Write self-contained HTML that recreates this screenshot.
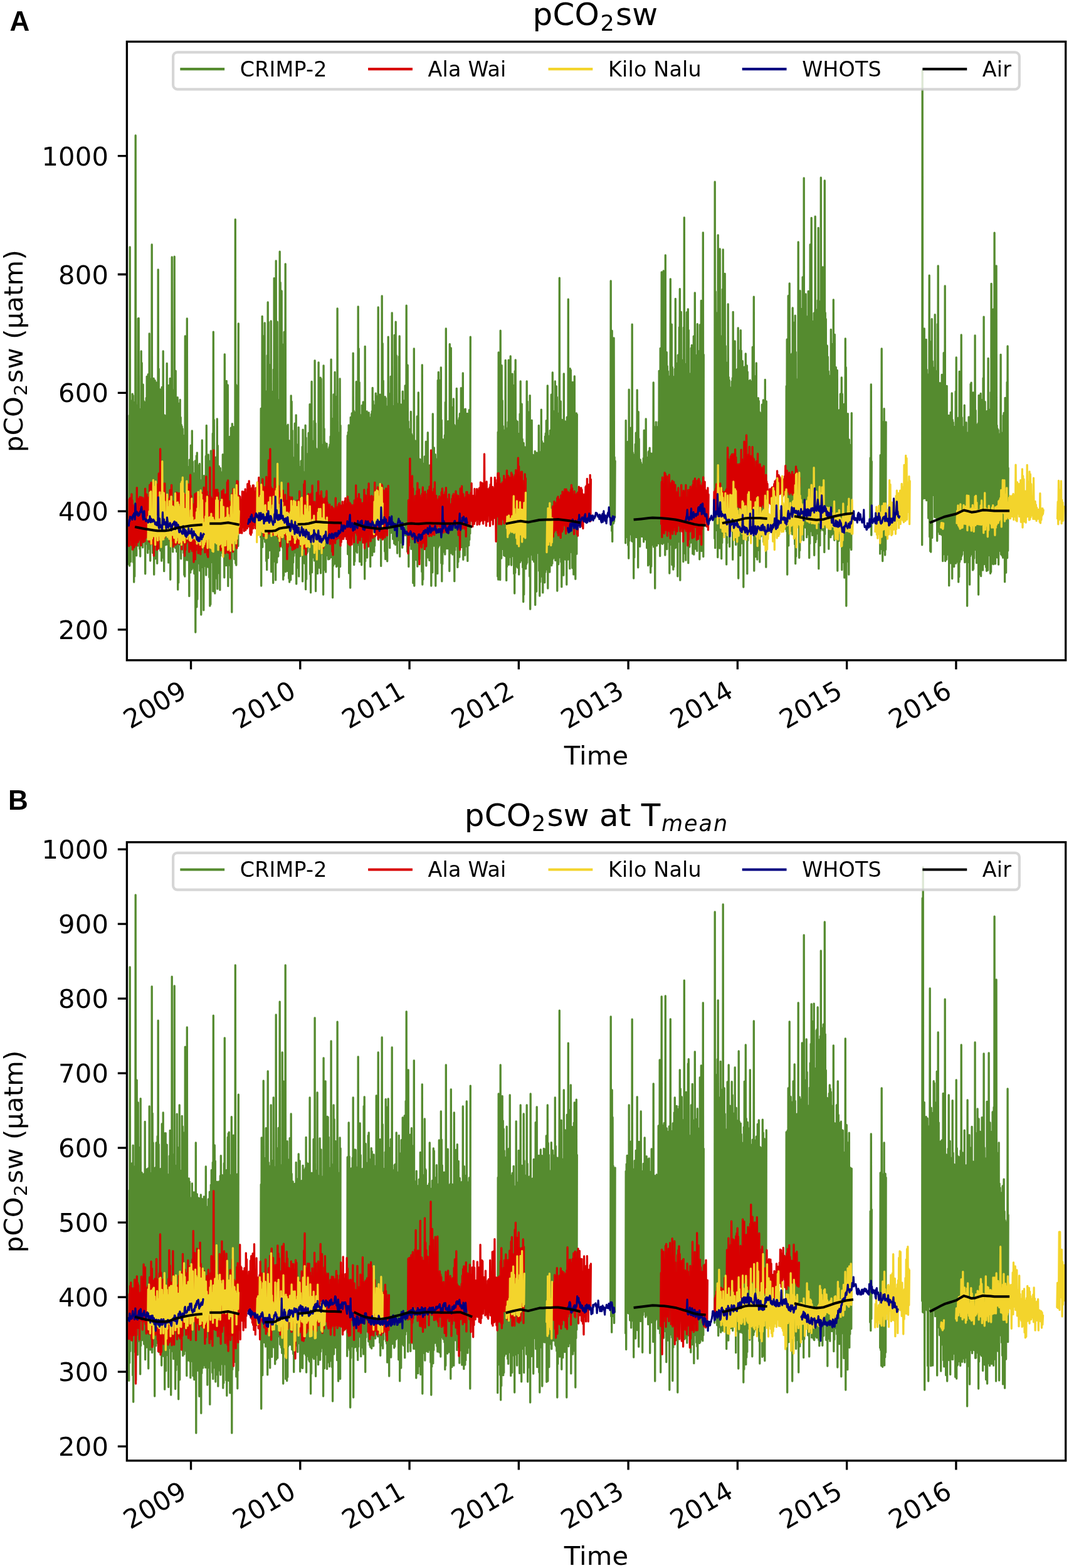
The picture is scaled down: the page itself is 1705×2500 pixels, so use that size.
<!DOCTYPE html>
<html lang="en"><head><meta charset="utf-8"><title>pCO2sw time series</title>
<style>html,body{margin:0;padding:0;background:#fff}body{width:1705px;height:2500px;overflow:hidden}svg{display:block}text{font-family:"DejaVu Sans","Liberation Sans",sans-serif;fill:#000;letter-spacing:0.2px}.pl{font-family:"Liberation Sans","DejaVu Sans",sans-serif;font-weight:bold;font-size:44px;letter-spacing:0}</style>
</head><body>
<svg width="1705" height="2500" viewBox="0 0 1705 2500">
<rect width="1705" height="2500" fill="#fff"/>
<text class="pl" x="15.5" y="48.7">A</text>
<text class="pl" x="13" y="1290.8">B</text>
<clipPath id="clipA"><rect x="202.4" y="66.4" width="1497.3" height="986.3000000000001"/></clipPath>
<g clip-path="url(#clipA)"><path d="M205.7 900.0L206.2 662.4L206.7 902.0L207.2 394.0L207.7 863.5L208.2 679.8L208.7 895.4L209.2 639.2L209.7 857.6L210.2 681.6L210.7 864.7L211.2 628.1L211.7 864.4L212.2 630.6L212.7 896.5L213.2 660.0L213.7 928.0L214.2 676.9L214.7 919.0L215.2 641.2L215.7 847.8L216.2 216.0L216.7 839.6L217.2 661.8L217.7 885.8L218.2 675.3L218.7 865.9L219.2 645.9L219.7 870.1L220.2 508.0L220.7 869.2L221.2 507.4L221.7 867.3L222.2 672.4L222.7 875.2L223.2 652.6L223.7 887.1L224.2 667.9L224.7 860.1L225.2 560.0L225.7 869.3L226.2 578.6L226.7 845.1L227.2 667.7L227.7 872.9L228.2 613.2L228.7 849.0L229.2 639.5L229.7 861.1L230.2 659.4L230.7 841.2L231.2 641.6L231.7 914.8L232.2 649.4L232.7 856.7L233.2 634.5L233.7 867.2L234.2 600.3L234.7 837.5L235.2 642.5L235.7 881.6L236.2 596.8L236.7 856.7L237.2 602.7L237.7 875.1L238.2 532.0L238.7 848.2L239.2 604.0L239.7 894.0L240.2 636.9L240.7 860.3L241.2 635.5L241.7 854.0L242.2 390.0L242.7 867.7L243.2 652.4L243.7 881.5L244.2 641.6L244.7 849.0L245.2 603.5L245.7 916.0L246.2 663.4L246.7 859.2L247.2 606.6L247.7 890.8L248.2 642.8L248.7 872.4L249.2 609.8L249.7 869.7L250.2 625.1L250.7 898.3L251.2 657.6L251.7 852.8L252.2 430.0L252.7 854.9L253.2 588.1L253.7 857.4L254.2 642.9L254.7 868.8L255.2 621.0L255.7 877.9L256.2 638.4L256.7 866.8L257.2 666.8L257.7 894.2L258.2 617.4L258.7 889.4L259.2 656.3L259.7 873.8L260.2 560.0L260.7 841.6L261.2 668.3L261.7 910.7L262.2 662.0L262.7 847.4L263.2 668.0L263.7 868.8L264.2 669.4L264.7 846.9L265.2 662.3L265.7 868.3L266.2 579.4L266.7 855.4L267.2 659.5L267.7 859.6L268.2 636.4L268.7 897.0L269.2 614.4L269.7 868.9L270.2 665.7L270.7 894.2L271.2 603.3L271.7 924.0L272.2 649.4L272.7 859.3L273.2 617.8L273.7 854.7L274.2 410.0L274.7 860.2L275.2 660.7L275.7 879.8L276.2 675.1L276.7 869.0L277.2 621.7L277.7 866.6L278.2 409.2L278.7 856.8L279.2 666.2L279.7 873.6L280.2 591.3L280.7 868.6L281.2 657.9L281.7 879.6L282.2 650.0L282.7 874.6L283.2 633.7L283.7 940.0L284.2 655.4L284.7 929.1L285.2 677.2L285.7 868.5L286.2 642.8L286.7 864.1L287.2 637.4L287.7 854.7L288.2 665.5L288.7 890.8L289.2 677.2L289.7 859.2L290.2 679.9L290.7 868.1L291.2 683.6L291.7 876.2L292.2 694.1L292.8 881.6L293.3 717.3L293.8 916.5L294.3 722.0L294.8 919.1L295.3 536.0L295.8 893.2L296.3 717.5L296.8 887.6L297.3 690.1L297.8 885.6L298.3 508.0L298.8 893.0L299.3 744.2L299.8 884.2L300.3 746.0L300.8 884.5L301.3 761.4L301.8 950.4L302.3 733.2L302.8 894.9L303.3 755.9L303.8 912.9L304.3 710.1L304.8 886.0L305.3 749.2L305.8 907.9L306.3 687.0L306.8 905.7L307.3 735.8L307.8 891.0L308.3 754.3L308.8 902.5L309.3 755.8L309.8 914.6L310.3 771.1L310.8 898.0L311.3 734.8L311.8 1008.0L312.3 745.0L312.8 945.2L313.3 726.6L313.8 967.8L314.3 721.8L314.8 955.4L315.3 762.2L315.8 888.6L316.3 742.2L316.8 893.1L317.3 764.9L317.8 898.3L318.3 739.4L318.8 909.9L319.3 778.0L319.8 901.1L320.3 770.2L320.8 980.0L321.3 765.5L321.8 892.8L322.3 702.0L322.8 897.8L323.3 759.4L323.8 904.4L324.3 763.4L324.8 972.8L325.3 758.7L325.8 893.7L326.3 763.9L326.8 891.7L327.3 763.5L327.8 902.6L328.3 727.2L328.8 916.9L329.3 678.5L329.8 899.1L330.3 741.7L330.8 891.4L331.3 757.1L331.8 904.1L332.3 724.9L332.8 898.6L333.3 745.4L333.8 920.4L334.3 735.5L334.8 966.0L335.3 741.2L335.8 963.6L336.3 719.0L336.8 893.3L337.3 734.2L337.8 896.3L338.3 743.5L338.8 888.8L339.3 691.2L339.8 942.8L340.3 529.2L340.8 914.5L341.3 669.3L341.8 874.0L342.3 748.1L342.8 946.1L343.3 750.0L343.8 878.3L344.3 729.2L344.8 877.8L345.3 756.8L345.8 922.3L346.3 668.0L346.8 938.9L347.3 710.5L347.8 877.8L348.3 744.2L348.8 906.0L349.3 743.5L349.8 914.1L350.3 750.5L350.8 940.6L351.3 746.3L351.8 886.2L352.3 757.7L352.8 872.4L353.3 753.1L353.8 874.9L354.3 754.2L354.8 881.6L355.3 724.6L355.8 873.5L356.3 743.3L356.8 879.0L357.3 746.4L357.8 920.8L358.3 564.8L358.8 883.5L359.3 671.8L359.8 887.5L360.3 720.6L360.8 901.5L361.3 607.3L361.8 891.2L362.3 642.4L362.8 858.2L363.3 614.0L363.8 934.4L364.3 719.2L364.8 876.7L365.3 701.2L365.8 884.7L366.3 696.3L366.8 901.3L367.3 702.3L367.8 920.8L368.3 682.2L368.8 857.3L369.3 699.0L369.8 976.0L370.3 675.6L370.8 860.1L371.3 685.0L371.8 855.8L372.3 680.6L372.8 873.2L373.3 688.5L373.8 891.4L374.3 693.0L374.8 875.1L375.3 350.0L375.8 898.2L376.3 613.2L376.8 901.1L377.3 614.8L377.8 873.9L378.3 649.7L378.8 862.9L379.3 647.3L379.8 870.5L380.3 516.0M415.7 856.4L416.2 651.3L416.7 934.0L417.2 651.1L417.7 856.8L418.2 504.3L418.7 872.3L419.2 663.0L419.7 859.2L420.2 536.0L420.7 850.4L421.2 647.7L421.7 837.0L422.2 514.8L422.7 864.0L423.2 632.5L423.7 835.1L424.2 630.2L424.7 894.4L425.2 623.6L425.7 908.4L426.2 566.7L426.7 871.0L427.2 482.0L427.7 889.7L428.2 513.5L428.7 861.7L429.2 637.8L429.7 877.6L430.2 581.9L430.7 858.5L431.2 662.0L431.7 850.7L432.2 512.0L432.7 911.7L433.2 635.9L433.7 855.6L434.2 652.5L434.7 887.7L435.2 624.2L435.7 929.4L436.2 589.1L436.7 895.4L437.2 443.6L437.7 840.0L438.2 464.8L438.7 861.1L439.2 642.4L439.7 924.8L440.2 416.0L440.7 873.4L441.2 593.1L441.7 896.8L442.2 513.2L442.7 877.2L443.2 658.4L443.7 887.1L444.2 660.2L444.7 847.6L445.2 637.3L445.7 877.8L446.2 401.2L446.7 852.0L447.2 450.5L447.7 870.3L448.2 635.3L448.7 856.6L449.2 464.0L449.7 860.2L450.2 646.6L450.7 873.2L451.2 652.6L451.7 924.0L452.2 548.9L452.7 917.9L453.2 529.3L453.7 892.1L454.2 665.0L454.7 845.3L455.2 420.8L455.7 911.6L456.2 678.9L456.7 854.3L457.2 697.4L457.7 858.2L458.2 709.7L458.7 910.4L459.2 677.2L459.7 877.6L460.2 705.8L460.7 922.2L461.2 702.6L461.7 928.0L462.2 720.6L462.7 871.2L463.2 719.8L463.7 924.6L464.2 630.8L464.7 874.9L465.2 640.2L465.7 864.9L466.2 686.4L466.7 915.1L467.2 740.4L467.7 896.9L468.2 729.8L468.7 886.3L469.2 733.6L469.7 873.6L470.2 675.2L470.7 880.8L471.2 732.2L471.7 875.5L472.2 661.8L472.7 930.9L473.2 751.1L473.7 893.1L474.2 743.5L474.7 868.9L475.2 708.7L475.7 905.6L476.2 681.3L476.7 918.9L477.2 747.0L477.7 869.7L478.2 744.6L478.7 886.7L479.1 747.5L479.6 864.3L480.1 735.0L480.6 869.6L481.1 755.4L481.6 876.3L482.1 712.3L482.6 926.9L483.1 685.1L483.6 874.6L484.1 757.1L484.6 878.4L485.1 753.2L485.6 898.0L486.1 756.5L486.6 883.6L487.1 678.2L487.6 939.7L488.1 697.9L488.6 923.4L489.1 723.5L489.6 881.9L490.1 746.1L490.6 879.5L491.1 749.8L491.6 872.8L492.1 690.4L492.6 872.2L493.1 693.9L493.6 870.8L494.1 644.7L494.6 915.4L495.1 713.4L495.6 944.8L496.1 734.7L496.6 876.5L497.1 608.4L497.6 912.6L498.1 723.0L498.6 889.0L499.1 703.8L499.6 879.2L500.1 703.0L500.6 887.1L501.1 671.1L501.6 893.9L502.1 574.8L502.6 880.9L503.1 674.9L503.6 942.5L504.1 715.0L504.6 875.5L505.1 721.5L505.6 885.1L506.1 716.6L506.6 914.4L507.1 729.2L507.6 890.8L508.1 577.8L508.6 892.5L509.1 732.7L509.6 905.3L510.1 725.8L510.6 894.5L511.1 602.1L511.6 913.8L512.1 604.0L512.6 877.7L513.1 734.3L513.6 883.1L514.1 716.9L514.6 875.1L515.1 708.8L515.6 948.0L516.1 582.8L516.6 900.4L517.1 683.6L517.6 908.4L518.1 705.2L518.6 884.4L519.1 707.3L519.6 912.0L520.1 718.1L520.6 868.7L521.1 707.5L521.6 868.2L522.1 719.3L522.6 885.8L523.1 716.3L523.6 891.8L524.1 720.9L524.6 887.3L525.1 712.9L525.6 891.2L526.1 708.9L526.6 883.6L527.1 696.0L527.6 888.6L528.1 573.2L528.6 886.9L529.1 667.1L529.6 873.3L530.1 701.1L530.6 952.8L531.1 719.8L531.6 902.0L532.1 628.9L532.6 874.3L533.1 693.7L533.6 899.1L534.1 593.5L534.6 883.1L535.1 653.1L535.6 895.2L536.1 706.8L536.6 903.6L537.1 632.1L537.6 897.1L538.1 492.0L538.6 888.0L539.1 689.8L539.6 902.6L540.1 692.1L540.6 920.2L541.1 689.7L541.6 890.7L542.1 604.0L542.6 903.4L543.1 678.4M553.7 845.1L554.2 694.4L554.7 883.5L555.2 689.2L555.7 842.6L556.2 677.9L556.7 913.9L557.2 685.0L557.7 862.1L558.2 679.3L558.7 937.2L559.2 665.5L559.7 859.1L560.2 681.7L560.7 859.0L561.2 658.9L561.7 850.7L562.2 672.1L562.7 851.7L563.2 563.2L563.7 842.1L564.2 655.0L564.7 900.6L565.2 684.1L565.7 895.1L566.2 657.6L566.7 856.2L567.2 668.4L567.7 878.8L568.2 608.6L568.7 871.2L569.2 672.8L569.7 881.2L570.2 684.5L570.7 869.0L571.2 488.8L571.7 856.6L572.2 555.8L572.7 854.5L573.2 609.7L573.7 895.5L574.2 679.6L574.7 848.2L575.2 673.0L575.7 877.5L576.2 661.4L576.7 900.8L577.2 646.3L577.7 845.0L578.2 670.8L578.7 864.6L579.2 641.0L579.7 853.8L580.2 666.0L580.7 839.1L581.2 665.9L581.7 923.1L582.2 552.3L582.7 894.8L583.2 674.4L583.7 844.4L584.2 657.1L584.7 862.6L585.2 656.0L585.7 889.0L586.2 669.8L586.7 843.6L587.2 662.8L587.7 865.9L588.2 657.8L588.7 832.1L589.2 673.5L589.7 839.2L590.2 677.1L590.7 903.4L591.2 665.7L591.7 845.5L592.2 660.4L592.7 855.0L593.2 655.7L593.7 885.5L594.2 618.4L594.7 839.2L595.2 639.6L595.7 830.4L596.2 674.6L596.7 879.9L597.2 646.5L597.7 870.0L598.2 656.4L598.7 843.9L599.2 627.2L599.7 852.0L600.2 631.5L600.7 837.0L601.2 635.8L601.7 839.4L602.2 652.4L602.7 838.3L603.2 490.0L603.7 860.8L604.2 644.7L604.7 832.3L605.2 654.9L605.7 841.1L606.2 629.1L606.7 833.0L607.2 642.0L607.7 902.4L608.2 657.1L608.7 853.1L609.2 472.0L609.7 841.0L610.2 547.7L610.7 834.4L611.2 607.1L611.7 854.1L612.2 645.0L612.7 827.6L613.2 656.3L613.7 879.2L614.2 632.6L614.7 891.6L615.2 634.8L615.7 832.4L616.2 659.9L616.7 870.3L617.2 656.0L617.7 894.8L618.2 648.0L618.7 825.9L619.2 537.2L619.7 824.5L620.2 627.4L620.7 837.7L621.2 651.2L621.7 873.6L622.2 661.9L622.7 828.0L623.2 600.3L623.7 849.6L624.2 650.5L624.7 841.1L625.2 498.8L625.7 840.9L626.2 657.9L626.7 859.6L627.2 660.2L627.7 838.5L628.2 647.1L628.7 866.6L629.2 534.5L629.7 845.0L630.2 658.5L630.7 868.5L631.2 513.2L631.7 837.3L632.2 566.6L632.7 866.3L633.2 643.6L633.7 882.1L634.2 646.4L634.7 861.5L635.2 648.5L635.7 847.9L636.2 568.4L636.7 837.2L637.2 535.9L637.7 887.3L638.2 648.3L638.7 856.6L639.2 644.8L639.7 850.1L640.2 649.9L640.7 865.4L641.2 650.1L641.7 873.2L642.2 624.1L642.7 864.5L643.2 638.5L643.7 826.1L644.2 664.7L644.7 830.6L645.2 646.5L645.7 836.4L646.2 614.8L646.7 853.7L647.2 644.5L647.7 838.3L648.2 487.2L648.7 828.3L649.2 597.0L649.7 879.6L650.2 582.2L650.7 851.7L651.2 672.0L651.8 903.4L652.3 685.0L652.8 848.0L653.3 684.5L653.8 864.3L654.3 698.3L654.8 852.1L655.3 656.3L655.8 875.3L656.3 691.9L656.8 849.6L657.3 703.4L657.8 858.7L658.3 695.1L658.8 929.6L659.3 737.7L659.8 854.0L660.3 556.0L660.8 934.0L661.3 710.4L661.8 863.1L662.3 702.8L662.8 888.3L663.3 712.9L663.8 892.5L664.3 720.7L664.8 856.4L665.3 664.0L665.8 903.2L666.3 701.2L666.8 864.6L667.3 625.9L667.8 858.4L668.3 734.3L668.8 891.8L669.3 732.1L669.8 859.7L670.3 732.6L670.8 853.8L671.3 733.2L671.8 870.6L672.3 748.2L672.8 911.6L673.3 582.0L673.8 932.0L674.3 739.0L674.8 924.1L675.3 742.5L675.8 870.5L676.3 751.4L676.8 859.7L677.3 727.8L677.8 854.7L678.3 749.5L678.8 860.5L679.3 704.1L679.8 902.1L680.3 748.0L680.8 867.8L681.3 747.4L681.8 863.6L682.3 689.7L682.8 888.9L683.3 754.4L683.8 882.4L684.3 757.0L684.8 893.4L685.3 742.0L685.8 882.7L686.3 747.8L686.8 870.6L687.3 754.6L687.8 934.0L688.3 751.4L688.8 864.7L689.3 744.3L689.8 912.7L690.3 659.8L690.8 858.1L691.3 737.9L691.8 870.2L692.3 713.9L692.8 862.3L693.3 749.3L693.8 856.7L694.3 724.7L694.8 934.0L695.3 732.5L695.8 858.1L696.3 732.3L696.8 906.8L697.3 738.3L697.8 914.4L698.3 606.3L698.8 873.1L699.3 593.4L699.8 870.5L700.3 606.0L700.8 854.7L701.3 711.1L701.8 868.9L702.3 638.4L702.8 858.2L703.3 586.0L703.8 897.9L704.3 669.9L704.8 926.8L705.3 713.4L705.8 899.2L706.3 700.6L706.8 855.3L707.3 709.6L707.8 872.1L708.3 702.6L708.8 880.2L709.3 694.0L709.8 883.9L710.3 641.5L710.8 875.1L711.3 524.0L711.8 867.3L712.3 705.5L712.8 867.6L713.3 684.1L713.8 874.7L714.3 671.7L714.8 855.1L715.3 681.4L715.8 870.0L716.3 671.2L716.8 910.5L717.3 548.6L717.8 871.9L718.3 652.7L718.8 881.9L719.3 554.8L719.8 876.7L720.3 671.7L720.8 878.9L721.3 649.6L721.8 884.1L722.3 677.4L722.8 849.0L723.3 635.8L723.8 864.7L724.3 677.1L724.8 926.7L725.3 679.0L725.8 876.9L726.3 680.6L726.8 845.6L727.3 686.1L727.8 870.5L728.3 619.3L728.8 870.8L729.3 669.8L729.8 904.4L730.3 673.7L730.8 895.8L731.3 671.4L731.8 863.6L732.3 666.5L732.8 888.2L733.3 659.7L733.8 848.0L734.3 666.6L734.8 870.4L735.3 618.7L735.8 872.5L736.3 678.7L736.8 853.9L737.3 672.2L737.8 872.0L738.3 594.8L738.8 892.3L739.3 657.9L739.8 860.8L740.3 661.3L740.8 870.8L741.3 652.6L741.8 885.3L742.3 652.1L742.8 870.3L743.3 678.3L743.8 871.1L744.3 669.6L744.8 871.1L745.3 659.3L745.8 894.4L746.3 679.2L746.8 866.7L747.3 672.5L747.8 869.6L748.3 653.6L748.8 860.5L749.3 674.9L749.8 850.7L750.3 537.2M793.7 918.9L794.2 688.9L794.7 924.0L795.2 562.0L795.7 878.3L796.2 696.2L796.7 910.0L797.2 676.7L797.7 924.4L798.2 527.2L798.7 887.5L799.2 662.2L799.7 890.0L800.2 582.7L800.7 875.7L801.2 638.6L801.7 873.9L802.2 679.4L802.7 871.9L803.2 695.9L803.7 885.6L804.2 686.5L804.7 877.5L805.2 703.3L805.7 886.7L806.2 574.5L806.7 875.2L807.2 682.6L807.7 925.4L808.2 684.7L808.7 903.2L809.2 703.7L809.7 894.0L810.2 672.8L810.7 894.9L811.2 574.1L811.7 900.3L812.2 685.8L812.7 874.8L813.2 592.0L813.7 888.2L814.2 567.9L814.7 873.6L815.2 683.9L815.7 901.1L816.2 694.9L816.7 875.1L817.2 596.2L817.7 872.0L818.2 614.1L818.7 886.9L819.2 693.2L819.7 914.7L820.2 661.2L820.7 946.0L821.2 591.7L821.7 913.3L822.2 573.9L822.7 894.2L823.2 670.1L823.7 883.2L824.2 714.3L824.7 903.6L825.2 672.1L825.7 905.0L826.2 691.3L826.7 884.4L827.2 691.6L827.7 915.9L828.2 699.4L828.7 881.8L829.2 660.0L829.7 896.3L830.2 608.0L830.7 889.1L831.2 707.0L831.7 893.3L832.2 644.1L832.7 892.1L833.2 700.1L833.7 904.7L834.2 715.6L834.7 959.5L835.2 706.3L835.7 948.1L836.2 729.3L836.7 883.6L837.2 712.8L837.7 904.6L838.2 736.6L838.7 906.8L839.2 728.7L839.7 899.4L840.2 608.0L840.7 897.0L841.2 640.2L841.7 886.1L842.2 656.7L842.7 887.6L843.2 708.0L843.7 885.8L844.2 731.7L844.7 919.1L845.2 630.6L845.7 971.2L846.2 723.6L846.7 884.5L847.2 729.2L847.7 876.9L848.2 670.1L848.7 880.8L849.2 731.9L849.7 892.4L850.2 725.4L850.7 877.5L851.2 728.6L851.7 895.6L852.2 733.0L852.7 878.6L853.2 719.3L853.7 964.4L854.2 726.2L854.7 901.8L855.2 722.1L855.7 943.0L856.2 721.9L856.8 879.6L857.3 728.3L857.8 877.4L858.3 742.1L858.8 881.9L859.3 678.4L859.8 910.2L860.3 727.6L860.8 950.0L861.3 720.9L861.8 927.9L862.3 731.2L862.8 901.6L863.3 653.2L863.8 883.0L864.3 703.5L864.8 919.4L865.3 724.4L865.8 944.9L866.3 706.9L866.8 873.3L867.3 723.9L867.8 875.8L868.3 720.3L868.8 928.8L869.3 695.8L869.8 912.2L870.3 690.9L870.8 908.3L871.3 670.6L871.8 892.9L872.3 702.7L872.8 887.4L873.3 614.8L873.8 938.0L874.3 694.9L874.8 890.1L875.3 704.1L875.8 869.4L876.3 705.4L876.8 912.0L877.3 686.5L877.8 896.7L878.3 694.3L878.8 885.2L879.3 629.2L879.8 901.6L880.3 679.0L880.8 898.4L881.3 594.0L881.8 891.3L882.3 696.9L882.8 870.0L883.3 655.9L883.8 889.1L884.3 694.9L884.8 871.9L885.3 608.0L885.8 893.6L886.3 651.4L886.8 890.7L887.3 615.8L887.8 869.6L888.3 633.2L888.8 942.0L889.3 658.8L889.8 884.2L890.3 696.3L890.8 899.6L891.3 673.7L891.8 886.1L892.3 443.2L892.8 887.0L893.3 673.8L893.8 889.1L894.3 639.9L894.8 896.0L895.3 678.3L895.8 935.7L896.3 669.4L896.8 866.1L897.3 671.9L897.8 869.2L898.3 681.2L898.8 917.2L899.3 596.0L899.8 864.5L900.3 695.9L900.8 875.0L901.3 671.8L901.8 892.1L902.3 692.9L902.8 869.7L903.3 675.6L903.8 932.0L904.3 665.2L904.8 863.6L905.3 665.1L905.8 892.1L906.3 477.2L906.8 871.7L907.3 680.3L907.8 868.8L908.3 673.3L908.8 906.5L909.3 587.7L909.8 880.5L910.3 590.0L910.8 871.0L911.3 629.1L911.8 878.8L912.3 636.4L912.8 905.6L913.3 609.4L913.8 874.0L914.3 644.6L914.8 915.9L915.3 658.6L915.8 872.2L916.3 600.0L916.8 872.6L917.3 663.0L917.8 923.2L918.3 666.9L918.8 861.6L919.3 658.8L919.8 883.2L920.3 660.8M973.7 819.2L974.2 448.0L974.7 821.6L975.2 530.0L975.7 846.5L976.2 527.4L976.7 863.4L977.1 585.2L977.6 830.6L978.1 652.7L978.6 834.6L979.1 538.9L979.6 831.4L980.1 728.8L980.6 825.2L981.1 735.0M997.7 865.8L998.2 670.4L998.7 856.7L999.2 720.2L999.7 856.1L1000.2 713.8L1000.7 849.9L1001.2 704.5L1001.7 869.2L1002.2 728.4L1002.7 890.2L1003.2 621.2L1003.7 862.2L1004.2 728.6L1004.7 842.2L1005.2 684.9L1005.7 851.8L1006.2 682.1L1006.7 850.4L1007.2 718.7L1007.7 862.8L1008.2 517.2L1008.7 863.3L1009.2 721.6L1009.7 864.1L1010.2 725.7L1010.7 922.0L1011.2 725.1L1011.7 888.7L1012.2 741.5L1012.7 846.2L1013.2 708.2L1013.7 841.6L1014.2 690.1L1014.7 856.5L1015.2 743.4L1015.7 856.0L1016.2 622.0L1016.7 849.0L1017.2 732.3L1017.7 904.8L1018.2 656.7L1018.7 853.0L1019.2 699.7L1019.7 854.5L1020.2 745.0L1020.7 871.3L1021.2 732.9L1021.7 852.5L1022.2 737.5L1022.7 847.4L1023.2 747.2L1023.7 855.4L1024.2 744.3L1024.7 855.3L1025.2 740.5L1025.7 853.3L1026.2 730.7L1026.7 863.9L1027.2 686.2L1027.7 859.4L1028.2 738.5L1028.7 853.3L1029.2 728.0L1029.7 860.0L1030.2 668.0L1030.7 856.1L1031.2 729.2L1031.7 873.7L1032.2 738.9L1032.7 863.3L1033.2 741.2L1033.7 901.7L1034.2 720.4L1034.7 859.4L1035.2 718.8L1035.7 899.5L1036.2 714.2L1036.7 848.1L1037.2 726.9L1037.7 913.0L1038.2 723.0L1038.7 903.2L1039.2 723.8L1039.7 868.9L1040.2 730.6L1040.7 843.4L1041.2 722.6L1041.7 849.9L1042.2 610.0L1042.7 871.9L1043.2 689.7L1043.7 842.4L1044.2 718.7L1044.7 938.0L1045.2 680.4L1045.7 845.7L1046.2 673.0L1046.7 867.8L1047.2 688.8L1047.7 869.9L1048.2 680.8L1048.7 841.1L1049.2 702.9L1049.7 855.8L1050.2 672.7L1050.7 866.4L1051.2 591.3L1051.7 843.1L1052.2 609.3L1052.7 886.5L1053.2 555.3L1053.7 855.5L1054.2 613.9L1054.7 866.0L1055.2 434.0L1055.7 840.7L1056.2 599.4L1056.7 867.3L1057.2 590.6L1057.7 849.4L1058.2 432.0L1058.7 849.7L1059.2 595.5L1059.8 865.8L1060.3 595.1L1060.8 885.1L1061.3 406.8L1061.8 863.8L1062.3 604.6L1062.8 836.6L1063.3 561.7L1063.8 875.5L1064.3 583.7L1064.8 833.7L1065.3 592.0L1065.8 850.5L1066.3 599.8L1066.8 864.3L1067.3 602.7L1067.8 914.0L1068.3 608.5L1068.8 850.3L1069.3 444.8L1069.8 865.9L1070.3 584.2L1070.8 868.7L1071.3 517.1L1071.8 900.6L1072.3 585.3L1072.8 870.6L1073.3 600.6L1073.8 908.1L1074.3 602.9L1074.8 903.5L1075.3 600.5L1075.8 836.5L1076.3 588.2L1076.8 873.8L1077.3 476.5L1077.8 873.0L1078.3 584.2L1078.8 852.7L1079.3 616.6L1079.8 850.2L1080.3 578.8L1080.8 918.8L1081.3 566.1L1081.8 838.8L1082.3 600.4L1082.8 829.0L1083.3 522.0L1083.8 863.9L1084.3 460.7L1084.8 925.0L1085.3 534.3L1085.8 843.3L1086.3 497.3L1086.8 838.3L1087.3 573.9L1087.8 827.4L1088.3 597.9L1088.8 841.3L1089.3 587.7L1089.8 895.6L1090.3 522.2L1090.8 875.2L1091.3 346.8L1091.8 882.2L1092.3 589.1L1092.8 845.3L1093.3 580.6L1093.8 893.2L1094.3 599.7L1094.8 844.1L1095.3 497.9L1095.8 846.5L1096.3 500.5L1096.8 830.3L1097.3 492.8L1097.8 897.7L1098.3 526.4L1098.8 855.5L1099.3 601.8L1099.8 871.9L1100.3 596.2L1100.8 851.6L1101.3 606.2L1101.8 865.2L1102.3 554.9L1102.8 839.5L1103.3 550.3L1103.8 828.5L1104.3 574.1L1104.8 882.9L1105.3 598.7L1105.8 872.3L1106.3 536.2L1106.8 884.1L1107.3 608.5L1107.8 874.9L1108.3 466.8L1108.8 845.4L1109.3 566.1L1109.8 875.0L1110.3 597.4L1110.8 866.0L1111.3 584.6L1111.8 878.4L1112.3 516.6L1112.8 848.1L1113.3 595.8L1113.8 857.7L1114.3 564.1L1114.8 851.6L1115.3 559.5L1115.8 891.8L1116.3 518.0L1116.8 836.1L1117.3 547.6L1117.8 837.8L1118.3 479.5L1118.8 878.6L1119.3 583.8L1119.8 842.1L1120.3 573.3L1120.8 863.2L1121.3 370.8L1121.8 887.5L1122.3 565.4M1139.7 858.6L1140.2 290.0L1140.7 873.7L1141.2 465.0L1141.7 808.3L1142.2 555.5L1142.7 845.3L1143.2 499.2L1143.7 829.8L1144.2 525.3L1144.7 888.5L1145.2 374.8L1145.7 863.8L1146.2 416.2L1146.7 845.5L1147.2 537.5L1147.7 874.1L1148.2 396.9L1148.7 844.1L1149.2 535.7L1149.7 807.3L1150.2 552.6L1150.7 890.7L1151.2 559.3L1151.7 865.4L1152.2 461.2L1152.7 841.2L1153.2 398.0L1153.7 853.2L1154.2 483.9L1154.7 813.7L1155.2 556.6L1155.7 825.0L1156.2 436.5L1156.7 849.3L1157.2 551.6L1157.7 835.4L1158.2 577.8L1158.7 899.9L1159.2 580.7L1159.7 865.8L1160.2 626.6L1160.7 846.0L1161.2 485.0L1161.7 815.7L1162.2 601.4L1162.7 839.7L1163.2 606.2L1163.7 871.5L1164.2 617.6L1164.7 826.5L1165.2 618.2L1165.7 824.9L1166.2 631.3L1166.7 842.9L1167.2 608.2L1167.7 840.1L1168.2 602.7L1168.7 892.2L1169.2 497.3L1169.7 838.3L1170.2 622.2L1170.7 839.3L1171.2 616.0L1171.7 832.5L1172.2 544.0L1172.7 844.4L1173.2 589.2L1173.7 868.6L1174.2 605.7L1174.7 857.6L1175.2 622.2L1175.7 837.9L1176.2 588.1L1176.7 818.5L1177.2 522.9L1177.7 922.0L1178.2 558.6L1178.7 820.0L1179.2 610.9L1179.7 833.5L1180.2 603.8L1180.8 885.7L1181.3 526.6L1181.8 839.6L1182.3 559.2L1182.8 866.2L1183.3 604.0L1183.8 818.0L1184.3 575.6L1184.8 824.4L1185.3 596.1L1185.8 936.0L1186.3 608.0L1186.8 832.1L1187.3 585.2L1187.8 838.6L1188.3 608.9L1188.8 851.6L1189.3 564.0L1189.8 829.0L1190.3 595.8L1190.8 817.8L1191.3 583.0L1191.8 914.7L1192.3 592.9L1192.8 861.7L1193.3 627.8L1193.8 843.9L1194.3 614.8L1194.8 840.2L1195.3 607.1L1195.8 846.0L1196.3 606.2L1196.8 818.0L1197.3 608.2L1197.8 853.8L1198.3 612.1L1198.8 811.2L1199.3 628.6L1199.8 841.2L1200.3 553.4L1200.8 828.5L1201.3 577.7L1201.8 820.2L1202.3 473.2L1202.8 910.0L1203.3 623.4L1203.8 851.8L1204.3 599.8L1204.8 870.9L1205.3 635.4L1205.8 887.7L1206.3 578.9L1206.8 842.8L1207.3 657.3L1207.8 892.1L1208.3 653.3L1208.8 855.3L1209.3 634.6L1209.8 824.2L1210.3 639.3L1210.8 877.4L1211.3 656.9L1211.8 896.0L1212.3 665.2L1212.8 838.8L1213.3 659.9L1213.8 855.1L1214.3 658.5L1214.8 841.6L1215.3 645.2L1215.8 820.8L1216.3 646.5L1216.8 827.8L1217.3 638.0L1217.8 864.0L1218.3 641.5L1218.8 860.2L1219.3 640.6L1219.8 830.1L1220.3 605.4L1220.8 839.1L1221.3 656.0L1221.8 904.2L1222.3 639.9M1253.7 843.7L1254.2 615.6L1254.7 847.3L1255.2 541.2L1255.7 916.0L1256.2 632.5L1256.7 851.4L1257.2 471.7L1257.7 869.9L1258.2 622.7L1258.7 838.6L1259.2 452.0L1259.7 842.6L1260.2 564.9L1260.7 846.6L1261.2 582.9L1261.7 834.5L1262.2 605.7L1262.7 831.5L1263.2 563.6L1263.7 851.9L1264.2 491.0L1264.7 841.6L1265.2 601.1L1265.7 827.8L1266.2 563.2L1266.7 831.8L1267.2 514.0L1267.7 867.7L1268.2 503.1L1268.7 898.7L1269.2 561.3L1269.7 887.1L1270.2 604.6L1270.7 834.5L1271.2 605.9L1271.7 822.0L1272.2 612.4L1272.7 840.4L1273.2 386.0L1273.7 824.9L1274.2 514.7L1274.7 889.3L1275.2 596.2L1275.7 877.5L1276.2 463.6L1276.7 821.0L1277.2 584.0L1277.7 861.3L1278.2 492.6L1278.7 841.9L1279.2 501.6L1279.7 841.6L1280.2 441.8L1280.7 837.6L1281.2 578.5L1281.7 861.3L1282.2 284.0L1282.7 831.1L1283.2 577.5L1283.7 833.1L1284.2 565.9L1284.7 841.1L1285.2 469.0L1285.7 826.9L1286.2 564.5L1286.7 856.7L1287.2 538.7L1287.7 829.1L1288.2 504.5L1288.7 848.7L1289.2 464.3L1289.7 852.3L1290.2 532.1L1290.7 889.4L1291.2 539.1L1291.7 866.6L1292.2 390.0L1292.7 847.2L1293.2 555.2L1293.7 827.5L1294.2 347.5L1294.7 833.6L1295.2 523.8L1295.7 853.5L1296.2 512.7L1296.7 845.4L1297.2 516.2L1297.7 844.3L1298.2 499.2L1298.7 885.3L1299.2 534.3L1299.7 852.9L1300.2 345.2L1300.7 864.4L1301.2 504.6L1301.7 860.1L1302.2 494.1L1302.7 851.0L1303.2 502.0L1303.7 830.1L1304.2 478.8L1304.7 816.7L1305.2 363.3L1305.8 906.7L1306.3 487.8L1306.8 827.5L1307.3 481.2L1307.8 869.7L1308.3 480.3L1308.8 846.0L1309.3 283.2L1309.8 820.1L1310.3 506.4L1310.8 843.1L1311.3 499.4L1311.8 818.0L1312.3 425.8L1312.8 845.5L1313.3 427.7L1313.8 812.3L1314.3 451.6L1314.8 880.4L1315.3 288.0L1315.8 851.5L1316.3 498.7L1316.8 834.0L1317.3 508.7L1317.8 826.2L1318.3 550.5L1318.8 839.3L1319.3 551.5L1319.8 828.2L1320.3 568.8L1320.8 819.1L1321.3 592.0L1321.8 875.2L1322.3 599.0L1322.8 848.7L1323.3 607.7L1323.8 841.7L1324.3 605.2L1324.8 856.6L1325.3 525.4L1325.8 845.1L1326.3 604.9L1326.8 852.4L1327.3 548.7L1327.8 834.3L1328.3 617.7L1328.8 845.6L1329.3 478.0L1329.8 851.0L1330.3 622.7L1330.8 861.3L1331.3 533.3L1331.8 856.4L1332.3 594.7L1332.8 826.7L1333.3 585.6L1333.8 833.1L1334.3 659.5L1334.8 841.7L1335.3 590.4L1335.8 910.0L1336.3 655.0L1336.8 840.5L1337.3 655.7L1337.8 862.3L1338.3 653.8L1338.8 850.4L1339.3 657.3L1339.8 843.4L1340.3 628.1L1340.8 849.9L1341.3 654.0L1341.8 838.7L1342.3 602.0L1342.8 908.5L1343.3 628.1L1343.8 873.3L1344.3 682.2L1344.8 896.4L1345.3 677.0L1345.8 880.9L1346.3 644.5L1346.8 921.1L1347.3 696.5L1347.8 886.3L1348.3 540.0L1348.8 849.6L1349.3 585.7L1349.8 966.0L1350.3 680.5L1350.8 887.6L1351.3 698.7L1351.8 895.0L1352.3 659.6L1352.8 837.6L1353.3 706.4L1353.8 916.0L1354.3 700.8L1354.8 848.9L1355.3 711.6L1355.8 872.8L1356.3 711.6L1356.8 871.9L1357.3 709.2L1357.8 876.4L1358.3 658.6M1387.7 827.7L1388.2 730.0L1388.8 840.5L1389.3 612.8L1389.8 853.2L1390.3 735.7M1403.7 882.9L1404.2 725.7L1404.7 864.2L1405.2 734.8L1405.7 861.2L1406.2 556.0L1406.7 875.8L1407.2 672.5L1407.7 894.6L1408.2 721.9L1408.6 859.0L1409.1 732.0L1409.6 877.7L1410.1 651.7L1410.6 870.8L1411.1 721.0L1411.6 884.9L1412.1 713.6L1412.6 876.2L1413.1 672.9M1470.7 868.8L1471.2 112.0L1471.7 795.5L1472.2 601.2L1472.7 790.8L1473.2 614.1L1473.7 783.8L1474.2 523.8L1474.7 794.5L1475.2 595.3L1475.7 780.0L1476.2 609.7L1476.7 791.9L1477.2 541.3L1477.7 797.8L1478.2 589.4L1478.7 794.9L1479.2 600.3L1479.7 794.5L1480.2 597.1L1480.7 826.2L1481.2 596.6L1481.7 786.2L1482.2 439.2L1482.7 855.9L1483.2 592.7L1483.7 878.7L1484.2 544.9L1484.7 880.0L1485.2 569.9L1485.7 837.5L1486.2 508.7L1486.7 857.4L1487.2 575.9L1487.7 781.7L1488.2 595.2L1488.7 781.2L1489.2 588.2L1489.7 789.4L1490.2 585.8L1490.7 824.4L1491.2 501.7L1491.7 823.8L1492.2 591.3L1492.7 825.2L1493.2 612.4L1493.7 805.0L1494.2 593.8L1494.7 862.3L1495.2 516.7L1495.7 816.7L1496.2 424.0L1496.7 833.6L1497.2 635.9L1497.7 848.1L1498.2 641.6L1498.7 851.5L1499.2 610.7L1499.7 849.9L1500.2 646.6L1500.7 835.0L1501.2 620.2L1501.7 852.8L1502.2 597.3L1502.7 845.4L1503.2 661.8L1503.7 894.6L1504.2 605.5L1504.7 874.8L1505.2 562.6L1505.7 866.8L1506.2 596.8L1506.7 884.0L1507.2 456.0L1507.7 894.6L1508.2 659.0L1508.7 890.4L1509.2 645.3L1509.7 892.0L1510.2 615.5L1510.7 880.8L1511.2 672.6L1511.7 884.1L1512.2 681.8L1512.7 882.1L1513.2 662.3L1513.7 933.7L1514.2 665.1L1514.7 883.6L1515.2 671.0L1515.7 865.7L1516.2 657.7L1516.7 897.9L1517.2 673.6L1517.7 862.2L1518.2 627.0L1518.7 922.5L1519.2 669.3L1519.7 890.9L1520.2 673.4L1520.7 886.7L1521.2 683.6L1521.7 903.6L1522.2 686.6L1522.7 868.2L1523.2 680.2L1523.7 876.8L1524.2 624.2L1524.7 898.2L1525.2 569.9L1525.7 873.8L1526.2 666.0L1526.7 889.5L1527.2 668.9L1527.7 895.9L1528.2 680.9L1528.7 927.9L1529.2 666.0L1529.7 919.7L1530.2 592.3L1530.7 895.8L1531.2 614.6L1531.7 868.4L1532.2 654.9L1532.7 891.8L1533.2 534.0L1533.7 886.6L1534.2 665.7L1534.7 884.2L1535.2 683.6L1535.7 877.8L1536.2 684.1L1536.7 865.7L1537.2 680.3L1537.7 873.0L1538.2 646.1L1538.7 896.5L1539.1 689.8L1539.6 887.9L1540.1 684.1L1540.6 885.1L1541.1 673.7L1541.6 896.3L1542.1 689.6L1542.6 966.0L1543.1 691.2L1543.6 892.5L1544.1 691.1L1544.6 869.2L1545.1 665.0L1545.6 896.6L1546.1 687.7L1546.6 932.0L1547.1 678.1L1547.6 886.7L1548.1 612.3L1548.6 877.2L1549.1 610.1L1549.6 881.6L1550.1 689.0L1550.6 884.0L1551.1 674.2L1551.6 908.9L1552.1 625.8L1552.6 907.3L1553.1 688.5L1553.6 890.2L1554.1 671.2L1554.6 874.9L1555.1 534.8L1555.6 876.4L1556.1 654.5L1556.6 871.4L1557.1 686.9L1557.6 897.5L1558.1 690.1L1558.6 868.7L1559.1 676.9L1559.6 891.7L1560.1 674.8L1560.6 948.0L1561.1 630.3L1561.6 916.0L1562.1 679.3L1562.6 871.9L1563.1 694.2L1563.6 904.6L1564.1 627.5L1564.6 918.6L1565.1 677.6L1565.6 876.9L1566.1 637.6L1566.6 878.0L1567.1 691.5L1567.6 909.0L1568.1 603.0L1568.6 876.6L1569.1 505.2L1569.6 899.6L1570.1 679.8L1570.6 890.3L1571.1 640.7L1571.6 881.5L1572.1 661.9L1572.6 904.3L1573.1 667.9L1573.6 910.3L1574.1 655.7L1574.6 906.7L1575.1 671.2L1575.6 909.2L1576.1 571.5L1576.6 885.7L1577.1 655.2L1577.6 883.5L1578.1 661.2L1578.6 866.3L1579.1 652.9L1579.6 914.3L1580.1 625.6L1580.6 912.0L1581.1 452.3L1581.6 899.3L1582.1 501.1L1582.6 892.9L1583.1 665.3L1583.6 887.0L1584.1 493.1L1584.6 899.5L1585.1 632.7L1585.6 866.6L1586.1 371.2L1586.6 898.5L1587.1 585.1L1587.6 898.9L1588.1 640.5L1588.6 872.5L1589.1 424.0L1589.6 885.3L1590.1 678.3L1590.6 888.8L1591.1 683.6L1591.6 866.7L1592.1 685.6L1592.6 900.1L1593.1 703.9L1593.6 867.8L1594.1 692.3L1594.6 876.7L1595.1 708.6L1595.6 878.6L1596.1 565.3L1596.6 884.0L1597.1 701.1L1597.6 881.2L1598.1 690.5L1598.6 886.3L1599.1 719.5L1599.6 889.2L1600.1 662.4L1600.6 867.3L1601.1 658.5L1601.6 879.9L1602.1 711.9L1602.6 927.7L1603.1 634.5L1603.6 870.4L1604.1 734.4L1604.6 913.0L1605.1 722.9L1605.6 855.1L1606.1 609.5L1606.6 889.6L1607.1 552.0L1607.6 878.0L1608.1 746.2" fill="none" stroke="#558b2f" stroke-width="3.3" stroke-linejoin="round" stroke-linecap="round"/><path d="M205.7 870.5L206.3 795.9L206.9 845.7L207.5 794.2L208.1 861.5L208.7 801.1L209.3 868.9L209.9 787.8L210.5 862.1L211.1 797.9L211.7 876.3L212.3 805.3L212.9 860.1L213.5 816.6L214.1 872.5L214.7 808.5L215.3 864.0L215.9 806.9L216.5 852.7L217.1 805.7L217.7 869.7L218.3 777.6L218.9 861.0L219.5 807.0L220.1 864.3L220.7 795.5L221.3 861.4L221.9 818.6L222.5 857.9L223.1 792.5L223.7 855.3L224.3 808.2L224.9 869.7L225.5 793.0L226.1 854.2L226.7 810.5L227.3 860.0L227.9 793.9L228.5 864.4L229.1 804.4L229.8 858.5L230.4 797.7L231.0 862.7L231.6 779.1L232.2 850.7L232.8 788.7L233.4 857.0L234.0 788.1L234.6 852.7L235.2 793.0L235.8 853.1L236.4 793.7L237.0 857.0L237.6 802.2L238.2 863.7L238.8 773.1L239.4 862.8L240.0 795.6L240.6 867.3L241.2 769.5L241.8 849.6L242.4 795.3L243.0 866.2L243.6 796.1L244.2 866.4L244.8 804.9L245.4 886.1L246.0 792.7L246.6 851.1L247.2 797.5L247.8 860.6L248.4 785.8L249.0 846.4L249.6 772.2L250.2 876.7L250.8 786.6L251.4 863.8L252.0 793.9L252.6 874.8L253.2 754.9L253.8 861.1L254.4 780.0L255.0 856.2L255.6 716.0L256.2 853.1L256.8 783.0L257.4 855.5L258.0 783.4L258.6 846.6L259.2 791.8L259.8 850.3L260.4 771.2L261.0 853.2L261.6 790.1L262.2 857.0L262.8 770.9L263.4 854.0L264.0 789.5L264.6 852.3L265.2 806.4L265.8 850.2L266.4 793.0L267.0 853.3L267.6 799.1L268.2 848.0L268.8 806.2L269.4 846.1L270.0 795.0L270.6 854.1L271.2 781.3L271.8 862.2L272.4 800.5L273.0 858.4L273.6 773.3L274.2 861.9L274.8 799.9L275.4 850.3L276.0 799.5L276.6 871.6L277.2 810.1L277.8 867.1L278.4 810.1L279.0 863.7L279.6 806.4L280.2 868.6L280.8 816.9L281.4 859.6L282.0 785.3L282.6 865.9L283.2 788.6L283.8 853.8L284.4 798.7L285.0 866.6L285.6 786.3L286.2 866.8L286.8 805.2L287.4 862.4L288.0 788.5L288.6 859.1L289.2 798.6L289.8 875.7L290.4 790.4L291.0 865.7L291.6 808.9L292.2 863.4L292.8 786.0L293.4 860.6L294.0 788.7L294.6 886.2L295.2 788.9L295.8 876.7L296.4 807.6L297.0 866.6L297.6 793.3L298.2 864.0L298.8 792.8L299.4 852.6L300.0 772.2L300.6 852.6L301.2 790.7L301.8 879.9L302.4 797.5L303.0 867.0L303.6 757.2L304.2 875.0L304.8 790.5L305.4 853.5L306.0 797.9L306.6 878.5L307.2 803.3L307.8 860.0L308.4 807.0L309.0 896.1L309.6 811.8L310.2 873.5L310.8 787.8L311.4 891.7L312.0 812.8L312.6 876.9L313.2 786.2L313.8 867.5L314.4 796.9L315.0 857.7L315.6 799.0L316.2 882.0L316.8 798.1L317.4 862.0L318.0 792.6L318.6 874.1L319.2 806.6L319.8 883.7L320.4 796.3L321.0 876.5L321.6 785.6L322.2 857.8L322.8 792.9L323.4 867.5L324.0 807.5L324.6 851.9L325.2 777.2L325.8 858.2L326.4 785.0L327.0 880.7L327.6 812.5L328.2 867.0L328.8 759.8L329.4 868.0L330.0 783.6L330.6 884.9L331.2 792.0L331.8 888.2L332.4 791.5L333.0 848.9L333.6 790.4L334.2 863.0L334.8 745.2L335.4 873.5L336.0 792.0L336.6 863.1L337.2 794.6L337.8 871.3L338.4 805.0L339.0 864.8L339.6 796.6L340.2 839.6L340.8 718.0L341.4 843.5L342.0 788.0L342.6 864.4L343.2 804.6L343.8 861.9L344.4 780.8L345.0 848.4L345.6 787.8L346.2 860.4L346.8 780.9L347.4 860.2L348.0 785.8L348.6 860.1L349.2 800.3L349.8 867.0L350.4 801.0L351.0 852.0L351.6 799.1L352.2 877.6L352.8 805.9L353.4 855.6L354.0 783.2L354.6 857.6L355.2 783.1L355.8 842.6L356.4 781.0L357.0 866.7L357.6 802.9L358.2 872.0L358.8 788.7L359.4 881.9L360.0 793.5L360.6 872.7L361.2 787.9L361.8 849.3L362.4 768.9L363.0 880.8L363.6 765.9L364.2 881.6L364.8 807.0L365.4 864.6L366.0 799.5L366.6 890.8L367.2 804.6L367.8 866.7L368.4 801.9L369.0 869.6L369.6 788.2L370.2 865.9L370.8 796.2L371.4 879.7L372.0 779.6L372.6 859.3L373.2 789.8L373.8 856.7L374.4 790.1L375.0 861.6L375.6 799.9L376.2 850.3L376.8 795.1L377.4 874.1L378.0 766.9L378.6 846.2L379.2 767.6L379.8 847.3L380.4 799.1L381.0 840.9L381.6 790.6L382.2 849.5L382.8 792.0L383.4 849.6L384.0 799.6L384.6 839.6L385.2 797.2L385.8 850.1L386.4 783.7L387.0 836.3L387.6 786.2L388.2 841.0L388.8 784.2L389.4 846.7L390.0 787.4L390.6 840.7L391.2 780.0L391.8 845.2L392.4 786.3L393.0 839.6L393.6 787.7L394.2 842.5L394.8 771.6L395.4 834.1L396.0 780.7L396.6 839.4L397.2 767.0L397.8 831.4L398.4 774.3L399.0 850.9L399.6 779.7L400.2 852.8L400.8 785.9L401.4 849.6L402.0 777.7L402.6 838.4L403.2 774.0L403.8 842.5L404.4 774.0L405.0 837.1L405.6 784.1L406.2 832.4L406.8 791.9L407.4 842.3L408.0 777.9L408.6 831.1L409.2 786.8L409.8 837.9L410.4 788.2L411.0 852.5L411.6 786.2L412.2 835.7L412.8 761.4L413.4 838.1L414.0 776.8L414.6 838.8L415.2 792.0L415.8 841.3L416.4 784.0L417.0 839.0L417.6 791.1L418.2 842.1L418.8 763.8L419.4 835.0L420.0 779.8L420.6 854.4L421.2 776.7L421.8 850.3L422.4 800.2L423.0 839.7L423.6 776.4L424.2 846.2L424.8 760.4L425.5 856.5L426.1 782.2L426.7 838.5L427.3 783.2L427.9 838.9L428.5 733.8L429.1 850.5L429.7 796.5L430.3 848.9L430.9 716.0L431.5 833.3L432.1 776.3L432.7 847.1L433.3 782.3L433.9 851.9L434.5 779.3L435.1 852.4L435.7 789.0L436.3 852.7L436.9 788.4L437.5 826.9L438.1 763.0L438.7 839.6L439.3 783.0L439.9 851.5L440.5 793.8L441.1 840.6L441.7 784.5L442.3 854.5L442.9 778.9L443.5 850.1L444.1 774.9L444.7 858.1L445.3 783.3L445.9 858.2L446.5 798.4L447.1 871.3L447.7 795.6L448.3 848.7L448.9 787.2L449.5 856.7L450.1 787.2L450.7 852.9L451.3 782.1L451.9 844.0L452.5 803.1L453.1 850.5L453.7 800.8L454.3 852.0L454.9 789.0L455.5 859.5L456.1 803.7L456.7 853.3L457.3 798.5L457.9 891.5L458.5 808.4L459.1 871.8L459.7 771.0L460.3 862.9L460.9 796.0L461.5 855.4L462.1 792.3L462.7 858.8L463.3 809.9L463.9 869.8L464.5 808.3L465.1 870.1L465.7 792.8L466.3 876.5L466.9 814.7L467.5 869.9L468.1 805.6L468.7 875.6L469.3 804.2L469.9 851.0L470.5 813.6L471.1 874.2L471.7 801.8L472.3 868.0L472.9 805.2L473.5 865.8L474.1 797.9L474.7 872.6L475.3 807.1L475.9 859.1L476.5 803.5L477.1 866.9L477.7 783.4L478.3 859.8L478.9 795.9L479.5 869.8L480.1 811.5L480.7 865.3L481.3 800.0L481.9 863.4L482.5 799.2L483.1 865.4L483.7 806.6L484.3 874.6L484.9 772.0L485.5 852.8L486.1 766.8L486.7 870.8L487.3 800.1L487.9 884.0L488.5 806.0L489.1 846.3L489.7 800.3L490.3 861.8L490.9 799.2L491.5 850.5L492.1 787.6L492.7 860.8L493.3 800.9L493.9 854.6L494.5 797.1L495.1 846.5L495.7 788.1L496.3 863.4L496.9 786.7L497.5 860.1L498.1 774.1L498.7 850.6L499.3 802.7L499.9 863.9L500.5 800.4L501.1 848.3L501.7 800.1L502.3 854.1L502.9 806.5L503.5 863.2L504.1 809.5L504.7 864.0L505.3 785.7L505.9 847.4L506.5 800.0L507.1 854.8L507.7 767.3L508.3 864.9L508.9 795.8L509.5 873.9L510.1 811.9L510.7 847.4L511.3 790.0L511.9 861.8L512.5 783.3L513.1 857.8L513.7 794.1L514.3 858.3L514.9 811.7L515.5 873.2L516.1 800.8L516.7 852.4L517.3 795.3L517.9 859.7L518.5 802.7L519.1 860.9L519.7 792.8L520.3 852.7L520.9 782.9L521.5 855.7L522.1 801.5L522.7 852.6L523.3 805.4L523.9 846.7L524.5 813.2L525.1 861.3L525.7 804.5L526.3 867.3L526.9 817.0L527.5 849.8L528.1 813.1L528.7 861.7L529.3 807.6L529.9 879.4L530.5 814.3L531.1 884.8L531.7 810.5L532.3 858.7L532.9 823.0L533.5 848.3L534.1 814.0L534.7 866.1L535.3 794.1L535.9 854.0L536.5 812.2L537.1 859.6L537.7 811.2L538.3 855.9L538.9 807.9L539.5 857.6L540.1 804.4L540.7 857.7L541.3 802.3L541.9 855.8L542.5 813.8L543.1 870.0L543.7 806.1L544.3 864.3L544.9 816.8L545.5 859.6L546.1 800.0L546.7 843.7L547.3 808.0L547.9 859.2L548.5 805.5L549.1 855.5L549.7 799.1L550.3 847.4L550.9 794.4L551.5 855.1L552.1 803.8L552.7 859.4L553.3 804.5L553.9 855.0L554.5 791.8L555.1 865.5L555.7 797.3L556.3 867.8L556.9 808.2L557.5 855.2L558.1 801.9L558.7 869.4L559.3 803.9L559.9 859.7L560.5 806.2L561.1 868.1L561.7 806.8L562.3 851.9L562.9 805.3L563.5 853.6L564.1 809.4L564.7 864.7L565.3 797.8L565.9 842.5L566.5 805.7L567.1 849.1L567.7 773.8L568.3 841.0L568.9 804.8L569.5 853.0L570.1 805.5L570.7 865.4L571.3 794.1L571.9 850.2L572.5 787.6L573.1 859.9L573.7 805.1L574.3 861.4L574.9 796.2L575.5 855.9L576.1 802.4L576.7 855.6L577.3 810.4L577.9 854.8L578.5 802.1L579.1 865.0L579.7 804.9L580.3 858.0L580.9 780.8L581.5 874.1L582.1 800.9L582.7 865.0L583.3 789.8L583.9 864.1L584.5 801.5L585.1 858.7L585.7 806.6L586.3 859.6L586.9 779.8L587.5 871.3L588.1 771.0L588.7 848.8L589.3 790.9L589.9 852.0L590.5 805.5L591.1 862.8L591.7 803.3L592.3 849.7L592.9 790.6L593.5 855.3L594.1 810.2L594.7 857.4L595.3 810.5L595.9 848.9L596.5 791.3L597.1 849.0L597.7 769.3L598.3 855.0L598.9 789.0L599.5 834.8L600.1 794.2L600.7 852.6L601.3 793.3L601.9 836.8L602.5 776.8L603.1 859.4L603.7 783.0L604.3 841.3L604.9 786.7L605.5 849.1L606.1 795.5L606.7 857.4L607.3 801.1L607.9 856.5L608.5 772.3L609.1 850.8L609.7 774.2L610.3 860.1L610.9 795.8L611.5 857.6L612.1 782.0L612.7 850.7L613.3 799.7L613.9 856.7L614.5 786.9L615.1 847.4L615.7 778.8L616.3 844.7L616.9 787.1L617.5 853.7L618.1 783.7L618.7 839.1L619.3 774.7M650.9 882.4L651.5 797.6L652.1 869.9L652.7 800.7L653.3 837.6L653.9 731.1L654.5 847.8L655.1 795.8L655.7 853.2L656.3 807.3L656.9 856.1L657.5 759.0L658.1 859.5L658.7 779.0L659.3 850.4L659.9 802.5L660.5 852.0L661.1 805.7L661.7 846.6L662.3 790.7L662.9 860.1L663.5 794.5L664.1 847.2L664.7 783.3L665.3 863.5L665.9 770.1L666.5 865.2L667.1 804.3L667.7 865.6L668.3 780.3L668.9 899.7L669.5 790.1L670.1 849.6L670.7 805.2L671.3 846.3L671.9 794.3L672.5 872.8L673.1 787.5L673.7 866.2L674.3 777.0L674.9 864.3L675.5 801.3L676.1 842.4L676.7 788.4L677.3 875.6L677.9 783.8L678.5 851.2L679.1 787.5L679.7 871.1L680.3 800.1L680.9 844.0L681.5 797.3L682.1 839.2L682.7 781.9L683.3 839.7L683.9 792.8L684.5 854.8L685.1 775.8L685.7 852.4L686.3 778.9L686.9 836.9L687.5 718.0L688.1 854.5L688.7 789.5L689.3 838.2L689.8 784.9L690.4 851.8L691.0 793.6L691.6 835.7L692.2 779.1L692.8 852.8L693.4 768.8L694.0 842.3L694.6 798.2L695.2 835.5L695.8 790.3L696.4 844.2L697.0 798.0L697.6 839.2L698.2 799.5L698.8 835.4L699.4 795.8L700.0 827.3L700.6 791.5L701.2 839.8L701.8 803.6L702.4 840.6L703.0 793.4L703.6 842.0L704.2 784.7L704.8 842.7L705.4 779.0L706.0 836.8L706.6 805.3L707.2 849.1L707.8 789.2L708.4 845.2L709.0 811.2L709.6 841.6L710.2 784.7L710.8 848.0L711.4 777.7L712.0 839.6L712.6 795.1L713.2 839.5L713.8 803.0L714.4 837.8L715.0 799.9L715.6 849.7L716.2 788.3L716.8 832.6L717.4 806.1L718.0 840.3L718.6 807.7L719.2 838.9L719.8 803.3L720.4 839.7L721.0 795.2L721.6 829.8L722.2 790.2L722.8 837.1L723.4 787.7L724.0 837.5L724.6 795.1L725.2 831.0L725.8 799.2L726.4 829.4L727.0 783.2L727.6 831.6L728.2 789.0L728.8 838.6L729.4 800.6L730.0 838.7L730.6 790.5L731.2 853.2L731.8 796.0L732.4 829.3L733.0 802.9L733.6 876.5L734.2 779.0L734.8 838.4L735.4 795.4L736.0 831.8L736.6 775.2L737.2 842.7L737.8 797.0L738.4 838.3L739.0 787.9L739.6 825.9L740.2 795.0L740.8 842.3L741.4 799.1L742.0 844.0L742.6 792.7L743.2 855.4L743.8 784.4L744.4 831.7L745.0 784.4L745.6 838.2L746.2 801.9L746.8 833.3L747.4 789.1L748.0 834.8L748.6 801.2L749.1 835.7L749.7 798.7L750.3 827.5L750.9 785.7L751.5 828.2L752.1 770.6L752.7 831.1L753.3 794.7L753.9 839.6L754.5 790.4L755.1 830.5L755.7 792.0L756.3 835.4L756.9 779.5L757.5 831.2L758.1 796.2L758.7 828.6L759.3 793.6L759.9 826.7L760.5 779.7L761.1 836.6L761.7 791.4L762.3 823.4L762.9 782.0L763.5 828.0L764.1 778.6L764.7 836.0L765.3 777.6L765.9 831.4L766.5 768.8L767.1 819.4L767.7 790.2L768.3 829.8L768.9 770.1L769.5 825.6L770.1 783.7L770.7 835.1L771.3 780.8L771.9 822.4L772.5 724.0L773.1 829.1L773.7 789.1L774.3 826.1L774.9 786.9L775.5 838.3L776.1 768.0L776.7 830.8L777.3 782.5L777.9 831.4L778.5 780.0L779.1 818.7L779.7 780.8L780.3 821.7L780.9 777.4L781.5 838.7L782.1 772.6L782.7 822.4L783.3 761.7L783.9 828.8L784.5 777.2L785.1 824.7L785.7 776.5L786.3 836.1L786.9 786.6L787.5 817.3L788.1 779.5L788.7 825.9L789.3 761.3L789.9 822.1L790.5 781.4L791.1 863.3L791.7 770.8L792.3 815.7L792.9 765.2L793.5 814.7L794.1 754.7L794.7 824.1L795.3 754.3L795.9 835.7L796.5 762.2L797.1 814.1L797.7 771.5L798.3 827.8L798.9 781.3L799.5 835.9L800.1 771.9L800.7 824.9L801.3 769.2L801.9 826.5L802.5 775.6L803.1 828.5L803.7 758.7L804.3 834.7L804.9 763.8L805.5 816.6L806.1 767.5L806.7 831.3L807.3 769.8L807.9 817.6L808.4 750.1L809.0 827.7L809.6 762.0L810.2 814.0L810.8 759.0L811.4 821.2L812.0 762.7L812.6 820.0L813.2 761.9L813.8 826.2L814.4 765.5L815.0 827.2L815.6 753.6L816.2 816.9L816.8 756.3L817.4 838.3L818.0 759.8L818.6 824.3L819.2 764.1L819.8 808.4L820.4 771.7L821.0 814.6L821.6 757.3L822.2 819.2L822.8 749.6L823.4 836.3L824.0 758.1L824.6 835.6L825.2 768.7L825.8 813.5L826.4 730.2L827.0 829.2L827.6 743.6L828.2 821.1L828.8 760.4L829.4 823.8L830.0 774.0L830.6 826.5L831.2 752.3L831.8 822.4L832.4 752.1L833.0 823.2L833.6 766.5L834.2 829.6L834.8 778.6L835.4 813.2L836.0 778.7L836.6 815.5L837.2 756.0L837.8 825.8L838.4 762.7M881.1 847.4L881.7 807.3L882.3 855.7L882.9 809.0L883.5 848.5L884.0 799.7L884.6 846.5L885.2 801.3L885.8 840.2L886.4 806.6L887.0 844.8L887.6 806.3L888.2 839.6L888.8 794.2L889.4 849.2L890.0 792.0L890.6 853.6L891.2 799.3L891.8 834.0L892.4 796.4L893.0 836.6L893.6 796.5L894.2 857.4L894.8 790.0L895.4 839.3L895.9 800.7L896.5 847.6L897.1 783.8L897.7 844.4L898.3 786.7L898.9 828.8L899.5 793.2L900.1 837.6L900.7 780.2L901.3 834.0L901.9 790.2L902.5 850.8L903.1 780.1L903.7 843.4L904.3 792.5L904.9 846.0L905.5 783.9L906.1 846.0L906.7 787.1L907.3 842.5L907.9 786.0L908.4 833.7L909.0 792.2L909.6 823.9L910.2 781.2L910.8 842.0L911.4 773.3L912.0 828.3L912.6 778.6L913.2 835.6L913.8 790.2L914.4 834.6L915.0 792.0L915.6 851.7L916.2 783.4L916.8 838.1L917.4 788.9L918.0 838.6L918.6 791.2L919.2 832.7L919.8 787.8L920.4 851.6L920.9 786.2L921.5 854.2L922.1 784.9L922.7 831.5L923.3 776.2L923.9 837.3L924.5 778.0L925.1 826.0L925.7 791.0L926.3 826.6L926.9 777.9L927.5 823.6L928.1 780.9L928.7 839.6L929.3 787.7L929.9 842.5L930.5 788.7L931.1 826.0L931.7 791.2L932.3 828.4L932.8 788.0L933.4 818.7L934.0 776.4L934.6 821.6L935.2 774.3L935.8 828.1L936.4 763.3L937.0 815.3L937.6 773.6L938.2 829.4L938.8 772.7L939.4 821.7L940.0 773.8L940.6 815.7L941.2 757.5L941.8 830.9L942.4 764.3M1054.7 835.6L1055.3 768.4L1055.9 856.4L1056.5 761.2L1057.1 829.3L1057.7 771.3L1058.3 848.4L1058.9 775.4L1059.5 850.4L1060.1 753.6L1060.7 828.4L1061.3 755.7L1061.9 845.1L1062.5 774.8L1063.2 844.2L1063.8 759.7L1064.4 854.2L1065.0 784.7L1065.6 845.8L1066.2 791.2L1066.8 840.2L1067.4 757.1L1068.0 847.3L1068.6 774.7L1069.2 858.4L1069.8 772.2L1070.4 844.6L1071.0 769.7L1071.6 841.2L1072.2 766.7L1072.8 851.3L1073.4 771.8L1074.0 845.4L1074.6 768.5L1075.2 836.0L1075.8 772.8L1076.4 840.6L1077.0 773.1L1077.6 851.6L1078.2 784.2L1078.8 840.7L1079.4 794.5L1080.1 847.0L1080.7 785.4L1081.3 833.7L1081.9 777.9L1082.5 831.6L1083.1 796.0L1083.7 838.4L1084.3 793.5L1084.9 847.1L1085.5 793.2L1086.1 837.6L1086.7 773.3L1087.3 840.8L1087.9 785.9L1088.5 847.5L1089.1 790.1L1089.7 863.4L1090.3 782.4L1090.9 841.2L1091.5 784.4L1092.1 839.0L1092.7 795.5L1093.3 843.4L1093.9 773.3L1094.5 846.6L1095.1 794.9L1095.7 835.2L1096.3 793.1L1097.0 869.9L1097.6 781.4L1098.2 860.6L1098.8 781.5L1099.4 843.9L1100.0 790.6L1100.6 847.3L1101.2 776.0L1101.8 843.4L1102.4 785.7L1103.0 842.5L1103.6 778.9L1104.2 857.9L1104.8 773.4L1105.4 835.2L1106.0 766.8L1106.6 856.6L1107.2 770.8L1107.8 826.8L1108.4 763.0L1109.0 839.6L1109.6 783.1L1110.2 840.8L1110.8 778.4L1111.4 860.6L1112.0 766.1L1112.6 845.6L1113.2 766.3L1113.9 859.2L1114.5 763.7L1115.1 824.7L1115.7 767.2L1116.3 851.8L1116.9 773.7L1117.5 842.8L1118.1 775.7L1118.7 868.5L1119.3 776.6L1119.9 843.6L1120.5 770.5L1121.1 830.5L1121.7 760.8L1122.3 824.3L1122.9 774.7L1123.5 834.9L1124.1 768.2L1124.7 827.8L1125.3 781.5L1125.9 823.0L1126.5 789.5L1127.1 839.4L1127.7 782.9L1128.3 830.5L1128.9 777.9L1129.5 844.9L1130.1 788.5M1138.5 812.9L1139.1 784.0L1139.7 823.3L1140.3 786.7L1140.9 818.5L1141.5 779.7L1142.1 814.3L1142.7 771.9L1143.3 818.0L1143.9 782.2L1144.5 816.5L1145.1 785.9L1145.7 816.9L1146.3 780.6L1146.9 825.4L1147.5 778.6L1148.1 815.8L1148.7 771.0L1149.3 817.8L1149.9 784.1L1150.5 813.9L1151.1 779.0L1151.7 814.5L1152.3 783.3L1152.8 812.4L1153.4 784.6L1154.0 814.4L1154.6 787.0L1155.2 816.3L1155.8 784.7L1156.4 809.7L1157.0 783.6L1157.6 818.4L1158.2 781.3L1158.8 810.8L1159.4 779.1L1160.0 789.6L1160.6 713.7L1161.2 817.8L1161.8 732.2L1162.4 808.9L1163.0 739.6L1163.6 789.6L1164.2 739.7L1164.8 787.9L1165.4 728.2L1166.0 789.6L1166.6 725.9L1167.2 799.4L1167.8 724.1L1168.4 803.1L1169.0 732.4L1169.6 790.1L1170.2 724.2L1170.8 807.2L1171.4 734.6L1172.0 814.1L1172.6 716.6L1173.2 803.1L1173.8 729.2L1174.4 809.2L1175.0 740.5L1175.6 802.0L1176.2 749.3L1176.8 801.0L1177.4 740.4L1178.0 807.7L1178.6 740.7L1179.2 808.9L1179.8 743.1L1180.4 801.6L1181.0 739.0L1181.6 809.2L1182.2 717.2L1182.8 810.6L1183.4 732.2L1184.0 793.0L1184.6 748.6L1185.2 802.9L1185.8 739.2L1186.4 795.3L1187.0 704.1L1187.5 794.8L1188.1 748.5L1188.7 810.4L1189.3 746.0L1189.9 793.5L1190.5 693.8L1191.1 804.7L1191.7 728.1L1192.3 806.9L1192.9 732.8L1193.5 810.4L1194.1 724.6L1194.7 786.8L1195.3 712.4L1195.9 790.5L1196.5 743.8L1197.1 816.6L1197.7 727.3L1198.3 813.6L1198.9 739.3L1199.5 822.4L1200.1 712.7L1200.7 805.8L1201.3 730.6L1201.9 810.0L1202.5 732.2L1203.1 794.9L1203.7 749.4L1204.3 800.1L1204.9 745.4L1205.5 804.9L1206.1 735.7L1206.7 801.7L1207.3 749.6L1207.9 808.4L1208.5 723.4L1209.1 801.2L1209.7 756.6L1210.3 791.4L1210.9 741.6L1211.5 805.9L1212.1 740.2L1212.7 816.0L1213.3 744.9L1213.9 809.3L1214.5 748.8L1215.1 805.3L1215.7 748.1L1216.3 803.8L1216.9 745.5L1217.5 789.4L1218.1 743.2L1218.7 808.9L1219.3 764.6L1219.9 810.0L1220.5 765.2L1221.1 804.9L1221.7 757.2L1222.3 808.3L1222.8 767.6L1223.4 801.9L1224.0 771.5L1224.6 810.0L1225.2 784.3L1225.8 801.4L1226.4 784.2L1227.0 799.6L1227.6 779.9L1228.2 802.2L1228.8 780.0L1229.4 803.7L1230.0 784.3L1230.6 797.5L1231.2 777.2L1231.8 795.6L1232.4 781.6L1233.0 792.1L1233.6 776.2L1234.2 796.9L1234.8 771.6L1235.4 796.1L1236.0 767.2L1236.6 790.6L1237.2 769.2L1237.8 789.2L1238.4 764.7L1239.0 786.5L1239.6 750.9L1240.2 791.7L1240.8 765.3L1241.4 792.5L1242.0 757.6L1242.6 786.6L1243.2 760.1L1243.8 787.6L1244.4 765.9L1245.0 785.5L1245.6 770.6L1246.2 786.0L1246.8 761.9L1247.4 783.5L1248.0 765.7L1248.6 790.9L1249.2 765.1L1249.8 788.6L1250.4 764.0L1251.0 787.1L1251.6 759.3L1252.2 782.1L1252.8 742.6L1253.4 783.1L1254.0 758.0L1254.6 788.6L1255.2 750.3L1255.8 780.1L1256.4 760.8L1257.0 781.6L1257.6 756.7L1258.1 784.1L1258.7 753.7L1259.3 787.9L1259.9 756.3L1260.5 783.7L1261.1 765.4L1261.7 785.4L1262.3 762.2L1262.9 783.9L1263.5 752.4L1264.1 788.5L1264.7 757.7L1265.3 780.9L1265.9 763.5L1266.5 786.9L1267.1 756.3L1267.7 778.8L1268.3 761.7L1268.9 779.8L1269.5 743.8L1270.1 776.4L1270.7 748.9L1271.3 780.7L1271.9 758.6L1272.5 776.3L1273.1 755.1L1273.7 776.9L1274.3 760.7L1274.9 776.6L1275.5 762.2" fill="none" stroke="#d80000" stroke-width="3.3" stroke-linejoin="round" stroke-linecap="round"/><path d="M236.0 860.0L236.7 824.0L237.3 859.8L238.0 815.5L238.6 860.0L239.3 785.2L239.9 859.7L240.6 783.7L241.2 867.0L241.9 827.1L242.5 858.5L243.2 833.0L243.8 854.4L244.5 765.5L245.1 854.8L245.8 776.2L246.4 850.3L247.1 803.4L247.7 868.7L248.4 767.7L249.0 854.9L249.7 823.2L250.3 848.5L251.0 826.5L251.6 861.6L252.3 825.1L252.9 853.8L253.6 800.7L254.2 849.3L254.9 784.8L255.5 860.7L256.2 789.9L256.9 872.3L257.5 821.3L258.2 857.4L258.8 735.7L259.5 860.2L260.1 830.3L260.8 859.9L261.4 785.9L262.1 855.7L262.7 799.8L263.4 853.7L264.0 829.5L264.7 853.4L265.3 816.9L266.0 850.1L266.6 788.3L267.3 856.1L267.9 808.4L268.6 846.5L269.2 818.3L269.9 859.2L270.5 798.8L271.2 854.2L271.8 828.1L272.5 871.2L273.1 791.6L273.8 848.9L274.4 831.1L275.1 852.6L275.7 807.5L276.4 853.3L277.0 822.2L277.7 857.5L278.3 808.9L279.0 855.4L279.6 786.7L280.3 865.0L280.9 801.3L281.6 861.7L282.2 803.0L282.9 848.9L283.5 800.8L284.2 856.3L284.8 804.4L285.5 865.6L286.1 821.6L286.8 863.6L287.4 808.1L288.1 860.3L288.7 770.9L289.4 868.7L290.0 768.0L290.7 861.2L291.3 761.2L292.0 849.0L292.6 786.4L293.3 861.5L294.0 811.7L294.6 864.8L295.3 811.7L295.9 852.6L296.6 824.1L297.2 850.2L297.9 767.1L298.5 858.9L299.2 818.7L299.8 851.1L300.5 783.6L301.1 853.7L301.8 825.6L302.4 860.9L303.1 835.4L303.7 862.4L304.4 813.7L305.0 862.1L305.7 795.0L306.3 858.9L307.0 824.9L307.6 854.2L308.3 833.7L308.9 858.0L309.6 830.8L310.2 856.8L310.9 829.2L311.5 858.5L312.2 835.6L312.8 860.9L313.5 816.7L314.1 866.9L314.8 810.8L315.4 863.5L316.1 784.3L316.7 861.5L317.4 827.7L318.0 865.5L318.7 822.6L319.3 868.6L320.0 781.9L320.6 860.3L321.3 788.3L321.9 859.2L322.6 797.5L323.2 872.9L323.9 827.7L324.5 870.9L325.2 839.2L325.8 867.6L326.5 833.7L327.1 863.9L327.8 823.5L328.4 854.4L329.1 801.7L329.7 859.8L330.4 791.8L331.1 873.8L331.7 825.5L332.4 858.6L333.0 826.5L333.7 858.7L334.3 824.6L335.0 873.2L335.6 829.6L336.3 862.8L336.9 819.2L337.6 874.5L338.2 831.0L338.9 878.7L339.5 825.5L340.2 879.7L340.8 829.0L341.5 864.9L342.1 832.0L342.8 864.7L343.4 830.6L344.1 862.0L344.7 797.7L345.4 866.6L346.0 793.2L346.7 864.8L347.3 797.8L348.0 876.8L348.6 838.5L349.3 868.6L349.9 828.1L350.6 868.1L351.2 827.8L351.9 866.6L352.5 800.3L353.2 861.8L353.8 796.6L354.5 872.2L355.1 818.6L355.8 887.8L356.4 808.2L357.1 867.6L357.7 826.5L358.4 869.7L359.0 829.1L359.7 869.6L360.3 825.2L361.0 856.2L361.6 833.9L362.3 859.6L362.9 809.8L363.6 876.8L364.2 821.0L364.9 854.1L365.5 825.9L366.2 874.8L366.8 828.8L367.5 878.2L368.2 807.9L368.8 865.5L369.5 789.1L370.1 855.0L370.8 821.0L371.4 866.2L372.1 824.8L372.7 876.5L373.4 779.8L374.0 856.8L374.7 789.3L375.3 861.4L376.0 816.3L376.6 866.4L377.3 773.3L377.9 859.1L378.6 808.7L379.2 852.3L379.9 793.0L380.5 839.9L381.2 814.7M409.7 864.5L410.3 769.0L410.9 840.6L411.6 801.7L412.2 852.8L412.9 793.8L413.5 841.1L414.2 817.8L414.8 853.2L415.5 790.3L416.1 846.3L416.8 772.6L417.4 845.9L418.1 822.3L418.7 848.4L419.4 783.9L420.0 845.7L420.6 806.7L421.3 849.2L421.9 825.0L422.6 845.9L423.2 805.5L423.9 858.0L424.5 816.2L425.2 857.8L425.8 820.9L426.5 844.3L427.1 819.4L427.8 840.6L428.4 801.0L429.0 845.2L429.7 820.9L430.3 844.3L431.0 792.8L431.6 841.6L432.3 817.2L432.9 854.7L433.6 812.7L434.2 839.6L434.9 805.6L435.5 844.3L436.2 791.8L436.8 848.5L437.4 809.4L438.1 853.1L438.7 808.5L439.4 849.5L440.0 782.9L440.7 852.9L441.3 778.9L442.0 850.0L442.6 739.3L443.3 841.6L443.9 804.3L444.6 855.5L445.2 812.9L445.9 862.6L446.5 810.8L447.1 853.6L447.8 793.9L448.4 850.6L449.1 769.5L449.7 856.4L450.4 801.2L451.0 856.3L451.7 808.8L452.3 842.7L453.0 816.5L453.6 850.5L454.3 807.9L454.9 841.5L455.5 819.1L456.2 848.3L456.8 817.5L457.5 852.4L458.1 817.1L458.8 864.8L459.4 818.3L460.1 849.3L460.7 820.1L461.4 860.4L462.0 828.2L462.7 860.3L463.3 816.7L463.9 849.7L464.6 798.6L465.2 851.1L465.9 807.3L466.5 852.7L467.2 809.0L467.8 851.3L468.5 798.6L469.1 857.1L469.8 821.9L470.4 865.5L471.1 800.1L471.7 860.0L472.4 830.3L473.0 849.7L473.6 808.5L474.3 853.2L474.9 827.6L475.6 857.1L476.2 799.8L476.9 858.9L477.5 826.1L478.2 858.1L478.8 833.1L479.5 868.0L480.1 794.6L480.8 866.0L481.4 793.4L482.0 884.9L482.7 820.9L483.3 863.2L484.0 822.7L484.6 867.1L485.3 830.8L485.9 862.9L486.6 805.9L487.2 866.1L487.9 821.5L488.5 871.8L489.2 812.1L489.8 866.6L490.4 790.4L491.1 871.1L491.7 833.1L492.4 856.1L493.0 816.7L493.7 872.4L494.3 807.1L495.0 858.6L495.6 834.6L496.3 857.5L496.9 834.8L497.6 862.7L498.2 828.8L498.9 867.4L499.5 829.8L500.1 866.3L500.8 822.2L501.4 881.5L502.1 830.9L502.7 871.1L503.4 835.4L504.0 877.1L504.7 831.7L505.3 892.1L506.0 837.8L506.6 864.7L507.3 817.2L507.9 861.9L508.5 811.4L509.2 875.4L509.8 832.2L510.5 867.6L511.1 811.3L511.8 860.8L512.4 838.7L513.1 882.2L513.7 826.4L514.4 869.6L515.0 834.6L515.7 870.9L516.3 804.2L517.0 869.5L517.6 828.8L518.2 864.8L518.9 838.1L519.5 858.8L520.2 830.8L520.8 861.8L521.5 825.2M596.4 851.7L597.1 800.0L597.7 837.5L598.4 784.7L599.1 835.9L599.7 795.8L600.4 828.4L601.0 781.9L601.7 831.9L602.4 782.9L603.0 835.7L603.7 791.8L604.4 839.0L605.0 796.2L605.7 829.1L606.3 771.6L607.0 834.5L607.7 782.5L608.3 823.1L609.0 777.7L609.7 839.1L610.3 802.6M808.4 841.9L809.0 823.6L809.7 856.4L810.3 830.0L811.0 851.1L811.6 821.8L812.2 849.5L812.9 827.8L813.5 846.3L814.1 827.5L814.8 844.3L815.4 826.7L816.1 848.2L816.7 823.0L817.3 845.7L818.0 823.8L818.6 847.9L819.3 790.9L819.9 849.8L820.5 811.4L821.2 848.1L821.8 820.3L822.5 841.9L823.1 820.8L823.7 858.0L824.4 798.8L825.0 867.2L825.7 821.0L826.3 849.1L826.9 812.5L827.6 870.9L828.2 821.5L828.9 849.2L829.5 800.6L830.1 852.0L830.8 822.9L831.4 850.9L832.0 812.4L832.7 864.1L833.3 812.9L834.0 848.9L834.6 825.1L835.2 855.8L835.9 801.6L836.5 853.4L837.2 823.7L837.8 857.8L838.4 785.4M872.0 880.5L872.7 827.2L873.4 862.3L874.0 810.4L874.7 868.4L875.4 820.5L876.1 857.2L876.8 802.2L877.5 863.2L878.1 812.2L878.8 869.5L879.5 833.5L880.2 864.8L880.9 826.4M1144.5 834.7L1145.2 741.6L1145.8 823.2L1146.5 777.6L1147.1 824.8L1147.8 791.9L1148.4 824.7L1149.1 803.1L1149.7 841.7L1150.4 777.8L1151.0 836.4L1151.7 786.3L1152.3 847.5L1153.0 793.3L1153.6 839.3L1154.3 801.0L1154.9 856.6L1155.6 820.5L1156.2 835.8L1156.9 786.5L1157.5 847.6L1158.2 820.2L1158.8 843.3L1159.5 820.0L1160.1 853.4L1160.7 789.9L1161.4 840.1L1162.0 816.4L1162.7 840.5L1163.3 811.8L1164.0 845.4L1164.6 788.8L1165.3 847.0L1165.9 791.3L1166.6 846.2L1167.2 789.7L1167.9 844.3L1168.5 817.6L1169.2 846.4L1169.8 767.9L1170.5 861.1L1171.1 788.7L1171.8 840.2L1172.4 779.9L1173.1 856.5L1173.7 782.7L1174.4 837.0L1175.0 810.7L1175.7 863.9L1176.3 814.1L1176.9 853.4L1177.6 821.6L1178.2 854.3L1178.9 821.5L1179.5 846.6L1180.2 811.9L1180.8 845.1L1181.5 816.0L1182.1 847.0L1182.8 814.6L1183.4 850.4L1184.1 799.2L1184.7 849.2L1185.4 801.9L1186.0 859.4L1186.7 807.5L1187.3 848.1L1188.0 812.6L1188.6 852.0L1189.3 806.8L1189.9 860.6L1190.6 821.1L1191.2 848.6L1191.9 821.2L1192.5 854.1L1193.2 788.1L1193.8 844.2L1194.4 784.7L1195.1 851.3L1195.7 826.8L1196.4 853.7L1197.0 799.6L1197.7 866.0L1198.3 825.6L1199.0 846.6L1199.6 814.4L1200.3 845.1L1200.9 813.8L1201.6 842.4L1202.2 809.5L1202.9 849.0L1203.5 817.2L1204.2 852.2L1204.8 800.7L1205.5 846.5L1206.1 819.8L1206.8 855.6L1207.4 794.1L1208.1 870.5L1208.7 792.7L1209.4 848.9L1210.0 822.7L1210.6 844.3L1211.3 822.5L1211.9 859.0L1212.6 809.3L1213.2 848.0L1213.9 827.3L1214.5 851.8L1215.2 818.5L1215.8 852.6L1216.5 815.3L1217.1 846.0L1217.8 813.7L1218.4 868.3L1219.1 825.7L1219.7 848.8L1220.4 790.2L1221.0 878.2L1221.7 817.3L1222.3 848.6L1223.0 797.9L1223.6 875.9L1224.3 783.3L1224.9 859.4L1225.6 822.1L1226.2 850.5L1226.8 819.8L1227.5 842.5L1228.1 821.4L1228.8 846.8L1229.4 825.7L1230.1 848.6L1230.7 794.0L1231.4 847.2L1232.0 825.8L1232.7 863.2L1233.3 778.0L1234.0 847.6L1234.6 783.0L1235.3 876.5L1235.9 791.5L1236.6 845.1L1237.2 812.3L1237.9 848.8L1238.5 822.5L1239.2 857.9L1239.8 762.5L1240.5 848.9L1241.1 769.6L1241.8 854.6L1242.4 814.7L1243.0 851.8L1243.7 814.4L1244.3 845.3L1245.0 815.2L1245.6 839.7L1246.3 812.1L1246.9 848.1L1247.6 759.2L1248.2 837.8L1248.9 802.0L1249.5 847.5L1250.2 805.0L1250.8 843.9L1251.5 812.1L1252.1 840.0L1252.8 783.8L1253.4 835.5L1254.1 780.1L1254.7 834.2L1255.4 813.1L1256.0 837.6L1256.7 795.4L1257.3 832.1L1258.0 811.3L1258.6 831.6L1259.3 812.3L1259.9 851.1L1260.5 802.0L1261.2 836.9L1261.8 809.4L1262.5 838.2L1263.1 811.0L1263.8 836.5L1264.4 799.9L1265.1 832.5L1265.7 798.3L1266.4 858.7L1267.0 788.3L1267.7 855.7L1268.3 773.6L1269.0 843.3L1269.6 756.4L1270.3 872.7L1270.9 754.9L1271.6 841.0L1272.2 799.0L1272.9 836.1L1273.5 791.3L1274.2 828.3L1274.8 753.7L1275.5 837.2L1276.1 790.1L1276.7 864.6L1277.4 796.9L1278.0 834.8L1278.7 803.6L1279.3 852.3L1280.0 806.1L1280.6 836.3L1281.3 808.8L1281.9 829.1L1282.6 803.2L1283.2 825.2L1283.9 811.0L1284.5 826.9L1285.2 805.9L1285.8 826.7L1286.5 798.9L1287.1 830.9L1287.8 806.0L1288.4 826.7L1289.1 793.0L1289.7 831.7L1290.4 780.5L1291.0 833.2L1291.7 795.0L1292.3 829.7L1292.9 808.7L1293.6 825.8L1294.2 773.1L1294.9 834.3L1295.5 803.9L1296.2 831.5L1296.8 804.1L1297.5 834.0L1298.1 745.7L1298.8 834.7L1299.4 800.5L1300.1 834.8L1300.7 802.5L1301.4 833.0L1302.0 783.6L1302.7 842.1L1303.3 804.5L1304.0 833.2L1304.6 806.6L1305.3 830.4L1305.9 798.9L1306.6 829.3L1307.2 776.2L1307.9 833.8L1308.5 786.4L1309.2 825.4L1309.8 799.5L1310.4 841.2L1311.1 776.9L1311.7 838.0L1312.4 813.3L1313.0 840.8L1313.7 765.6L1314.3 836.5L1315.0 815.7L1315.6 836.2L1316.3 816.8L1316.9 833.6L1317.6 813.2L1318.2 839.7L1318.9 809.3L1319.5 841.2L1320.2 820.0L1320.8 839.4L1321.5 809.8L1322.1 843.3L1322.8 817.8L1323.4 843.1L1324.1 809.5L1324.7 843.6L1325.4 823.2L1326.0 839.0L1326.6 817.8L1327.3 836.0L1327.9 823.8L1328.6 839.4L1329.2 823.1L1329.9 837.3L1330.5 799.5L1331.2 845.0L1331.8 821.2L1332.5 859.5L1333.1 822.5L1333.8 846.4L1334.4 818.7L1335.1 858.5L1335.7 818.4L1336.4 860.1L1337.0 824.0L1337.7 845.0L1338.3 813.4L1339.0 846.5L1339.6 825.9L1340.3 850.6L1340.9 826.9L1341.6 871.3L1342.2 831.5L1342.8 870.5L1343.5 831.6L1344.1 861.6L1344.8 802.9L1345.4 846.2L1346.1 825.3L1346.7 848.7L1347.4 830.0L1348.0 844.5L1348.7 822.9L1349.3 846.5L1350.0 823.2L1350.6 841.4L1351.3 826.7L1351.9 846.8L1352.6 807.2L1353.2 840.8L1353.9 795.1L1354.5 847.8L1355.2 825.5L1355.8 845.6L1356.5 819.0L1357.1 848.2L1357.8 820.8L1358.4 850.9L1359.0 797.0L1359.7 851.1L1360.3 818.5M1395.9 847.6L1396.6 827.6L1397.2 843.1L1397.9 808.1L1398.5 852.4L1399.2 822.8L1399.8 858.1L1400.5 814.7L1401.1 849.4L1401.8 806.3L1402.4 851.4L1403.1 821.0L1403.7 866.0L1404.4 826.0L1405.0 845.2L1405.7 816.9L1406.3 856.0L1407.0 806.6L1407.6 844.9L1408.3 810.0L1408.9 844.0L1409.6 802.6L1410.2 843.7L1410.9 808.3L1411.5 839.6L1412.2 802.7L1412.8 853.3L1413.5 818.7L1414.1 847.7L1414.8 816.4L1415.4 859.0L1416.1 812.7L1416.7 841.6L1417.4 805.6L1418.0 852.1L1418.7 765.7L1419.3 843.3L1420.0 772.4L1420.6 838.8L1421.3 814.1L1421.9 853.4L1422.6 801.1L1423.2 851.8L1423.9 805.8L1424.5 844.7L1425.2 800.9L1425.8 832.2L1426.5 806.1L1427.1 844.0L1427.8 809.2L1428.4 851.3L1429.1 790.6L1429.7 843.6L1430.4 782.1L1431.0 827.5L1431.7 804.0L1432.3 830.3L1433.0 786.3L1433.6 841.9L1434.3 788.6L1434.9 831.1L1435.6 782.2L1436.2 835.4L1436.9 788.9L1437.5 828.0L1438.2 771.3L1438.8 818.0L1439.5 776.9L1440.1 829.9L1440.8 776.6L1441.4 832.7L1442.1 741.3L1442.7 807.7L1443.4 751.3L1444.0 830.6L1444.7 726.5L1445.3 823.5L1446.0 730.7L1446.6 828.3L1447.3 769.2L1447.9 816.5L1448.6 770.6L1449.3 801.6L1449.9 759.6L1450.6 835.7L1451.2 766.9M1500.8 841.0L1501.6 833.7L1502.4 841.5L1503.1 833.8L1503.9 843.3L1504.7 834.5M1526.0 834.2L1526.7 814.4L1527.3 831.8L1528.0 805.8L1528.6 837.7L1529.3 822.0L1529.9 840.0L1530.5 823.0L1531.2 843.1L1531.8 803.9L1532.5 842.1L1533.1 822.3L1533.8 837.9L1534.4 814.9L1535.1 841.3L1535.7 822.2L1536.4 835.2L1537.0 805.4L1537.7 832.9L1538.3 815.2L1539.0 835.1L1539.6 807.6L1540.3 834.8L1540.9 814.0L1541.6 835.8L1542.2 789.9L1542.9 845.6L1543.5 818.0L1544.2 837.4L1544.8 790.5L1545.5 836.3L1546.1 811.7L1546.8 831.2L1547.4 818.0L1548.0 838.8L1548.7 810.8L1549.3 846.2L1550.0 819.3L1550.6 837.5L1551.3 805.5L1551.9 836.9L1552.6 818.8L1553.2 847.4L1553.9 811.1L1554.5 837.4L1555.2 791.6L1555.8 837.7L1556.5 790.4L1557.1 835.8L1557.8 801.3L1558.4 832.8L1559.1 815.0L1559.7 835.6L1560.4 814.9L1561.0 834.9L1561.7 813.5L1562.3 836.2L1563.0 815.8L1563.6 833.9L1564.3 805.8L1564.9 836.5L1565.6 798.0L1566.2 833.5L1566.8 816.8L1567.5 836.2L1568.1 814.9L1568.8 849.6L1569.4 814.4L1570.1 833.5L1570.7 785.8L1571.4 844.4L1572.0 810.1L1572.7 838.2L1573.3 813.5L1574.0 834.0L1574.6 812.2L1575.3 855.8L1575.9 815.7L1576.6 845.1L1577.2 806.4L1577.9 833.8L1578.5 818.3L1579.2 832.5L1579.8 814.0L1580.5 835.3L1581.1 819.0L1581.8 841.1L1582.4 809.2L1583.1 837.9L1583.7 805.6L1584.4 841.0L1585.0 819.0L1585.6 839.2L1586.3 816.4L1586.9 853.3L1587.6 808.8L1588.2 841.3L1588.9 809.0L1589.5 836.5L1590.2 807.4L1590.8 825.6L1591.5 806.6L1592.1 833.8L1592.8 799.1L1593.4 829.9L1594.1 797.6L1594.7 821.1L1595.4 794.4L1596.0 827.8L1596.7 781.5L1597.3 839.9L1598.0 791.6L1598.6 811.5L1599.3 765.3L1599.9 816.9L1600.6 792.7L1601.2 818.3L1601.9 765.7L1602.5 831.0L1603.2 796.5L1603.8 822.6L1604.4 788.4L1605.1 827.1L1605.7 777.8L1606.4 824.3L1607.0 800.9L1607.7 821.8L1608.3 803.5L1609.0 826.7L1609.6 793.5L1610.3 826.4L1610.9 790.6L1611.6 826.6L1612.2 793.4L1612.9 820.5L1613.5 791.4L1614.2 823.3L1614.8 789.9L1615.5 823.7L1616.1 787.5L1616.8 828.7L1617.4 790.7L1618.1 812.0L1618.7 789.1L1619.4 823.7L1620.0 741.2L1620.7 829.8L1621.3 770.9L1622.0 831.1L1622.6 769.0L1623.2 819.3L1623.9 786.1L1624.5 814.7L1625.2 771.7L1625.8 823.6L1626.5 771.8L1627.1 822.4L1627.8 765.6L1628.4 832.3L1629.1 785.3L1629.7 827.3L1630.4 747.8L1631.0 841.1L1631.7 758.8L1632.3 819.1L1633.0 764.2L1633.6 831.6L1634.3 786.8L1634.9 830.7L1635.6 783.1L1636.2 833.2L1636.9 794.2L1637.5 824.2L1638.2 741.5L1638.8 821.0L1639.5 768.2L1640.1 823.5L1640.7 774.6L1641.4 829.1L1642.0 751.8L1642.7 828.3L1643.3 756.0L1644.0 824.6L1644.6 771.7L1645.3 820.4L1645.9 796.0L1646.6 821.7L1647.2 791.9L1647.9 827.4L1648.5 762.1L1649.2 822.7L1649.8 800.5L1650.5 827.5L1651.1 799.5L1651.8 827.3L1652.4 804.9L1653.1 830.4L1653.7 809.5L1654.4 826.9L1655.0 812.2L1655.7 827.1L1656.3 812.6L1657.0 822.8L1657.6 814.3L1658.3 832.2L1658.9 786.7L1659.5 833.9L1660.2 813.3L1660.8 828.9L1661.5 810.9L1662.1 822.2L1662.8 810.6L1663.4 819.5L1664.1 813.2M1686.5 826.6L1687.2 799.8L1687.8 835.8L1688.5 766.3L1689.2 829.0L1689.8 781.1L1690.5 822.4L1691.1 791.3L1691.8 827.1L1692.4 766.9L1693.1 834.7L1693.8 797.2L1694.4 830.7L1695.1 801.1L1695.7 830.1L1696.4 807.4" fill="none" stroke="#f3d42c" stroke-width="3.3" stroke-linejoin="round" stroke-linecap="round"/><path d="M204.0 837.4L204.7 837.9L205.4 838.0L206.1 829.1L206.8 830.9L207.5 823.9L208.2 824.6L208.9 824.4L209.6 824.9L210.3 826.1L211.0 828.5L211.7 823.2L212.4 821.1L213.1 821.5L213.8 818.3L214.5 823.2L215.2 828.3L215.9 802.8L216.6 821.2L217.3 817.7L218.0 815.7L218.7 818.7L219.4 817.2L220.1 822.1L220.8 822.2L221.5 821.3L222.2 820.9L222.9 818.2L223.6 815.5L224.3 816.5L225.0 811.2L225.7 808.1L226.4 815.8L227.1 817.1L227.8 823.7L228.5 828.3L229.2 819.0L229.9 814.7L230.6 827.5L231.3 826.8L232.0 827.6L232.7 831.0L233.4 829.0L234.1 829.4L234.8 830.1L235.5 829.9L236.2 833.3L236.9 828.9L237.6 830.3L238.3 831.6L239.0 823.0L239.7 829.3L240.4 832.8L241.1 827.1L241.9 831.4L242.6 829.0L243.3 832.0L244.0 830.4L244.7 828.4L245.4 829.8L246.1 831.0L246.8 831.8L247.5 835.9L248.2 833.5L248.9 833.5L249.6 837.1L250.3 832.6L251.0 837.5L251.7 837.2L252.4 792.7L253.1 840.1L253.8 842.3L254.5 826.7L255.2 840.2L255.9 837.1L256.6 838.8L257.3 841.9L258.0 838.0L258.7 845.1L259.4 816.9L260.1 836.4L260.8 832.9L261.5 828.1L262.2 836.2L262.9 835.4L263.6 835.1L264.3 832.5L265.0 842.6L265.7 839.3L266.4 825.0L267.1 829.6L267.8 833.4L268.5 841.5L269.2 838.6L269.9 835.8L270.6 838.6L271.3 833.9L272.0 837.0L272.7 840.6L273.4 845.8L274.1 842.3L274.8 837.6L275.5 835.0L276.2 836.8L276.9 835.0L277.6 832.3L278.3 831.4L279.0 832.8L279.7 843.8L280.4 840.0L281.1 833.1L281.8 834.7L282.5 841.4L283.2 839.2L283.9 836.5L284.6 838.5L285.3 845.2L286.0 848.7L286.7 840.4L287.4 844.5L288.1 846.2L288.8 847.4L289.5 848.0L290.2 850.3L290.9 851.2L291.6 847.7L292.3 838.9L293.0 850.7L293.7 843.3L294.4 843.9L295.1 852.1L295.8 854.5L296.5 845.9L297.2 856.2L297.9 852.9L298.6 849.0L299.3 853.1L300.0 848.2L300.7 842.4L301.4 846.7L302.1 850.4L302.8 847.1L303.5 849.2L304.2 850.4L304.9 849.1L305.6 843.2L306.3 854.3L307.0 857.8L307.7 852.7L308.4 854.1L309.1 847.1L309.8 852.5L310.5 853.0L311.2 851.4L311.9 853.1L312.6 853.2L313.3 856.5L314.0 860.5L314.7 858.7L315.4 856.2L316.1 862.8L316.8 859.0L317.5 857.1L318.2 862.8L318.9 857.3L319.6 858.7L320.3 850.1L321.0 859.1L321.7 859.9L322.4 853.8L323.1 856.6L323.8 853.8L324.5 851.0L325.2 851.8M395.8 835.3L396.5 831.7L397.2 827.7L397.9 829.4L398.6 832.3L399.3 828.8L400.0 823.2L400.7 828.0L401.4 820.6L402.1 825.7L402.8 828.6L403.5 830.8L404.2 831.3L404.9 827.7L405.6 825.8L406.3 832.6L407.0 826.2L407.7 821.1L408.4 818.5L409.1 819.7L409.8 820.6L410.5 824.7L411.2 825.3L411.9 822.7L412.6 829.7L413.3 818.1L414.0 828.1L414.7 829.5L415.4 822.1L416.1 817.8L416.8 825.0L417.5 827.5L418.2 821.4L418.9 823.7L419.6 819.8L420.3 821.0L421.0 834.8L421.7 829.6L422.4 827.7L423.1 824.6L423.8 830.8L424.5 829.7L425.2 823.7L425.9 818.9L426.6 830.2L427.3 825.8L428.0 814.9L428.7 828.2L429.4 833.5L430.1 832.1L430.8 826.2L431.5 822.5L432.2 823.4L432.9 826.0L433.6 829.8L434.3 832.5L435.0 834.1L435.7 837.0L436.4 831.1L437.1 832.9L437.8 819.9L438.5 832.8L439.2 791.7L439.9 825.3L440.6 814.7L441.3 813.4L442.0 827.4L442.7 828.3L443.4 829.1L444.1 826.1L444.8 820.8L445.5 828.4L446.2 823.6L446.9 826.1L447.6 827.0L448.3 796.7L449.0 826.6L449.7 825.7L450.4 825.4L451.1 822.3L451.8 829.6L452.5 826.8L453.2 827.1L453.9 833.5L454.6 829.6L455.3 828.2L456.0 826.2L456.7 828.8L457.4 834.1L458.1 837.8L458.8 824.5L459.5 831.2L460.2 839.9L460.9 840.3L461.6 835.1L462.3 844.6L463.0 846.8L463.7 844.3L464.4 838.0L465.1 830.1L465.8 839.9L466.5 839.8L467.2 836.3L467.9 843.6L468.6 844.0L469.3 842.2L470.0 851.5L470.7 832.1L471.4 849.0L472.1 845.2L472.8 845.8L473.5 838.1L474.2 850.0L474.9 847.5L475.6 843.6L476.3 841.1L477.0 847.3L477.7 851.9L478.4 854.4L479.1 849.4L479.8 848.1L480.5 847.3L481.2 840.3L481.9 848.4L482.6 850.7L483.3 853.6L484.0 843.8L484.7 849.2L485.4 847.5L486.1 854.2L486.8 850.2L487.5 856.3L488.2 844.7L488.9 849.2L489.6 847.5L490.3 852.1L491.0 849.1L491.7 859.5L492.4 849.1L493.1 853.6L493.8 860.0L494.5 858.2L495.2 858.9L495.9 864.3L496.6 854.4L497.3 855.6L498.0 854.5L498.7 855.8L499.4 852.4L500.1 863.9L500.8 845.2L501.5 850.0L502.2 850.0L502.9 852.0L503.6 851.8L504.3 859.5L505.0 859.4L505.7 860.2L506.4 853.0L507.1 851.5L507.8 845.8L508.5 856.0L509.2 861.6L509.9 863.5L510.6 854.7L511.3 855.6L512.0 862.1L512.7 864.9L513.4 859.3L514.1 861.9L514.8 861.1L515.5 859.2L516.2 854.7L516.9 855.6L517.6 855.0L518.3 852.6L519.0 859.2L519.7 847.5L520.4 861.6L521.1 865.2L521.8 861.4L522.5 866.1L523.2 857.3L523.9 859.6L524.6 853.6L525.3 852.7L526.0 851.7L526.7 856.7L527.4 855.2L528.1 857.8L528.8 858.1L529.5 850.8L530.2 852.0L530.9 852.9L531.6 857.9L532.3 858.2L533.0 854.2L533.7 850.3L534.4 850.5L535.1 852.4L535.8 849.8L536.5 855.7L537.2 850.4L537.9 851.1L538.6 854.5L539.3 851.0L540.0 846.3L540.7 851.2L541.4 849.5L542.1 847.6L542.8 849.1L543.5 844.7L544.2 845.6L544.9 836.7L545.6 842.5L546.3 842.7L547.0 847.0L547.7 843.2L548.4 837.9L549.1 838.0L549.8 842.0L550.5 842.9L551.2 839.1L551.9 839.1L552.6 839.6L553.3 839.0L554.0 831.0L554.7 840.3L555.4 838.5L556.1 832.5L556.8 839.2L557.5 828.4L558.2 820.9L558.9 840.7L559.6 839.3L560.3 838.7L561.0 839.4L561.7 833.7L562.4 841.6L563.1 846.1L563.8 840.1L564.5 839.3L565.2 833.9L565.9 844.4L566.6 837.5L567.3 836.7L568.0 837.1L568.7 837.9L569.4 840.1L570.1 842.0L570.8 830.6L571.5 836.9L572.2 834.3L572.9 835.3L573.6 837.3L574.3 837.7L575.0 831.2L575.7 833.9L576.4 837.4L577.1 830.1L577.8 837.3L578.5 838.0L579.2 844.0L579.9 839.3L580.6 837.3L581.3 845.0L582.0 841.4L582.7 835.3L583.4 830.8L584.1 838.4L584.8 835.8L585.5 840.8L586.2 833.1L586.9 831.2L587.6 838.6L588.3 841.2L589.0 834.5L589.7 836.5L590.4 835.0L591.1 836.8L591.8 838.5L592.5 840.1L593.2 835.0L593.9 831.3L594.6 832.8L595.3 836.3L596.0 836.2L596.7 839.9L597.4 848.8L598.1 837.9L598.8 838.3L599.5 840.7L600.2 834.5L600.9 831.5L601.6 836.2L602.3 828.9L603.0 832.1L603.7 838.2L604.4 831.5L605.1 846.4L605.8 841.7L606.5 836.8L607.2 841.9L607.9 808.8L608.6 827.7L609.3 835.7L610.0 832.3L610.7 829.3L611.4 835.1L612.1 832.3L612.8 824.6L613.5 826.5L614.2 833.2L614.9 829.6L615.6 828.1L616.3 835.0L617.0 839.8L617.7 842.8L618.4 837.5L619.1 833.9L619.8 834.2L620.5 836.2L621.2 824.6L621.9 832.1L622.6 836.1L623.3 837.3L624.0 834.6L624.7 823.0L625.4 838.4L626.1 835.0L626.8 833.0L627.5 834.8L628.2 839.9L628.9 838.9L629.6 845.4L630.3 835.3L631.0 841.8L631.7 838.1L632.4 841.2L633.1 855.3L633.8 835.2L634.5 833.9L635.2 830.4L635.9 827.1L636.6 832.3L637.3 833.2L638.0 830.9L638.7 839.6L639.4 837.4L640.1 843.5L640.8 834.4L641.5 841.2L642.2 833.7L642.9 868.4L643.6 841.0L644.3 847.2L645.0 844.1L645.7 847.9L646.4 850.6L647.1 847.7L647.8 850.6L648.5 847.5L649.2 851.4L649.9 852.4L650.6 850.3L651.3 852.5L652.0 852.8L652.7 852.5L653.4 850.2L654.1 849.9L654.8 846.9L655.5 848.9L656.2 854.0L656.9 853.1L657.6 855.7L658.3 852.2L659.0 854.1L659.7 850.4L660.4 850.8L661.1 851.1L661.8 864.9L662.5 854.6L663.2 858.0L663.9 856.4L664.6 858.0L665.3 858.2L666.0 858.1L666.7 862.7L667.4 852.7L668.1 851.9L668.8 852.1L669.5 854.0L670.2 856.7L670.9 860.8L671.6 852.8L672.3 854.4L673.0 858.6L673.7 851.1L674.4 849.6L675.1 851.4L675.8 846.6L676.5 846.3L677.2 850.4L677.9 846.1L678.6 844.9L679.3 845.6L680.0 847.9L680.7 849.3L681.4 847.1L682.1 841.7L682.8 851.4L683.5 848.1L684.2 845.4L684.9 846.1L685.6 838.5L686.3 844.5L687.0 849.4L687.7 846.2L688.4 844.6L689.1 842.1L689.8 846.0L690.5 844.1L691.2 844.8L691.9 842.4L692.6 844.0L693.3 841.1L694.0 838.6L694.7 846.0L695.4 842.7L696.1 849.8L696.8 848.6L697.5 845.4L698.2 846.4L698.9 848.9L699.6 843.5L700.3 846.7L701.0 848.2L701.7 846.1L702.4 843.4L703.1 847.0L703.8 856.9L704.5 848.2L705.2 847.3L705.9 807.8L706.6 840.1L707.3 842.6L708.0 830.8L708.7 837.8L709.4 836.0L710.1 837.4L710.8 841.2L711.5 846.0L712.2 846.1L712.9 848.9L713.6 842.3L714.3 848.5L715.0 850.2L715.7 839.8L716.4 840.7L717.1 837.8L717.8 836.2L718.5 845.2L719.2 838.5L719.9 838.9L720.6 838.5L721.3 845.0L722.0 841.7L722.7 835.2L723.4 834.6L724.1 836.9L724.8 830.9L725.5 830.5L726.2 841.6L726.9 838.8L727.6 840.3L728.3 841.1L729.0 839.1L729.7 844.3L730.4 841.5L731.1 833.3L731.8 836.1L732.5 831.5L733.2 818.9L733.9 841.2L734.6 844.9L735.3 833.1L736.0 830.5L736.7 835.0L737.4 825.5L738.1 831.2L738.8 827.9L739.5 823.7L740.2 827.4L740.9 829.2L741.6 829.6L742.3 836.6L743.0 827.9L743.7 826.2L744.4 830.3L745.1 833.7M905.6 841.8L906.3 845.8L907.0 849.0L907.7 844.3L908.4 847.8L909.1 837.9L909.8 834.7L910.5 841.9L911.2 846.3L911.9 834.8L912.6 838.5L913.3 828.2L914.0 835.1L914.7 833.0L915.4 842.1L916.1 839.1L916.8 839.6L917.5 831.6L918.2 830.3L918.9 842.5L919.6 843.4L920.3 842.3L921.0 844.0L921.7 837.3L922.4 828.8L923.1 834.0L923.8 820.9L924.5 836.3L925.2 840.5L925.9 831.5L926.6 830.2L927.3 827.7L928.0 826.1L928.7 824.9L929.4 825.4L930.1 826.6L930.8 830.6L931.4 831.5L932.1 823.2L932.8 821.8L933.5 819.7L934.2 832.6L934.9 826.7L935.6 833.8L936.3 831.1L937.0 832.5L937.7 826.0L938.4 825.3L939.1 825.1L939.8 818.9L940.5 831.3L941.2 823.0L941.9 822.1L942.6 829.5L943.3 822.2L944.0 827.6L944.7 827.6L945.4 821.9L946.1 829.9L946.8 824.8L947.5 826.6L948.2 826.5L948.9 822.0L949.6 823.9L950.3 817.5L951.0 818.7L951.7 817.9L952.4 820.5L953.1 819.9L953.8 823.9L954.5 822.4L955.2 822.3L955.9 827.7L956.6 820.6L957.3 823.4L958.0 825.3L958.7 831.0L959.4 833.0L960.1 821.4L960.8 819.7L961.5 832.1L962.2 819.4L962.9 814.9L963.6 823.1L964.3 823.3L965.0 830.7L965.7 821.7L966.4 825.9L967.1 834.5L967.8 825.9L968.5 825.3L969.1 819.5L969.8 817.2L970.5 822.3L971.2 808.8L971.9 821.9L972.6 825.0L973.3 825.2L974.0 836.6L974.7 830.9L975.4 826.7L976.1 828.5L976.8 830.0L977.5 823.1L978.2 823.7L978.9 829.0L979.6 825.7L980.3 824.0M1093.4 829.5L1094.1 829.2L1094.8 824.0L1095.5 821.9L1096.2 812.9L1096.9 821.9L1097.6 826.4L1098.3 828.9L1099.0 827.9L1099.7 828.7L1100.4 824.2L1101.1 825.0L1101.8 818.6L1102.5 810.9L1103.2 827.9L1103.9 822.6L1104.6 822.7L1105.3 819.5L1106.0 816.5L1106.7 825.1L1107.4 821.8L1108.1 821.3L1108.8 819.6L1109.5 821.0L1110.2 822.8L1110.9 819.2L1111.6 820.4L1112.3 819.0L1113.0 820.7L1113.7 809.8L1114.4 808.7L1115.1 813.8L1115.8 808.5L1116.5 815.0L1117.2 805.5L1117.9 809.2L1118.6 804.3L1119.3 819.9L1120.0 817.7L1120.7 802.8L1121.4 817.2L1122.1 816.4L1122.8 819.5L1123.5 810.9L1124.2 820.7L1124.9 823.2L1125.6 820.8L1126.3 819.9L1127.0 819.8L1127.7 830.0L1128.4 833.3L1129.1 830.3L1129.8 836.3L1130.5 834.6L1131.2 829.0L1131.9 827.1L1132.6 829.3L1133.3 827.3L1134.0 823.8L1134.7 822.2L1135.4 826.3L1136.1 826.9L1136.8 829.3L1137.5 828.4L1138.2 825.7L1138.9 796.7L1139.6 823.8L1140.3 820.8L1141.0 820.5L1141.7 824.0L1142.4 815.4L1143.1 820.0L1143.8 819.7L1144.5 787.6L1145.2 810.0L1145.9 823.1L1146.6 818.4L1147.3 823.4L1148.0 817.6L1148.7 800.8L1149.4 818.9L1150.1 815.2L1150.8 823.8L1151.5 820.9L1152.2 819.4L1152.9 820.6L1153.6 822.4L1154.3 821.4L1155.0 823.3L1155.7 825.7L1156.4 820.4L1157.1 823.2L1157.8 826.7L1158.5 829.4L1159.2 836.2L1159.9 835.8L1160.6 831.8L1161.3 828.8L1162.0 830.5L1162.7 828.4L1163.4 829.4L1164.1 855.3L1164.8 832.6L1165.5 836.5L1166.2 837.0L1166.9 832.3L1167.6 831.4L1168.3 828.2L1169.0 835.8L1169.7 831.8L1170.4 842.0L1171.2 840.0L1171.9 833.6L1172.6 835.4L1173.3 837.1L1174.0 835.2L1174.7 835.0L1175.4 832.0L1176.1 839.5L1176.8 835.5L1177.5 840.6L1178.2 840.2L1178.9 840.3L1179.6 839.7L1180.3 843.4L1181.0 846.4L1181.7 842.6L1182.4 843.0L1183.1 848.8L1183.8 843.6L1184.5 820.9L1185.2 840.5L1185.9 844.0L1186.6 844.3L1187.3 839.7L1188.0 847.1L1188.7 849.2L1189.4 841.3L1190.1 845.9L1190.8 841.5L1191.5 843.3L1192.2 852.0L1192.9 849.2L1193.6 846.1L1194.3 847.8L1195.0 846.7L1195.7 846.7L1196.4 818.9L1197.1 840.9L1197.8 851.4L1198.5 848.9L1199.2 850.0L1199.9 840.1L1200.6 846.6L1201.3 812.9L1202.0 853.5L1202.7 848.7L1203.4 848.6L1204.1 845.1L1204.8 838.8L1205.5 852.0L1206.2 849.5L1206.9 849.4L1207.6 846.0L1208.3 839.3L1209.0 840.3L1209.7 839.7L1210.4 842.7L1211.1 841.3L1211.8 843.5L1212.5 845.3L1213.2 844.0L1213.9 840.1L1214.6 838.1L1215.3 845.5L1216.0 841.1L1216.7 836.6L1217.4 842.1L1218.1 842.4L1218.8 846.2L1219.5 840.0L1220.2 844.9L1220.9 852.0L1221.6 846.3L1222.3 847.7L1223.0 847.8L1223.7 846.9L1224.4 837.5L1225.1 836.7L1225.8 845.7L1226.5 846.4L1227.2 845.2L1227.9 845.1L1228.6 843.3L1229.3 837.0L1230.0 848.5L1230.7 843.9L1231.4 844.3L1232.1 839.1L1232.8 836.7L1233.5 841.3L1234.2 835.4L1234.9 837.1L1235.6 826.5L1236.3 834.7L1237.0 838.6L1237.7 843.6L1238.4 805.8L1239.1 834.8L1239.8 841.8L1240.5 840.4L1241.2 829.8L1241.9 836.6L1242.6 833.4L1243.3 831.1L1244.0 830.8L1244.7 833.0L1245.4 834.0L1246.1 806.8L1246.8 828.8L1247.5 826.9L1248.2 825.8L1248.9 827.4L1249.6 828.6L1250.3 824.8L1251.0 826.0L1251.7 827.8L1252.4 834.0L1253.1 825.7L1253.8 834.9L1254.5 836.1L1255.2 826.9L1255.9 831.6L1256.6 819.4L1257.3 814.5L1258.0 817.4L1258.7 819.4L1259.4 827.0L1260.1 820.9L1260.8 819.6L1261.5 819.8L1262.2 815.1L1262.9 808.8L1263.6 824.2L1264.3 820.5L1265.0 816.5L1265.7 810.5L1266.4 810.2L1267.1 817.0L1267.8 814.2L1268.5 818.0L1269.2 817.3L1269.9 814.2L1270.6 816.6L1271.3 818.9L1272.0 816.1L1272.7 823.4L1273.4 814.6L1274.1 820.4L1274.8 821.4L1275.5 821.8L1276.2 821.6L1276.9 817.0L1277.6 811.6L1278.3 818.9L1279.0 816.2L1279.7 818.3L1280.4 817.9L1281.1 815.4L1281.8 829.8L1282.5 825.9L1283.2 796.7L1283.9 822.3L1284.6 816.7L1285.4 812.2L1286.1 815.5L1286.8 823.7L1287.5 816.7L1288.2 811.7L1288.9 814.6L1289.6 822.1L1290.3 812.8L1291.0 819.5L1291.7 821.3L1292.4 822.1L1293.1 816.3L1293.8 810.8L1294.5 811.7L1295.2 814.5L1295.9 810.0L1296.6 811.6L1297.3 813.3L1298.0 810.2L1298.7 817.2L1299.4 778.6L1300.1 813.2L1300.8 809.8L1301.5 810.7L1302.2 814.5L1302.9 809.2L1303.6 802.5L1304.3 796.6L1305.0 803.6L1305.7 814.4L1306.4 808.1L1307.1 813.4L1307.8 816.1L1308.5 806.5L1309.2 842.1L1309.9 805.5L1310.6 789.7L1311.3 808.2L1312.0 817.4L1312.7 810.8L1313.4 815.5L1314.1 810.6L1314.8 806.7L1315.5 806.9L1316.2 815.0L1316.9 809.9L1317.6 812.4L1318.3 821.7L1319.0 815.3L1319.7 815.8L1320.4 825.1L1321.1 818.5L1321.8 817.6L1322.5 824.0L1323.2 820.3L1323.9 820.5L1324.6 821.7L1325.3 808.8L1326.0 825.0L1326.7 833.5L1327.4 828.6L1328.1 824.7L1328.8 823.1L1329.5 837.6L1330.2 835.3L1330.9 838.7L1331.6 836.6L1332.3 836.1L1333.0 829.8L1333.7 839.5L1334.4 836.6L1335.1 831.4L1335.8 833.1L1336.5 840.2L1337.2 834.9L1337.9 832.9L1338.6 839.1L1339.3 829.4L1340.0 831.6L1340.7 832.9L1341.4 834.4L1342.1 840.1L1342.8 841.4L1343.5 848.2L1344.2 844.5L1344.9 843.7L1345.6 840.1L1346.3 849.4L1347.0 840.8L1347.7 838.0L1348.4 838.5L1349.1 833.1L1349.8 838.2L1350.5 839.8L1351.2 839.3L1351.9 842.3L1352.6 840.0L1353.3 834.8L1354.0 835.8L1354.7 836.9L1355.4 841.4L1356.1 832.3L1356.8 833.5L1357.5 834.8L1358.2 830.7L1358.9 825.6L1359.6 822.4L1360.3 826.9L1361.0 824.3L1361.7 814.9L1362.4 828.5L1363.1 829.0L1363.8 829.2L1364.5 825.9L1365.2 828.9L1365.9 826.3L1366.6 829.3L1367.3 833.3L1368.0 821.7L1368.7 818.7L1369.4 817.3L1370.1 820.1L1370.8 829.5L1371.5 826.3L1372.2 819.8L1372.9 826.2L1373.6 828.2L1374.3 830.0L1375.0 833.3L1375.7 833.0L1376.4 827.1L1377.1 824.6L1377.8 812.9L1378.5 835.9L1379.2 840.5L1379.9 838.6L1380.6 838.7L1381.3 839.6L1382.0 844.6L1382.7 844.3L1383.4 834.1L1384.1 834.8L1384.8 835.5L1385.5 841.3L1386.2 836.8L1386.9 827.9L1387.6 830.1L1388.3 839.3L1389.0 827.7L1389.7 831.2L1390.4 805.8L1391.1 826.8L1391.8 833.9L1392.5 831.6L1393.2 829.5L1393.9 830.9L1394.6 826.3L1395.3 828.2L1396.0 834.0L1396.7 818.1L1397.4 835.0L1398.1 834.9L1398.8 824.1L1399.6 826.7L1400.3 829.3L1401.0 829.1L1401.7 818.4L1402.4 824.7L1403.1 823.9L1403.8 828.7L1404.5 833.4L1405.2 835.0L1405.9 833.3L1406.6 833.4L1407.3 829.7L1408.0 827.3L1408.7 825.0L1409.4 824.5L1410.1 826.7L1410.8 823.5L1411.5 830.9L1412.2 829.7L1412.9 818.1L1413.6 827.4L1414.3 830.1L1415.0 831.0L1415.7 827.0L1416.4 830.1L1417.1 828.8L1417.8 838.0L1418.5 808.8L1419.2 836.4L1419.9 832.1L1420.6 833.0L1421.3 826.9L1422.0 828.9L1422.7 833.4L1423.4 832.3L1424.1 825.8L1424.8 827.8L1425.5 794.7L1426.2 824.1L1426.9 830.3L1427.6 821.6L1428.3 818.0L1429.0 820.5L1429.7 810.9L1430.4 799.7L1431.1 818.9L1431.8 815.4L1432.5 823.7L1433.2 823.0L1433.9 825.4L1434.6 823.2" fill="none" stroke="#000080" stroke-width="3.1" stroke-linejoin="round" stroke-linecap="round"/><path d="M215.1 840.1L221.1 841.3L227.1 842.5L233.1 843.6L239.1 844.5L245.0 845.4L251.0 846.2L257.0 846.2L263.0 846.2L268.9 845.5L274.9 843.8L280.9 842.1L286.9 841.0L292.9 839.9L298.8 838.9L304.8 838.1L310.8 837.4L316.8 836.9L322.8 836.5M334.3 834.7L340.2 834.7L346.1 834.7L352.1 834.7L358.0 833.9L363.9 833.3L369.8 834.4L375.8 835.5L381.7 836.7M422.1 846.8L427.9 846.8L433.6 846.8L439.4 846.1L445.2 842.8L450.9 841.6L456.7 840.9L462.5 840.1M474.6 836.1L480.5 835.7L486.4 835.4L492.2 834.7L498.1 833.3L504.0 831.9L509.9 832.2L515.8 832.7L521.7 833.1L527.6 833.2L533.5 833.4L539.3 833.5L545.2 833.7M564.4 834.1L570.5 836.4L576.6 838.6L582.7 840.4L588.8 841.2L594.9 841.9L601.0 842.7L607.0 842.9L613.1 842.1L619.2 841.4L625.3 840.3L631.4 839.0L637.5 837.8L643.6 836.5L649.7 835.0L655.8 834.4L661.8 835.1L667.9 835.3L674.0 834.7L680.1 834.2L686.2 834.2L692.3 834.4L698.4 834.6L704.5 834.7L710.6 834.7L716.7 834.7L722.7 834.6L728.8 834.3L734.9 834.3L741.0 836.2L747.1 838.1L753.2 840.1M806.7 835.1L812.7 833.9L818.6 832.7L824.6 831.6L830.5 830.7L836.5 831.7L842.4 832.6L848.4 831.4L854.3 830.2L860.3 829.0L866.3 828.8L872.2 828.6L878.2 828.4L884.1 828.2L890.1 828.0L896.0 828.7L902.0 829.5L907.9 830.3L913.9 831.2L919.9 832.4L925.8 833.5M1010.6 828.6L1016.7 828.0L1022.7 827.4L1028.8 826.7L1034.8 826.1L1040.9 825.5L1046.9 825.7L1053.0 826.1L1059.1 826.4L1065.1 827.0L1071.2 827.7L1077.2 828.5L1083.3 829.8L1089.3 831.3L1095.4 832.8L1101.5 834.4L1107.5 835.9L1113.6 836.9L1119.6 837.3L1125.7 837.7M1151.9 834.1L1157.9 833.0L1163.9 831.9L1169.8 830.8L1175.8 829.6L1181.8 828.1L1187.8 826.6L1193.7 826.0L1199.7 826.0L1205.7 826.0L1211.7 826.1L1217.6 826.5L1223.6 827.0M1267.0 823.0L1272.9 824.1L1278.7 825.3L1284.6 826.5L1290.5 827.4L1296.3 828.3L1302.2 829.0L1308.1 828.5L1313.9 827.9L1319.8 826.2L1325.7 824.6L1331.6 823.0L1337.4 821.8L1343.3 820.6L1349.2 819.5L1355.0 818.9L1360.9 818.3M1482.9 833.5L1489.0 831.0L1495.0 828.5L1501.1 826.0L1507.1 823.7L1513.2 822.2L1519.3 820.7L1525.3 819.2L1531.4 816.2L1537.4 813.5L1543.5 814.9L1549.5 816.7L1555.6 816.1L1561.7 814.6L1567.7 813.3L1573.8 813.6L1579.8 814.0L1585.9 814.4L1591.9 814.5L1598.0 814.5L1604.1 814.5L1610.1 814.5" fill="none" stroke="#000000" stroke-width="4.0" stroke-linejoin="round" stroke-linecap="butt"/></g>
<path d="M304.53 1052.70v14.58M478.80 1052.70v14.58M653.07 1052.70v14.58M827.34 1052.70v14.58M1002.09 1052.70v14.58M1176.36 1052.70v14.58M1350.63 1052.70v14.58M1524.90 1052.70v14.58M202.40 1003.92h-14.58M202.40 815.11h-14.58M202.40 626.29h-14.58M202.40 437.47h-14.58M202.40 248.66h-14.58" stroke="#000" stroke-width="3.33" fill="none"/>
<rect x="202.4" y="66.4" width="1497.30" height="986.30" fill="none" stroke="#000" stroke-width="3.33" stroke-linejoin="miter"/>
<text x="173.20" y="1019.12" text-anchor="end" font-size="41.67">200</text>
<text x="173.20" y="830.31" text-anchor="end" font-size="41.67">400</text>
<text x="173.20" y="641.49" text-anchor="end" font-size="41.67">600</text>
<text x="173.20" y="452.67" text-anchor="end" font-size="41.67">800</text>
<text x="173.20" y="263.86" text-anchor="end" font-size="41.67">1000</text>
<text transform="translate(300.33 1109.50) rotate(-30)" text-anchor="end" font-size="41.67">2009</text>
<text transform="translate(474.60 1109.50) rotate(-30)" text-anchor="end" font-size="41.67">2010</text>
<text transform="translate(648.87 1109.50) rotate(-30)" text-anchor="end" font-size="41.67">2011</text>
<text transform="translate(823.14 1109.50) rotate(-30)" text-anchor="end" font-size="41.67">2012</text>
<text transform="translate(997.89 1109.50) rotate(-30)" text-anchor="end" font-size="41.67">2013</text>
<text transform="translate(1172.16 1109.50) rotate(-30)" text-anchor="end" font-size="41.67">2014</text>
<text transform="translate(1346.43 1109.50) rotate(-30)" text-anchor="end" font-size="41.67">2015</text>
<text transform="translate(1520.70 1109.50) rotate(-30)" text-anchor="end" font-size="41.67">2016</text>
<text x="951.05" y="1218.90" text-anchor="middle" font-size="41.67">Time</text>
<text transform="translate(35.60 559.55) rotate(-90)" text-anchor="middle" font-size="41.67">pCO<tspan font-size="29.17" dy="6.9" dx="1.1">2</tspan><tspan dy="-6.9" dx="1.7">sw (µatm)</tspan></text>
<text x="951.05" y="40.20" dx="-1.65" text-anchor="middle" font-size="50">pCO<tspan font-size="35" dy="8.3" dx="1.3">2</tspan><tspan dy="-8.3" dx="2">sw</tspan></text>
<rect x="276.1" y="83.40" width="1349.70" height="58.90" rx="6.7" ry="6.7" fill="#fff" fill-opacity="0.8" stroke="#ccc" stroke-opacity="0.8" stroke-width="4.17"/>
<path d="M287.32 110.06h70.83" stroke="#558b2f" stroke-width="4.17" fill="none"/>
<text x="382.74" y="121.96" font-size="33.33">CRIMP-2</text>
<path d="M587.12 110.06h70.83" stroke="#d80000" stroke-width="4.17" fill="none"/>
<text x="682.54" y="121.96" font-size="33.33">Ala Wai</text>
<path d="M874.52 110.06h70.83" stroke="#f3d42c" stroke-width="4.17" fill="none"/>
<text x="969.94" y="121.96" font-size="33.33">Kilo Nalu</text>
<path d="M1183.72 110.06h70.83" stroke="#000080" stroke-width="4.17" fill="none"/>
<text x="1279.14" y="121.96" font-size="33.33">WHOTS</text>
<path d="M1471.42 110.06h70.83" stroke="#000000" stroke-width="4.17" fill="none"/>
<text x="1566.84" y="121.96" font-size="33.33">Air</text>
<clipPath id="clipB"><rect x="202.4" y="1342.8" width="1497.3" height="986.05"/></clipPath>
<g clip-path="url(#clipB)"><path d="M205.7 2201.3L206.2 1897.8L206.7 2172.9L207.2 1542.0L207.7 2154.4L208.2 1875.8L208.7 2130.0L209.2 1890.6L209.7 2134.1L210.2 1855.0L210.7 2124.1L211.2 1884.8L211.7 2192.8L212.2 1826.2L212.7 2235.2L213.2 1859.7L213.7 2127.0L214.2 1879.1L214.7 2155.2L215.2 1896.3L215.7 2146.1L216.2 1426.8L216.7 2200.4L217.2 1873.2L217.7 2129.3L218.2 1722.1L218.7 2144.0L219.2 1854.3L219.7 2159.9L220.2 1758.0L220.7 2116.6L221.2 1854.9L221.7 2138.1L222.2 1866.4L222.7 2126.0L223.2 1829.2L223.7 2190.9L224.2 1751.6L224.7 2145.6L225.2 1885.6L225.7 2136.9L226.2 1869.6L226.7 2116.9L227.2 1877.4L227.7 2122.9L228.2 1883.5L228.7 2137.1L229.2 1871.8L229.7 2143.1L230.2 1893.1L230.7 2137.8L231.2 1788.4L231.7 2167.7L232.2 1874.1L232.7 2139.4L233.2 1879.1L233.7 2148.2L234.2 1864.2L234.7 2132.2L235.2 1890.1L235.7 2116.2L236.2 1862.9L236.7 2181.9L237.2 1889.3L237.7 2145.8L238.2 1764.0L238.7 2134.5L239.2 1870.2L239.7 2152.0L240.2 1871.5L240.7 2150.3L241.2 1873.0L241.7 2146.1L242.2 1572.8L242.7 2156.6L243.2 1775.2L243.7 2131.1L244.2 1822.0L244.7 2139.5L245.2 1862.2L245.7 2144.1L246.2 1868.1L246.7 2226.0L247.2 1892.1L247.7 2144.4L248.2 1861.2L248.7 2145.7L249.2 1821.9L249.7 2141.5L250.2 1841.1L250.7 2135.9L251.2 1811.7L251.7 2119.4L252.2 1627.2L252.7 2130.6L253.2 1824.6L253.7 2155.9L254.2 1896.9L254.7 2134.7L255.2 1864.2L255.7 2140.7L256.2 1863.7L256.7 2135.0L257.2 1877.2L257.7 2177.0L258.2 1791.9L258.7 2126.8L259.2 1797.2L259.7 2161.4L260.2 1774.0L260.7 2162.2L261.2 1867.4L261.7 2124.6L262.2 1806.8L262.7 2215.2L263.2 1902.6L263.7 2144.0L264.2 1806.7L264.7 2185.7L265.2 1876.6L265.7 2160.8L266.2 1825.2L266.7 2147.1L267.2 1897.8L267.7 2150.8L268.2 1872.9L268.7 2211.5L269.2 1879.0L269.7 2141.3L270.2 1843.0L270.7 2149.2L271.2 1802.3L271.7 2135.7L272.2 1887.8L272.7 2224.0L273.2 1872.6L273.7 2154.6L274.2 1557.2L274.7 2133.4L275.2 1891.0L275.7 2150.9L276.2 1896.2L276.7 2166.7L277.2 1840.5L277.7 2135.9L278.2 1572.0L278.7 2129.0L279.2 1873.9L279.7 2214.6L280.2 1876.7L280.7 2184.6L281.2 1858.2L281.7 2162.5L282.2 1776.2L282.7 2174.3L283.2 1829.4L283.7 2175.9L284.2 1831.8L284.7 2230.8L285.2 1884.1L285.7 2159.6L286.2 1762.0L286.7 2199.8L287.2 1866.1L287.7 2149.8L288.2 1873.2L288.7 2151.1L289.2 1874.2L289.7 2128.8L290.2 1779.3L290.7 2151.2L291.2 1796.0L291.7 2161.6L292.2 1805.6L292.8 2135.4L293.3 1814.8L293.8 2159.2L294.3 1815.1L294.8 2153.9L295.3 1669.2L295.8 2151.5L296.3 1904.6L296.8 2147.3L297.3 1835.6L297.8 2193.4L298.3 1638.0L298.8 2133.2L299.3 1906.1L299.8 2169.1L300.3 1909.9L300.8 2160.3L301.3 1879.0L301.8 2160.2L302.3 1884.1L302.8 2170.5L303.3 1909.7L303.8 2196.7L304.3 1913.9L304.8 2154.8L305.3 1912.5L305.8 2156.9L306.3 1886.8L306.8 2170.6L307.3 1921.6L307.8 2193.5L308.3 1902.4L308.8 2174.2L309.3 1900.8L309.8 2199.7L310.3 1928.3L310.8 2157.6L311.3 1915.4L311.8 2162.0L312.3 1822.0L312.8 2284.8L313.3 1924.7L313.8 2168.0L314.3 1903.8L314.8 2172.5L315.3 1909.3L315.8 2185.2L316.3 1912.8L316.8 2145.1L317.3 1910.5L317.8 2226.3L318.3 1932.9L318.8 2194.0L319.3 1927.3L319.8 2159.1L320.3 1905.0L320.8 2253.2L321.3 1917.1L321.8 2189.4L322.3 1911.6L322.8 2178.1L323.3 1930.0L323.8 2180.9L324.3 1936.7L324.8 2157.8L325.3 1908.0L325.8 2147.2L326.3 1908.6L326.8 2177.0L327.3 1914.9L327.8 2180.4L328.3 1860.0L328.8 2153.8L329.3 1937.1L329.8 2161.1L330.3 1946.1L330.8 2208.0L331.3 1923.9L331.8 2173.4L332.3 1911.9L332.8 2175.6L333.3 1927.2L333.8 2180.9L334.3 1900.3L334.8 2239.2L335.3 1917.4L335.8 2170.1L336.3 1889.1L336.8 2167.2L337.3 1865.6L337.8 2167.6L338.3 1892.2L338.8 2188.5L339.3 1853.3L339.8 2198.5L340.3 1619.2L340.8 2156.9L341.3 1896.0L341.8 2159.4L342.3 1826.0L342.8 2180.9L343.3 1851.2L343.8 2203.0L344.3 1887.5L344.8 2173.1L345.3 1894.5L345.8 2191.6L346.3 1884.2L346.8 2184.0L347.3 1909.5L347.8 2210.2L348.3 1894.5L348.8 2174.5L349.3 1883.9L349.8 2184.8L350.3 1896.0L350.8 2157.2L351.3 1874.7L351.8 2192.0L352.3 1842.7L352.8 2175.1L353.3 1907.4L353.8 2152.0L354.3 1873.7L354.8 2146.0L355.3 1890.0L355.8 2213.1L356.3 1878.9L356.8 2204.9L357.3 1854.7L357.8 2142.8L358.3 1654.8L358.8 2146.0L359.3 1885.0L359.8 2175.3L360.3 1901.1L360.8 2200.8L361.3 1865.7L361.8 2225.2L362.3 1881.6L362.8 2181.6L363.3 1813.2L363.8 2142.4L364.3 1807.1L364.8 2201.3L365.3 1805.2L365.8 2188.9L366.3 1873.4L366.8 2220.9L367.3 1909.8L367.8 2214.2L368.3 1904.0L368.8 2144.2L369.3 1780.7L369.8 2284.8L370.3 1882.9L370.8 2183.4L371.3 1843.1L371.8 2150.4L372.3 1810.2L372.8 2162.7L373.3 1845.3L373.8 2171.5L374.3 1886.8L374.8 2144.3L375.3 1538.8L375.8 2154.3L376.3 1888.3L376.8 2194.9L377.3 1908.2L377.8 2137.8L378.3 1872.1L378.8 2213.8L379.3 1897.2L379.8 2185.0L380.3 1745.2M415.7 2122.8L416.2 1888.5L416.7 2246.0L417.2 1814.0L417.7 2139.2L418.2 1843.9L418.7 2192.5L419.2 1887.7L419.7 2113.9L420.2 1723.2L420.7 2137.5L421.2 1846.2L421.7 2140.4L422.2 1876.3L422.7 2136.9L423.2 1872.4L423.7 2147.1L424.2 1798.7L424.7 2127.8L425.2 1860.5L425.7 2134.9L426.2 1884.8L426.7 2191.9L427.2 1708.0L427.7 2152.9L428.2 1853.5L428.7 2165.2L429.2 1866.8L429.7 2147.2L430.2 1859.5L430.7 2180.9L431.2 1886.6L431.7 2161.2L432.2 1762.0L432.7 2133.1L433.2 1850.1L433.7 2163.4L434.2 1856.7L434.7 2129.9L435.2 1858.2L435.7 2120.5L436.2 1749.8L436.7 2148.0L437.2 1877.5L437.7 2128.8L438.2 1861.1L438.7 2174.8L439.2 1871.8L439.7 2115.0L440.2 1618.0L440.7 2167.6L441.2 1846.1L441.7 2141.8L442.2 1830.8L442.7 2165.2L443.2 1842.6L443.7 2129.6L444.2 1798.3L444.7 2130.7L445.2 1821.9L445.7 2119.4L446.2 1597.2L446.7 2143.4L447.2 1857.4L447.7 2144.8L448.2 1864.1L448.7 2148.6L449.2 1878.4L449.7 2157.3L450.2 1678.0L450.7 2147.9L451.2 1743.1L451.7 2206.0L452.2 1724.1L452.7 2128.5L453.2 1804.5L453.7 2157.8L454.2 1841.8L454.7 2129.9L455.2 1538.8L455.7 2198.6L456.2 1862.6L456.7 2153.8L457.2 1856.1L457.7 2201.6L458.2 1819.7L458.7 2195.5L459.2 1856.2L459.7 2146.3L460.2 1849.1L460.7 2129.2L461.2 1886.8L461.7 2143.7L462.2 1814.6L462.7 2132.3L463.2 1847.9L463.7 2144.1L464.2 1776.0L464.7 2140.6L465.2 1871.4L465.7 2151.8L466.2 1904.0L466.7 2147.2L467.2 1883.9L467.7 2158.7L468.2 1893.8L468.7 2187.6L469.2 1904.7L469.7 2149.1L470.2 1887.5L470.7 2123.0L471.2 1887.2L471.7 2140.3L472.2 1853.4L472.7 2131.3L473.2 1896.3L473.7 2145.8L474.2 1892.7L474.7 2155.6L475.2 1879.5L475.7 2133.7L476.2 1840.0L476.7 2141.5L477.2 1902.7L477.7 2124.0L478.2 1850.8L478.7 2186.8L479.1 1907.5L479.6 2180.8L480.1 1891.3L480.6 2133.2L481.1 1882.6L481.6 2137.5L482.1 1908.5L482.6 2181.4L483.1 1858.3L483.6 2156.8L484.1 1880.5L484.6 2158.0L485.1 1902.8L485.6 2151.5L486.1 1864.8L486.6 2145.1L487.1 1862.3L487.6 2160.4L488.1 1813.3L488.6 2188.0L489.1 1853.7L489.6 2162.5L490.1 1878.4L490.6 2141.5L491.1 1863.4L491.6 2143.9L492.1 1855.3L492.6 2168.2L493.1 1894.3L493.6 2170.8L494.1 1750.0L494.6 2148.7L495.1 1904.9L495.6 2222.0L496.1 1887.5L496.6 2190.1L497.1 1870.2L497.6 2150.1L498.1 1906.8L498.6 2163.8L499.1 1874.3L499.6 2140.3L500.1 1816.4L500.6 2166.6L501.1 1891.8L501.6 2159.7L502.1 1622.8L502.6 2142.9L503.1 1866.2L503.6 2194.3L504.1 1892.8L504.6 2141.5L505.1 1905.3L505.6 2160.2L506.1 1742.0L506.6 2137.4L507.1 1882.8L507.6 2175.7L508.1 1878.9L508.6 2157.4L509.1 1874.3L509.6 2129.5L510.1 1814.9L510.6 2168.2L511.1 1886.2L511.6 2154.9L512.1 1832.8L512.6 2132.2L513.1 1897.3L513.6 2149.0L514.1 1876.4L514.6 2133.4L515.1 1891.0L515.6 2226.0L516.1 1686.8L516.6 2136.7L517.1 1872.2L517.6 2181.6L518.1 1896.1L518.6 2133.4L519.1 1724.0L519.6 2159.4L520.1 1887.9L520.6 2150.8L521.1 1891.3L521.6 2182.7L522.1 1780.3L522.6 2172.3L523.1 1781.1L523.6 2155.6L524.1 1813.1L524.6 2160.4L525.1 1861.8L525.6 2178.8L526.1 1890.3L526.6 2163.2L527.1 1868.4L527.6 2151.2L528.1 1660.0L528.6 2170.0L529.1 1856.4L529.6 2179.7L530.1 1869.0L530.6 2234.0L531.1 1859.8L531.6 2146.5L532.1 1762.0L532.6 2159.1L533.1 1784.7L533.6 2127.6L534.1 1870.2L534.6 2142.3L535.1 1819.7L535.6 2148.5L536.1 1837.3L536.6 2139.2L537.1 1880.4L537.6 2168.7L538.1 1629.2L538.6 2151.2L539.1 1888.8L539.6 2202.0L540.1 1870.4L540.6 2169.7L541.1 1882.4L541.6 2142.9L542.1 1814.0L542.6 2198.4L543.1 1831.0M553.7 2162.2L554.2 1844.9L554.7 2132.7L555.2 1865.7L555.7 2117.8L556.2 1790.0L556.7 2149.3L557.2 1844.0L557.7 2152.5L558.2 1891.5L558.7 2244.0L559.2 1867.9L559.7 2165.2L560.2 1863.0L560.7 2137.5L561.2 1880.8L561.7 2146.6L562.2 1846.0L562.7 2134.2L563.2 1750.0L563.7 2228.0L564.2 1863.1L564.7 2127.6L565.2 1882.1L565.7 2148.0L566.2 1832.8L566.7 2126.9L567.2 1833.4L567.7 2147.0L568.2 1860.8L568.7 2147.9L569.2 1869.0L569.7 2154.3L570.2 1890.2L570.7 2168.4L571.2 1684.8L571.7 2147.1L572.2 1888.9L572.7 2126.1L573.2 1871.5L573.7 2131.2L574.2 1791.0L574.7 2124.8L575.2 1841.7L575.7 2162.7L576.2 1873.1L576.7 2128.5L577.2 1864.2L577.7 2121.0L578.2 1863.6L578.7 2148.8L579.2 1866.9L579.7 2159.0L580.2 1763.6L580.7 2112.5L581.2 1748.8L581.7 2147.1L582.2 1852.5L582.7 2187.6L583.2 1823.7L583.7 2132.3L584.2 1854.0L584.7 2122.5L585.2 1862.4L585.7 2122.5L586.2 1887.6L586.7 2115.0L587.2 1810.4L587.7 2138.8L588.2 1806.0L588.7 2129.6L589.2 1848.5L589.7 2144.6L590.2 1885.4L590.7 2147.8L591.2 1875.1L591.7 2126.6L592.2 1830.6L592.7 2149.9L593.2 1836.0L593.7 2118.4L594.2 1843.0L594.7 2133.0L595.2 1890.6L595.7 2146.1L596.2 1841.0L596.7 2133.3L597.2 1858.8L597.7 2125.4L598.2 1876.9L598.7 2134.1L599.2 1892.4L599.7 2127.5L600.2 1746.8L600.7 2120.8L601.2 1865.5L601.7 2117.1L602.2 1878.1L602.7 2130.9L603.2 1678.0L603.7 2125.2L604.2 1885.2L604.7 2123.8L605.2 1868.7L605.7 2140.7L606.2 1816.7L606.7 2161.3L607.2 1891.5L607.7 2136.7L608.2 1890.1L608.7 2134.0L609.2 1654.0L609.7 2145.4L610.2 1792.7L610.7 2149.9L611.2 1863.2L611.7 2135.6L612.2 1873.3L612.7 2119.2L613.2 1893.0L613.7 2115.7L614.2 1837.0L614.7 2118.0L615.2 1752.6L615.7 2138.4L616.2 1861.4L616.7 2142.3L617.2 1765.3L617.7 2172.2L618.2 1865.8L618.7 2157.7L619.2 1752.0L619.7 2126.4L620.2 1861.0L620.7 2194.0L621.2 1830.4L621.7 2128.7L622.2 1834.9L622.7 2140.5L623.2 1816.5L623.7 2164.1L624.2 1869.4L624.7 2135.7L625.2 1670.0L625.7 2142.7L626.2 1892.8L626.7 2118.5L627.2 1866.0L627.7 2112.9L628.2 1868.1L628.7 2149.1L629.2 1857.6L629.7 2146.9L630.2 1856.5L630.7 2129.3L631.2 1894.6L631.7 2135.6L632.2 1806.0L632.7 2116.3L633.2 1870.1L633.7 2133.0L634.2 1880.9L634.7 2133.8L635.2 1868.8L635.7 2167.8L636.2 1810.4L636.7 2144.3L637.2 1878.1L637.7 2201.9L638.2 1850.2L638.7 2111.4L639.2 1838.7L639.7 2181.1L640.2 1817.7L640.7 2134.2L641.2 1889.2L641.7 2116.0L642.2 1782.0L642.7 2143.4L643.2 1832.3L643.7 2145.3L644.2 1886.3L644.7 2122.7L645.2 1778.9L645.7 2164.8L646.2 1880.7L646.7 2127.7L647.2 1755.6L647.7 2115.4L648.2 1612.8L648.7 2122.0L649.2 1881.9L649.7 2115.3L650.2 1864.8L650.7 2155.0L651.2 1706.0L651.8 2120.3L652.3 1819.5L652.8 2118.1L653.3 1869.1L653.8 2141.2L654.3 1809.1L654.8 2154.3L655.3 1875.2L655.8 2122.7L656.3 1798.7L656.8 2139.2L657.3 1844.6L657.8 2119.5L658.3 1827.2L658.8 2142.1L659.3 1836.2L659.8 2150.4L660.3 1690.8L660.8 2120.9L661.3 1883.3L661.8 2135.1L662.3 1888.1L662.8 2151.2L663.3 1896.7L663.8 2197.1L664.3 1867.1L664.8 2148.4L665.3 1890.5L665.8 2165.3L666.3 1904.0L666.8 2189.7L667.3 1902.0L667.8 2178.6L668.3 1880.5L668.8 2160.7L669.3 1885.6L669.8 2121.2L670.3 1837.5L670.8 2191.5L671.3 1888.9L671.8 2145.4L672.3 1886.3L672.8 2148.6L673.3 1728.8L673.8 2222.0L674.3 1900.9L674.8 2121.9L675.3 1874.0L675.8 2144.6L676.3 1905.9L676.8 2157.6L677.3 1784.0L677.8 2169.1L678.3 1863.6L678.8 2130.4L679.3 1865.7L679.8 2154.3L680.3 1891.5L680.8 2119.9L681.3 1893.4L681.8 2133.3L682.3 1890.5L682.8 2155.7L683.3 1900.0L683.8 2147.2L684.3 1886.8L684.8 2121.4L685.3 1822.0L685.8 2152.5L686.3 1894.9L686.8 2172.1L687.3 1907.8L687.8 2224.0L688.3 1912.0L688.8 2178.9L689.3 1882.3L689.8 2137.5L690.3 1909.9L690.8 2173.7L691.3 1831.0L691.8 2152.5L692.3 1835.0L692.8 2133.5L693.3 1877.5L693.8 2141.2L694.3 1891.1L694.8 2122.3L695.3 1899.5L695.8 2125.0L696.3 1857.7L696.8 2146.3L697.3 1897.2L697.8 2155.0L698.3 1888.4L698.8 2122.6L699.3 1906.2L699.8 2134.1L700.3 1818.0L700.8 2156.2L701.3 1865.4L701.8 2122.1L702.3 1871.7L702.8 2163.0L703.3 1772.0L703.8 2132.3L704.3 1816.9L704.8 2120.5L705.3 1857.9L705.8 2129.9L706.3 1870.4L706.8 2134.9L707.3 1873.2L707.8 2131.3L708.3 1869.1L708.8 2140.0L709.3 1888.6L709.8 2183.5L710.3 1885.1L710.8 2177.3L711.3 1698.0L711.8 2151.2L712.3 1848.3L712.8 2143.7L713.3 1902.2L713.8 2158.1L714.3 1832.2L714.8 2126.2L715.3 1888.8L715.8 2131.5L716.3 1890.9L716.8 2155.7L717.3 1906.6L717.8 2136.2L718.3 1887.4L718.8 2198.3L719.3 1736.8L719.8 2148.1L720.3 1900.0L720.8 2179.6L721.3 1888.3L721.8 2145.9L722.3 1892.3L722.8 2146.1L723.3 1906.5L723.8 2177.2L724.3 1774.0L724.8 2129.8L725.3 1889.4L725.8 2118.3L726.3 1860.4L726.8 2136.9L727.3 1833.4L727.8 2135.2L728.3 1880.1L728.8 2152.5L729.3 1824.7L729.8 2144.0L730.3 1892.3L730.8 2135.7L731.3 1851.3L731.8 2148.1L732.3 1879.3L732.8 2173.2L733.3 1878.3L733.8 2150.1L734.3 1910.9L734.8 2152.9L735.3 1907.8L735.8 2118.0L736.3 1884.6L736.8 2176.2L737.3 1886.8L737.8 2152.2L738.3 1764.0L738.8 2159.2L739.3 1890.3L739.8 2182.7L740.3 1859.6L740.8 2129.9L741.3 1874.1L741.8 2176.0L742.3 1904.6L742.8 2168.7L743.3 1901.3L743.8 2142.4L744.3 1756.0L744.8 2149.0L745.3 1901.1L745.8 2157.2L746.3 1887.1L746.8 2130.9L747.3 1884.6L747.8 2145.6L748.3 1878.0L748.8 2149.1L749.3 1903.0L749.8 2214.0L750.3 1731.2M793.7 2220.7L794.2 1877.3L794.7 2157.0L795.2 1744.0L795.7 2135.0L796.2 1872.9L796.7 2175.9L797.2 1788.6L797.7 2192.2L798.2 1698.0L798.7 2232.0L799.2 1904.2L799.7 2209.4L800.2 1818.6L800.7 2163.4L801.2 1747.7L801.7 2161.8L802.2 1786.8L802.7 2192.7L803.2 1800.0L803.7 2188.5L804.2 1834.7L804.7 2161.8L805.2 1855.6L805.7 2152.3L806.2 1893.0L806.7 2158.7L807.2 1845.1L807.7 2158.1L808.2 1796.2L808.7 2144.1L809.2 1831.7L809.7 2166.5L810.2 1834.0L810.7 2174.4L811.2 1856.1L811.7 2156.3L812.2 1830.9L812.7 2144.0L813.2 1746.0L813.7 2152.6L814.2 1873.9L814.7 2193.4L815.2 1888.1L815.7 2160.4L816.2 1892.9L816.7 2188.6L817.2 1870.4L817.7 2138.0L818.2 1912.2L818.7 2155.4L819.2 1859.3L819.7 2161.3L820.2 1908.1L820.7 2220.0L821.2 1892.0L821.7 2147.5L822.2 1911.6L822.7 2159.7L823.2 1787.8L823.7 2154.4L824.2 1885.2L824.7 2177.0L825.2 1908.9L825.7 2157.8L826.2 1893.9L826.7 2142.1L827.2 1834.4L827.7 2150.1L828.2 1868.5L828.7 2189.6L829.2 1837.4L829.7 2175.5L830.2 1762.0L830.7 2166.5L831.2 1892.4L831.7 2202.9L832.2 1858.4L832.7 2150.7L833.2 1871.1L833.7 2139.9L834.2 1874.8L834.7 2146.2L835.2 1775.9L835.7 2188.6L836.2 1850.7L836.7 2145.8L837.2 1878.4L837.7 2144.9L838.2 1899.0L838.7 2134.9L839.2 1873.8L839.7 2159.2L840.2 1762.0L840.7 2146.4L841.2 1855.3L841.7 2203.0L842.2 1899.7L842.7 2166.7L843.2 1892.9L843.7 2180.1L844.2 1876.2L844.7 2148.9L845.2 1875.3L845.7 2236.0L846.2 1744.0L846.7 2143.5L847.2 1883.6L847.7 2162.4L848.2 1893.4L848.7 2130.5L849.2 1879.2L849.7 2149.0L850.2 1884.2L850.7 2190.2L851.2 1848.4L851.7 2129.3L852.2 1874.0L852.7 2126.7L853.2 1898.4L853.7 2133.8L854.2 1789.7L854.7 2150.7L855.2 1892.3L855.7 2145.0L856.2 1764.8L856.8 2179.7L857.3 1886.5L857.8 2123.2L858.3 1904.4L858.8 2125.9L859.3 1842.4L859.8 2188.0L860.3 1868.0L860.8 2220.0L861.3 1876.5L861.8 2140.1L862.3 1832.9L862.8 2148.2L863.3 1901.6L863.8 2126.2L864.3 1842.6L864.8 2210.0L865.3 1846.9L865.8 2131.0L866.3 1863.4L866.8 2116.6L867.3 1831.3L867.8 2139.7L868.3 1852.5L868.8 2140.2L869.3 1886.1L869.8 2121.4L870.3 1831.8L870.8 2125.8L871.3 1811.0L871.8 2203.3L872.3 1863.6L872.8 2156.6L873.3 1762.0L873.8 2202.0L874.3 1822.5L874.8 2150.8L875.3 1841.3L875.8 2179.5L876.3 1877.8L876.8 2143.0L877.3 1891.1L877.8 2139.8L878.3 1866.6L878.8 2135.8L879.3 1821.6L879.8 2150.8L880.3 1843.7L880.8 2137.8L881.3 1834.1L881.8 2110.9L882.3 1848.9L882.8 2120.3L883.3 1842.4L883.8 2137.6L884.3 1855.9L884.8 2131.0L885.3 1750.0L885.8 2144.6L886.3 1827.5L886.8 2146.4L887.3 1856.3L887.8 2153.9L888.3 1845.9L888.8 2228.0L889.3 1847.8L889.8 2174.5L890.3 1847.2L890.8 2127.9L891.3 1845.7L891.8 2117.2L892.3 1611.2L892.8 2163.0L893.3 1812.1L893.8 2143.3L894.3 1843.5L894.8 2139.5L895.3 1786.1L895.8 2183.3L896.3 1847.9L896.8 2121.0L897.3 1872.5L897.8 2164.5L898.3 1864.0L898.8 2133.8L899.3 1738.0L899.8 2121.6L900.3 1808.3L900.8 2155.5L901.3 1802.0L901.8 2131.3L902.3 1840.7L902.8 2143.4L903.3 1818.5L903.8 2228.0L904.3 1777.3L904.8 2104.8L905.3 1845.0L905.8 2115.6L906.3 1663.2L906.8 2146.5L907.3 1769.5L907.8 2142.0L908.3 1823.3L908.8 2123.4L909.3 1837.5L909.8 2141.8L910.3 1730.0L910.8 2189.9L911.3 1847.0L911.8 2156.5L912.3 1796.7L912.8 2109.9L913.3 1815.5L913.8 2159.2L914.3 1853.4L914.8 2154.0L915.3 1790.1L915.8 2148.8L916.3 1758.0L916.8 2137.5L917.3 1795.8L917.8 2212.0L918.3 1781.2L918.8 2133.5L919.3 1753.2L919.8 2120.1L920.3 1841.3M973.7 2081.4L974.2 1620.8L974.7 2098.7L975.2 1857.6L975.7 2124.2L976.2 1738.0L976.7 2098.6L977.1 1781.5L977.6 2084.9L978.1 1859.0L978.6 2097.5L979.1 1877.6L979.6 2109.4L980.1 1871.3L980.6 2091.5L981.1 1861.8M997.7 2125.8L998.2 1867.3L998.7 2151.6L999.2 1855.8L999.7 2078.0L1000.2 1842.4L1000.7 2079.0L1001.2 1854.8L1001.7 2093.6L1002.2 1874.2L1002.7 2090.1L1003.2 1762.0L1003.7 2094.7L1004.2 1886.2L1004.7 2105.1L1005.2 1858.1L1005.7 2088.0L1006.2 1820.1L1006.7 2116.9L1007.2 1860.8L1007.7 2098.2L1008.2 1625.2L1008.7 2085.6L1009.2 1863.8L1009.7 2105.9L1010.2 1881.6L1010.7 2164.0L1011.2 1864.3L1011.7 2113.6L1012.2 1850.7L1012.7 2112.1L1013.2 1853.8L1013.7 2134.1L1014.2 1834.3L1014.7 2104.3L1015.2 1860.7L1015.7 2089.2L1016.2 1748.8L1016.7 2120.7L1017.2 1888.3L1017.7 2103.9L1018.2 1885.4L1018.7 2147.2L1019.2 1820.5L1019.7 2094.2L1020.2 1876.8L1020.7 2102.6L1021.2 1836.9L1021.7 2106.6L1022.2 1772.0L1022.7 2083.1L1023.2 1881.2L1023.7 2078.8L1024.2 1867.7L1024.7 2156.3L1025.2 1880.8L1025.7 2096.8L1026.2 1855.5L1026.7 2091.2L1027.2 1873.9L1027.7 2081.2L1028.2 1813.9L1028.7 2076.3L1029.2 1876.0L1029.7 2099.8L1030.2 1863.3L1030.7 2089.3L1031.2 1843.7L1031.7 2096.9L1032.2 1848.0L1032.7 2086.2L1033.2 1868.3L1033.7 2111.6L1034.2 1868.7L1034.7 2093.6L1035.2 1846.8L1035.7 2079.0L1036.2 1868.8L1036.7 2157.3L1037.2 1868.6L1037.7 2092.7L1038.2 1870.3L1038.7 2099.8L1039.2 1831.9L1039.7 2108.4L1040.2 1879.3L1040.7 2092.4L1041.2 1877.8L1041.7 2139.4L1042.2 1728.0L1042.7 2097.6L1043.2 1877.9L1043.7 2084.4L1044.2 1874.6L1044.7 2202.0L1045.2 1879.4L1045.7 2105.1L1046.2 1876.8L1046.7 2097.9L1047.2 1873.0L1047.7 2100.6L1048.2 1891.9L1048.7 2103.3L1049.2 1882.6L1049.7 2118.6L1050.2 1795.0L1050.7 2118.1L1051.2 1858.1L1051.7 2116.3L1052.2 1690.0L1052.7 2126.1L1053.2 1818.4L1053.7 2188.0L1054.2 1816.9L1054.7 2095.9L1055.2 1588.8L1055.7 2145.1L1056.2 1794.0L1056.7 2119.9L1057.2 1809.1L1057.7 2112.7L1058.2 1804.1L1058.7 2133.3L1059.2 1790.6L1059.8 2097.9L1060.3 1794.0L1060.8 2122.4L1061.3 1588.0L1061.8 2098.4L1062.3 1817.4L1062.8 2171.7L1063.3 1799.0L1063.8 2122.6L1064.3 1823.2L1064.8 2137.2L1065.3 1805.7L1065.8 2120.9L1066.3 1804.2L1066.8 2108.2L1067.3 1795.8L1067.8 2216.0L1068.3 1803.1L1068.8 2127.9L1069.3 1624.8L1069.8 2116.7L1070.3 1833.0L1070.8 2116.3L1071.3 1803.7L1071.8 2132.5L1072.3 1825.4L1072.8 2201.5L1073.3 1790.9L1073.8 2148.2L1074.3 1833.0L1074.8 2101.9L1075.3 1773.8L1075.8 2125.3L1076.3 1750.0L1076.8 2137.3L1077.3 1809.5L1077.8 2125.4L1078.3 1784.9L1078.8 2126.5L1079.3 1763.4L1079.8 2119.2L1080.3 1768.1L1080.8 2220.0L1081.3 1821.6L1081.8 2118.2L1082.3 1819.8L1082.8 2095.3L1083.3 1763.8L1083.8 2109.9L1084.3 1706.0L1084.8 2101.7L1085.3 1735.8L1085.8 2104.3L1086.3 1822.3L1086.8 2102.5L1087.3 1748.9L1087.8 2105.9L1088.3 1785.4L1088.8 2116.9L1089.3 1791.9L1089.8 2124.4L1090.3 1788.7L1090.8 2108.8L1091.3 1563.2L1091.8 2135.2L1092.3 1781.8L1092.8 2120.8L1093.3 1801.1L1093.8 2107.9L1094.3 1741.5L1094.8 2133.5L1095.3 1781.7L1095.8 2141.0L1096.3 1804.7L1096.8 2124.2L1097.3 1696.0L1097.8 2129.0L1098.3 1688.6L1098.8 2101.8L1099.3 1812.7L1099.8 2121.0L1100.3 1819.2L1100.8 2146.3L1101.3 1810.3L1101.8 2156.2L1102.3 1761.8L1102.8 2096.1L1103.3 1796.7L1103.8 2143.7L1104.3 1728.4L1104.8 2100.4L1105.3 1785.9L1105.8 2139.8L1106.3 1792.2L1106.8 2173.7L1107.3 1797.2L1107.8 2120.6L1108.3 1676.8L1108.8 2128.6L1109.3 1794.7L1109.8 2119.1L1110.3 1784.6L1110.8 2140.5L1111.3 1818.5L1111.8 2146.7L1112.3 1767.7L1112.8 2166.3L1113.3 1824.1L1113.8 2130.2L1114.3 1803.9L1114.8 2104.0L1115.3 1799.0L1115.8 2141.5L1116.3 1718.0L1116.8 2139.7L1117.3 1809.9L1117.8 2135.8L1118.3 1698.8L1118.8 2116.6L1119.3 1800.4L1119.8 2131.7L1120.3 1819.8L1120.8 2137.8L1121.3 1598.8L1121.8 2128.7L1122.3 1831.3M1139.7 2109.0L1140.2 1454.0L1140.7 2090.5L1141.2 1713.3L1141.7 2098.5L1142.2 1782.0L1142.7 2096.6L1143.2 1713.5L1143.7 2112.9L1144.2 1688.7L1144.7 2075.9L1145.2 1594.8L1145.7 2129.6L1146.2 1796.9L1146.7 2104.4L1147.2 1750.1L1147.7 2115.3L1148.2 1784.8L1148.7 2116.3L1149.2 1692.3L1149.7 2124.2L1150.2 1737.2L1150.7 2118.7L1151.2 1777.4L1151.7 2114.5L1152.2 1780.5L1152.7 2121.8L1153.2 1442.0L1153.7 2114.9L1154.2 1805.6L1154.7 2092.5L1155.2 1734.8L1155.7 2100.8L1156.2 1776.0L1156.7 2107.7L1157.2 1800.6L1157.7 2099.3L1158.2 1805.8L1158.7 2150.7L1159.2 1806.5L1159.7 2135.6L1160.2 1724.8L1160.7 2075.0L1161.2 1771.3L1161.7 2137.2L1162.2 1698.0L1162.7 2075.6L1163.2 1802.1L1163.7 2093.9L1164.2 1763.1L1164.7 2106.8L1165.2 1791.8L1165.7 2117.7L1166.2 1794.7L1166.7 2098.6L1167.2 1724.7L1167.7 2114.6L1168.2 1745.9L1168.7 2121.5L1169.2 1775.0L1169.7 2099.6L1170.2 1780.8L1170.7 2109.4L1171.2 1778.5L1171.7 2085.8L1172.2 1702.0L1172.7 2102.2L1173.2 1793.1L1173.7 2156.7L1174.2 1766.4L1174.7 2094.6L1175.2 1792.1L1175.7 2073.8L1176.2 1786.8L1176.7 2122.1L1177.2 1817.9L1177.7 2182.0L1178.2 1676.0L1178.7 2119.8L1179.2 1787.9L1179.7 2101.8L1180.2 1819.9L1180.8 2124.0L1181.3 1791.1L1181.8 2077.9L1182.3 1808.4L1182.8 2076.7L1183.3 1829.3L1183.8 2125.0L1184.3 1822.4L1184.8 2108.6L1185.3 1829.3L1185.8 2204.0L1186.3 1797.1L1186.8 2183.2L1187.3 1724.3L1187.8 2086.3L1188.3 1794.5L1188.8 2102.6L1189.3 1666.0L1189.8 2175.6L1190.3 1783.4L1190.8 2164.3L1191.3 1811.3L1191.8 2155.4L1192.3 1789.4L1192.8 2095.8L1193.3 1812.1L1193.8 2118.1L1194.3 1799.1L1194.8 2091.8L1195.3 1813.1L1195.8 2136.2L1196.3 1706.0L1196.8 2090.7L1197.3 1824.8L1197.8 2115.7L1198.3 1834.8L1198.8 2087.0L1199.3 1843.5L1199.8 2162.8L1200.3 1817.1L1200.8 2079.6L1201.3 1840.8L1201.8 2128.6L1202.3 1628.0L1202.8 2123.6L1203.3 1818.0L1203.8 2095.1L1204.3 1829.6L1204.8 2119.7L1205.3 1817.9L1205.8 2091.0L1206.3 1812.2L1206.8 2117.0L1207.3 1832.1L1207.8 2089.4L1208.3 1792.5L1208.8 2106.5L1209.3 1822.0L1209.8 2128.4L1210.3 1786.0L1210.8 2138.3L1211.3 1833.9L1211.8 2174.0L1212.3 1828.8L1212.8 2091.6L1213.3 1829.9L1213.8 2098.2L1214.3 1850.0L1214.8 2118.4L1215.3 1858.1L1215.8 2163.4L1216.3 1785.2L1216.8 2089.6L1217.3 1806.0L1217.8 2122.9L1218.3 1838.8L1218.8 2162.0L1219.3 1815.8L1219.8 2169.6L1220.3 1853.0L1220.8 2094.0L1221.3 1850.4L1221.8 2095.6L1222.3 1802.0M1253.7 2114.9L1254.2 1805.0L1254.7 2115.6L1255.2 1820.3L1255.7 2220.0L1256.2 1802.2L1256.7 2134.2L1257.2 1735.0L1257.7 2139.8L1258.2 1804.2L1258.7 2128.8L1259.2 1628.8L1259.7 2138.8L1260.2 1779.7L1260.7 2135.7L1261.2 1748.7L1261.7 2131.8L1262.2 1778.6L1262.7 2126.8L1263.2 1788.8L1263.7 2202.0L1264.2 1756.8L1264.7 2109.5L1265.2 1723.8L1265.7 2138.6L1266.2 1798.1L1266.7 2116.0L1267.2 1696.8L1267.7 2102.2L1268.2 1755.3L1268.7 2129.5L1269.2 1785.9L1269.7 2150.4L1270.2 1776.5L1270.7 2136.2L1271.2 1790.6L1271.7 2119.1L1272.2 1775.7L1272.7 2136.8L1273.2 1598.8L1273.7 2188.0L1274.2 1752.8L1274.7 2101.1L1275.2 1749.2L1275.7 2146.5L1276.2 1791.9L1276.7 2100.3L1277.2 1753.2L1277.7 2098.3L1278.2 1765.6L1278.7 2133.2L1279.2 1662.9L1279.7 2118.9L1280.2 1704.8L1280.7 2135.7L1281.2 1742.0L1281.7 2164.6L1282.2 1490.8L1282.7 2135.1L1283.2 1722.0L1283.7 2093.1L1284.2 1749.5L1284.7 2105.7L1285.2 1747.4L1285.7 2095.6L1286.2 1656.9L1286.7 2112.3L1287.2 1709.4L1287.7 2104.5L1288.2 1766.7L1288.7 2129.0L1289.2 1769.4L1289.7 2086.5L1290.2 1762.6L1290.7 2162.9L1291.2 1734.2L1291.7 2124.8L1292.2 1695.0L1292.7 2119.2L1293.2 1664.5L1293.7 2098.5L1294.2 1600.8L1294.7 2132.7L1295.2 1741.1L1295.7 2090.6L1296.2 1628.7L1296.7 2110.7L1297.2 1729.0L1297.7 2135.0L1298.2 1600.1L1298.7 2136.7L1299.2 1703.2L1299.7 2131.2L1300.2 1705.8L1300.7 2108.3L1301.2 1724.9L1301.7 2103.2L1302.2 1642.8L1302.7 2132.9L1303.2 1640.8L1303.7 2124.4L1304.2 1606.0L1304.7 2100.2L1305.2 1720.0L1305.8 2136.4L1306.3 1709.4L1306.8 2145.8L1307.3 1657.4L1307.8 2092.9L1308.3 1652.1L1308.8 2124.4L1309.3 1516.0L1309.8 2128.7L1310.3 1716.7L1310.8 2131.3L1311.3 1639.5L1311.8 2145.3L1312.3 1648.4L1312.8 2107.3L1313.3 1633.2L1313.8 2129.8L1314.3 1660.4L1314.8 2105.6L1315.3 1470.0L1315.8 2093.9L1316.3 1648.9L1316.8 2100.0L1317.3 1706.5L1317.8 2136.5L1318.3 1763.4L1318.8 2091.5L1319.3 1750.6L1319.8 2178.0L1320.3 1757.2L1320.8 2133.2L1321.3 1752.1L1321.8 2134.3L1322.3 1743.4L1322.8 2097.8L1323.3 1730.0L1323.8 2138.2L1324.3 1736.0L1324.8 2105.1L1325.3 1741.0L1325.8 2113.9L1326.3 1797.1L1326.8 2122.4L1327.3 1793.0L1327.8 2112.2L1328.3 1762.9L1328.8 2121.3L1329.3 1666.8L1329.8 2154.6L1330.3 1791.0L1330.8 2135.8L1331.3 1790.8L1331.8 2089.4L1332.3 1805.9L1332.8 2106.2L1333.3 1801.1L1333.8 2118.2L1334.3 1762.0L1334.8 2127.2L1335.3 1811.7L1335.8 2180.0L1336.3 1723.8L1336.8 2109.0L1337.3 1777.6L1337.8 2119.1L1338.3 1790.2L1338.8 2142.8L1339.3 1830.8L1339.8 2119.2L1340.3 1801.7L1340.8 2121.2L1341.3 1788.2L1341.8 2194.8L1342.3 1801.1L1342.8 2118.8L1343.3 1823.1L1343.8 2125.5L1344.3 1802.5L1344.8 2095.8L1345.3 1848.3L1345.8 2165.5L1346.3 1839.5L1346.8 2100.0L1347.3 1837.1L1347.8 2097.3L1348.3 1656.0L1348.8 2216.0L1349.3 1823.6L1349.8 2098.1L1350.3 1793.7L1350.8 2119.9L1351.3 1864.1L1351.8 2183.7L1352.3 1822.0L1352.8 2125.9L1353.3 1851.8L1353.8 2108.9L1354.3 1806.2L1354.8 2148.5L1355.3 1873.3L1355.8 2127.1L1356.3 1861.9L1356.8 2102.3L1357.3 1881.8L1357.8 2118.5L1358.3 1863.2M1387.7 2108.3L1388.2 1931.2L1388.8 2121.5L1389.3 1808.0L1389.8 2102.7L1390.3 1928.4M1403.7 2149.0L1404.2 1869.8L1404.7 2152.5L1405.2 1872.3L1405.7 2177.6L1406.2 1734.8L1406.7 2142.5L1407.2 1871.9L1407.7 2179.3L1408.2 1874.1L1408.6 2159.1L1409.1 1877.3L1409.6 2159.0L1410.1 1822.0L1410.6 2176.9L1411.1 1887.4L1411.6 2163.9L1412.1 1871.5L1412.6 2156.2L1413.1 1877.5M1470.7 2074.3L1471.2 1432.0L1471.7 2092.1L1472.2 1382.8L1472.7 2092.7L1473.2 1785.0L1473.7 2051.0L1474.2 1757.6L1474.7 2216.0L1475.2 1817.7L1475.7 2088.4L1476.2 1787.8L1476.7 2077.5L1477.2 1780.6L1477.7 2079.9L1478.2 1803.5L1478.7 2089.2L1479.2 1783.2L1479.7 2177.7L1480.2 1816.7L1480.7 2202.0L1481.2 1796.2L1481.7 2083.4L1482.2 1800.5L1482.7 2059.8L1483.2 1576.0L1483.7 2054.0L1484.2 1786.4L1484.7 2177.8L1485.2 1766.3L1485.7 2072.0L1486.2 1784.1L1486.7 2065.9L1487.2 1792.8L1487.7 2177.1L1488.2 1774.2L1488.7 2090.2L1489.2 1723.7L1489.7 2088.8L1490.2 1726.9L1490.7 2083.9L1491.2 1812.1L1491.7 2098.7L1492.2 1786.4L1492.7 2073.2L1493.2 1757.7L1493.7 2079.6L1494.2 1708.5L1494.7 2192.9L1495.2 1803.5L1495.7 2099.8L1496.2 1646.0L1496.7 2100.1L1497.2 1789.8L1497.7 2116.6L1498.2 1821.1L1498.7 2128.8L1499.2 1840.6L1499.7 2125.5L1500.2 1820.0L1500.7 2186.0L1501.2 1843.6L1501.7 2113.3L1502.2 1817.8L1502.7 2128.4L1503.2 1830.2L1503.7 2144.2L1504.2 1743.4L1504.7 2168.7L1505.2 1778.4L1505.7 2178.9L1506.2 1830.1L1506.7 2150.5L1507.2 1593.2L1507.7 2126.3L1508.2 1848.8L1508.7 2192.5L1509.2 1840.9L1509.7 2161.0L1510.2 1857.7L1510.7 2202.0L1511.2 1842.8L1511.7 2156.4L1512.2 1831.4L1512.7 2137.1L1513.2 1746.0L1513.7 2168.6L1514.2 1836.9L1514.7 2137.5L1515.2 1819.3L1515.7 2191.5L1516.2 1845.9L1516.7 2128.8L1517.2 1856.8L1517.7 2167.0L1518.2 1866.1L1518.7 2134.1L1519.2 1754.7L1519.7 2167.5L1520.2 1838.2L1520.7 2158.5L1521.2 1864.7L1521.7 2157.3L1522.2 1856.7L1522.7 2156.7L1523.2 1876.3L1523.7 2195.4L1524.2 1878.9L1524.7 2165.4L1525.2 1722.0L1525.7 2198.1L1526.2 1830.7L1526.7 2177.3L1527.2 1842.8L1527.7 2176.0L1528.2 1844.2L1528.7 2170.7L1529.2 1865.7L1529.7 2141.8L1530.2 1880.7L1530.7 2127.9L1531.2 1844.4L1531.7 2177.4L1532.2 1834.4L1532.7 2145.1L1533.2 1666.0L1533.7 2126.7L1534.2 1844.3L1534.7 2171.3L1535.2 1838.0L1535.7 2166.1L1536.2 1880.3L1536.7 2127.3L1537.2 1857.5L1537.7 2144.6L1538.2 1802.1L1538.7 2172.1L1539.1 1873.9L1539.6 2156.8L1540.1 1858.2L1540.6 2158.0L1541.1 1869.8L1541.6 2164.7L1542.1 1857.4L1542.6 2242.0L1543.1 1754.0L1543.6 2178.4L1544.1 1875.1L1544.6 2163.8L1545.1 1843.9L1545.6 2162.6L1546.1 1809.7L1546.6 2207.0L1547.1 1829.6L1547.6 2153.0L1548.1 1851.5L1548.6 2151.5L1549.1 1850.5L1549.6 2142.3L1550.1 1796.4L1550.6 2157.5L1551.1 1865.0L1551.6 2130.6L1552.1 1852.2L1552.6 2137.7L1553.1 1860.1L1553.6 2152.5L1554.1 1871.0L1554.6 2125.0L1555.1 1662.0L1555.6 2165.3L1556.1 1851.5L1556.6 2164.9L1557.1 1856.2L1557.6 2155.4L1558.1 1806.3L1558.6 2156.5L1559.1 1768.0L1559.6 2128.6L1560.1 1798.7L1560.6 2214.0L1561.1 1784.0L1561.6 2170.9L1562.1 1862.6L1562.6 2152.3L1563.1 1804.3L1563.6 2159.6L1564.1 1848.1L1564.6 2136.9L1565.1 1826.3L1565.6 2161.8L1566.1 1781.7L1566.6 2151.5L1567.1 1827.1L1567.6 2185.4L1568.1 1801.9L1568.6 2156.3L1569.1 1680.0L1569.6 2125.2L1570.1 1830.0L1570.6 2175.8L1571.1 1854.6L1571.6 2150.5L1572.1 1847.2L1572.6 2199.5L1573.1 1852.9L1573.6 2151.3L1574.1 1756.5L1574.6 2206.0L1575.1 1848.9L1575.6 2159.3L1576.1 1856.7L1576.6 2134.1L1577.1 1678.8L1577.6 2173.9L1578.1 1833.8L1578.6 2177.5L1579.1 1790.0L1579.6 2131.4L1580.1 1858.7L1580.6 2165.9L1581.1 1804.7L1581.6 2174.5L1582.1 1829.8L1582.6 2167.4L1583.1 1772.9L1583.6 2154.7L1584.1 1794.5L1584.6 2177.2L1585.1 1765.5L1585.6 2131.0L1586.1 1461.2L1586.6 2167.1L1587.1 1763.2L1587.6 2143.1L1588.1 1842.9L1588.6 2202.0L1589.1 1562.0L1589.6 2125.3L1590.1 1837.9L1590.6 2133.9L1591.1 1886.4L1591.6 2154.0L1592.1 1854.7L1592.6 2146.4L1593.1 1822.0L1593.6 2200.9L1594.1 1887.1L1594.6 2123.1L1595.1 1893.6L1595.6 2128.9L1596.1 1901.3L1596.6 2127.8L1597.1 1915.9L1597.6 2140.4L1598.1 1907.9L1598.6 2161.2L1599.1 1890.8L1599.6 2206.9L1600.1 1924.9L1600.6 2129.6L1601.1 1880.1L1601.6 2137.8L1602.1 1931.4L1602.6 2213.2L1603.1 1945.7L1603.6 2140.0L1604.1 1949.3L1604.6 2167.1L1605.1 1958.4L1605.6 2135.3L1606.1 1948.4L1606.6 2126.9L1607.1 1736.0L1607.6 2139.5L1608.1 1937.1" fill="none" stroke="#558b2f" stroke-width="3.3" stroke-linejoin="round" stroke-linecap="round"/><path d="M205.7 2134.8L206.3 2063.2L206.9 2125.7L207.5 2050.3L208.1 2128.3L208.7 2044.8L209.3 2136.6L209.9 2053.3L210.5 2137.2L211.1 2066.5L211.7 2112.3L212.3 2055.1L212.9 2128.8L213.5 2053.7L214.1 2115.3L214.7 2040.2L215.3 2104.7L215.9 2054.5L216.5 2206.0L217.1 2042.0L217.7 2128.6L218.3 2034.8L218.9 2116.6L219.5 2045.6L220.1 2117.3L220.7 2049.2L221.3 2096.1L221.9 2062.3L222.5 2135.9L223.1 2063.2L223.7 2101.4L224.3 2060.6L224.9 2094.9L225.5 2035.4L226.1 2105.4L226.7 2055.8L227.3 2120.0L227.9 2039.3L228.5 2106.9L229.1 2016.0L229.7 2106.3L230.3 2048.2L230.9 2098.9L231.5 2020.6L232.1 2111.1L232.7 2052.6L233.3 2126.2L233.9 2056.5L234.5 2125.0L235.1 2057.2L235.7 2102.7L236.3 2050.2L236.9 2102.3L237.5 2060.0L238.1 2126.8L238.7 2036.7L239.3 2113.3L239.9 2056.8L240.5 2124.7L241.1 2011.5L241.7 2134.4L242.3 2022.5L242.9 2147.5L243.5 2042.4L244.1 2120.4L244.7 2041.9L245.3 2120.4L245.9 2055.0L246.5 2124.5L247.1 2038.8L247.7 2128.1L248.3 2053.3L248.9 2117.1L249.5 2007.5L250.1 2111.7L250.7 2046.7L251.3 2135.8L251.9 2041.0L252.5 2154.6L253.1 2065.0L253.7 2115.8L254.3 2030.0L254.9 2110.4L255.5 1968.0L256.1 2159.9L256.7 2029.0L257.3 2155.4L257.9 2050.3L258.5 2114.9L259.1 2048.6L259.7 2121.6L260.3 2040.0L260.9 2142.9L261.5 2053.1L262.1 2128.4L262.7 2044.9L263.3 2118.4L263.9 2052.2L264.5 2139.5L265.1 2061.7L265.7 2112.4L266.3 2064.4L266.9 2138.8L267.5 2074.0L268.1 2144.1L268.7 2039.0L269.3 2140.8L269.9 1993.3L270.5 2139.3L271.1 2017.7L271.7 2134.6L272.3 2044.3L272.9 2127.1L273.5 2059.1L274.1 2144.8L274.7 2064.9L275.3 2121.8L275.9 1994.7L276.5 2115.3L277.1 2039.1L277.7 2143.9L278.3 2047.4L278.9 2122.8L279.5 2050.3L280.1 2121.9L280.7 2056.8L281.3 2112.9L281.9 2051.7L282.5 2135.3L283.1 2057.3L283.7 2120.4L284.3 2048.8L284.9 2120.0L285.5 2034.5L286.1 2130.8L286.7 2031.6L287.3 2133.9L287.9 2042.3L288.5 2107.2L289.1 2034.0L289.7 2152.1L290.3 2028.4L290.9 2129.6L291.5 1999.3L292.1 2102.1L292.7 2039.9L293.3 2088.5L293.9 2038.4L294.5 2117.6L295.1 2024.3L295.7 2113.2L296.3 2039.5L296.9 2128.1L297.5 2054.2L298.1 2101.5L298.7 2029.4L299.3 2097.7L299.9 2009.4L300.5 2133.4L301.1 2038.2L301.7 2097.4L302.3 2022.4L302.9 2097.0L303.5 2018.6L304.1 2136.3L304.7 2040.6L305.3 2109.5L305.9 2018.7L306.5 2102.8L307.1 2007.9L307.7 2104.2L308.3 1962.6L308.9 2106.8L309.5 2010.2L310.1 2095.8L310.7 1997.7L311.3 2088.5L311.9 2022.9L312.5 2136.8L313.1 2043.2L313.7 2103.0L314.3 1991.0L314.9 2109.7L315.5 2036.4L316.1 2102.5L316.7 2016.6L317.3 2120.2L317.9 1998.3L318.5 2091.8L319.1 1981.1L319.7 2113.1L320.3 2015.1L320.9 2109.3L321.5 2046.0L322.1 2111.7L322.7 2026.3L323.3 2116.1L323.9 2035.8L324.5 2107.8L325.1 2026.3L325.7 2117.6L326.3 2055.1L326.9 2142.4L327.5 2046.5L328.1 2132.3L328.7 2062.5L329.3 2120.4L329.9 2034.5L330.5 2115.9L331.1 2042.1L331.7 2115.8L332.3 2024.5L332.9 2119.8L333.5 2070.2L334.1 2141.5L334.7 2040.2L335.3 2134.8L335.9 2029.8L336.5 2131.6L337.1 2002.7L337.7 2135.2L338.3 2036.3L338.9 2145.8L339.5 2009.7L340.1 2109.5L340.7 1898.8L341.3 2118.9L341.9 2009.8L342.5 2115.2L343.1 2041.6L343.7 2120.3L344.3 2047.8L344.9 2120.7L345.5 2060.7L346.1 2120.8L346.7 2041.6L347.3 2130.3L347.9 2065.2L348.5 2106.3L349.1 2050.1L349.7 2114.4L350.3 1999.3L350.9 2131.2L351.5 2043.7L352.1 2142.5L352.7 2059.7L353.3 2116.3L353.9 1979.1L354.5 2123.3L355.1 2007.4L355.7 2114.3L356.3 2053.1L356.9 2106.8L357.5 1994.9L358.1 2102.0L358.7 2017.6L359.3 2141.2L359.9 2047.2L360.5 2092.4L361.1 1998.8L361.7 2128.4L362.3 2027.7L362.9 2143.9L363.5 2054.9L364.1 2154.0L364.7 2062.8L365.3 2120.6L365.9 2053.4L366.5 2126.0L367.1 2024.9L367.7 2136.6L368.3 2046.2L368.9 2129.3L369.5 2044.6L370.1 2114.5L370.7 2008.2L371.3 2128.1L371.9 2055.5L372.5 2178.0L373.1 2040.5L373.7 2124.1L374.3 2049.3L374.9 2134.9L375.5 2043.1L376.1 2149.8L376.7 2045.0L377.3 2108.7L377.9 2020.1L378.5 2110.7L379.1 2013.9L379.7 2140.3L380.3 2025.5L380.9 2120.4L381.5 2040.8L382.1 2103.8L382.7 1984.7L383.3 2135.6L383.9 2019.1L384.5 2105.8L385.1 2021.2L385.7 2105.7L386.3 2046.8L386.9 2090.9L387.5 2026.9L388.1 2120.9L388.7 2042.9L389.3 2102.0L389.9 2021.9L390.5 2106.1L391.1 2045.7L391.7 2116.7L392.3 1997.8L392.9 2098.0L393.5 2008.0L394.1 2084.0L394.7 2033.7L395.3 2089.8L395.9 2037.8L396.5 2079.5L397.1 2027.4L397.7 2086.9L398.3 2041.8L398.9 2092.4L399.5 2010.0L400.1 2101.1L400.7 2002.6L401.3 2102.5L401.9 2025.8L402.5 2108.9L403.1 1998.7L403.7 2112.4L404.3 2018.4L404.9 2120.4L405.5 1983.6L406.1 2120.2L406.7 2029.8L407.3 2127.9L407.9 2059.1L408.5 2113.0L409.1 2005.9L409.7 2101.5L410.3 2047.6L410.9 2101.6L411.5 2036.9L412.1 2117.9L412.8 2039.8L413.4 2096.2L414.0 2032.8L414.6 2135.5L415.2 2011.5L415.8 2104.2L416.4 2040.7L417.0 2102.8L417.6 2030.5L418.2 2106.1L418.8 2042.7L419.4 2108.2L420.0 2040.3L420.6 2104.7L421.2 2033.7L421.8 2116.6L422.4 2045.7L423.0 2103.2L423.6 2008.1L424.2 2126.7L424.8 2044.6L425.4 2121.6L426.0 2055.3L426.6 2100.4L427.2 2040.5L427.8 2123.2L428.4 2021.8L429.0 2103.1L429.6 2051.3L430.2 2100.9L430.8 2002.2L431.4 2126.4L432.0 2030.7L432.6 2136.0L433.2 1990.7L433.8 2094.0L434.4 2026.6L435.0 2105.0L435.6 2005.7L436.2 2106.5L436.8 2032.9L437.4 2107.4L438.0 2017.4L438.6 2094.8L439.2 2026.4L439.8 2097.2L440.4 2016.8L441.0 2100.4L441.6 2036.7L442.2 2104.3L442.8 1986.0L443.4 2109.1L444.0 1998.6L444.6 2099.2L445.2 2006.5L445.8 2104.9L446.4 2043.4L447.0 2128.0L447.6 2030.9L448.2 2112.4L448.8 2026.3L449.4 2100.8L450.0 1987.1L450.6 2100.1L451.2 2011.2L451.8 2117.6L452.4 1983.2L453.0 2095.9L453.6 2014.1L454.2 2091.7L454.8 2025.1L455.4 2087.6L456.0 2031.4L456.6 2113.9L457.2 1995.6L457.8 2090.7L458.4 2006.7L459.0 2118.4L459.6 2023.3L460.2 2105.0L460.8 2021.7L461.4 2102.6L462.0 2022.9L462.6 2103.6L463.2 2041.9L463.8 2116.9L464.4 2011.1L465.0 2123.4L465.6 2015.4L466.2 2118.4L466.8 2057.9L467.4 2117.8L468.0 2015.5L468.6 2114.6L469.2 2024.4L469.8 2108.7L470.4 2044.8L471.0 2166.0L471.6 2009.1L472.2 2107.7L472.8 2013.2L473.4 2108.5L474.0 2050.4L474.6 2108.4L475.2 2053.8L475.8 2111.2L476.4 2042.9L477.0 2100.1L477.6 2056.0L478.2 2124.1L478.8 2049.0L479.4 2122.6L480.0 2041.1L480.6 2106.6L481.2 2026.9L481.8 2137.0L482.4 2037.4L483.0 2120.2L483.6 2044.9L484.2 2138.0L484.8 1994.0L485.4 2133.6L486.0 1966.3L486.6 2090.9L487.2 2035.0L487.8 2125.6L488.4 2022.1L489.0 2123.9L489.6 2026.3L490.2 2110.1L490.8 2014.6L491.4 2106.2L492.0 2022.8L492.6 2117.9L493.2 2015.0L493.8 2122.2L494.4 2028.8L495.0 2128.1L495.6 2048.8L496.2 2117.7L496.8 2034.7L497.4 2111.5L498.0 2022.1L498.6 2118.5L499.2 2043.2L499.8 2109.5L500.4 2048.8L501.0 2120.8L501.6 1997.3L502.2 2124.8L502.8 2030.6L503.4 2113.7L504.0 2014.3L504.6 2122.1L505.2 2030.6L505.8 2107.1L506.4 2047.9L507.0 2106.7L507.6 2011.2L508.2 2113.0L508.8 2041.5L509.4 2100.4L510.0 2026.8L510.6 2106.4L511.2 1983.3L511.8 2090.5L512.4 2036.0L513.0 2088.8L513.6 1999.3L514.2 2125.3L514.8 2036.2L515.4 2096.2L516.0 2045.4L516.6 2118.0L517.2 2020.9L517.8 2105.8L518.4 2002.6L519.0 2099.1L519.6 2029.6L520.2 2106.8L520.8 2036.2L521.4 2088.7L522.0 2033.2L522.6 2114.1L523.2 2030.6L523.8 2118.1L524.4 2053.1L525.0 2090.6L525.6 2048.6L526.2 2103.8L526.8 2040.7L527.4 2128.1L528.0 2055.0L528.6 2116.4L529.2 2035.4L529.8 2107.6L530.4 2037.9L531.0 2113.5L531.6 2035.9L532.2 2103.4L532.8 2049.2L533.4 2128.9L534.0 2039.8L534.6 2113.8L535.2 2040.1L535.8 2101.4L536.4 2026.5L537.0 2112.2L537.6 2033.3L538.2 2117.6L538.8 2048.1L539.4 2103.7L540.0 2055.1L540.6 2112.9L541.2 2040.7L541.8 2114.2L542.4 2033.6L543.0 2095.5L543.6 2012.8L544.2 2115.1L544.8 2032.2L545.4 2113.1L546.0 2033.4L546.6 2127.8L547.2 2003.9L547.8 2121.7L548.4 2038.5L549.0 2103.6L549.6 2058.9L550.2 2119.8L550.8 2031.4L551.4 2102.8L552.0 2037.1L552.6 2117.7L553.2 2005.6L553.8 2102.5L554.4 2022.4L555.0 2124.4L555.6 2051.9L556.2 2129.8L556.8 2041.2L557.4 2111.8L558.0 2047.2L558.6 2129.0L559.2 2040.4L559.8 2103.8L560.4 2045.4L561.0 2104.3L561.6 2041.4L562.2 2094.0L562.8 2017.2L563.4 2106.5L564.0 2055.3L564.6 2136.4L565.2 2046.1L565.8 2099.3L566.4 2066.6L567.0 2106.3L567.6 2056.8L568.2 2114.6L568.8 2063.8L569.4 2115.5L570.0 2018.5L570.6 2111.1L571.2 2066.0L571.8 2122.7L572.4 2052.4L573.0 2113.2L573.6 2067.1L574.2 2107.0L574.8 2032.1L575.4 2125.2L576.0 2059.8L576.6 2108.6L577.2 2043.1L577.8 2105.8L578.4 2004.6L579.0 2109.3L579.6 2050.1L580.2 2099.1L580.8 2044.5L581.4 2110.2L582.0 2058.2L582.6 2103.5L583.2 2041.7L583.8 2101.9L584.4 2052.8L585.0 2102.6L585.6 2038.0L586.2 2104.7L586.8 2050.7L587.4 2124.4L588.0 2016.1L588.6 2115.1L589.2 2044.1L589.8 2135.0L590.4 2060.4L591.0 2107.5L591.6 2012.4L592.2 2128.5L592.8 2021.9L593.4 2120.2L594.0 2072.5L594.6 2119.8L595.2 2044.8L595.8 2129.3L596.4 2057.4L597.0 2121.9L597.6 2041.0L598.2 2111.7L598.8 2067.5L599.4 2116.2L600.0 2055.6L600.6 2122.6L601.2 2070.4L601.8 2128.1L602.4 2056.5L603.0 2116.8L603.6 2066.4L604.2 2124.1L604.8 2061.9L605.4 2109.8L606.0 2068.6L606.6 2125.4L607.2 2073.1L607.8 2128.3L608.4 2075.6L609.0 2107.5L609.6 2061.0L610.2 2124.5L610.8 2063.7L611.4 2124.4L612.0 2066.8L612.6 2119.4L613.2 2058.9L613.8 2108.5L614.4 2048.3L615.0 2123.5L615.6 2058.3L616.2 2129.1L616.8 2064.2L617.4 2137.0L618.0 2071.9L618.6 2120.7L619.2 2076.3L619.8 2120.4L620.4 2064.8M650.5 2103.8L651.1 2007.0L651.7 2066.2L652.3 2005.9L652.9 2077.7L653.5 2005.4L654.1 2103.1L654.7 2029.2L655.3 2072.5L655.9 2001.2L656.5 2140.6L657.1 2019.4L657.7 2109.0L658.3 1996.2L658.9 2102.0L659.5 2016.4L660.1 2084.8L660.7 2010.5L661.3 2066.7L661.9 1992.4L662.5 2076.2L663.1 1961.3L663.7 2088.5L664.3 1996.3L664.9 2090.5L665.5 2026.9L666.1 2105.9L666.7 1993.8L667.3 2097.7L667.9 2015.5L668.5 2100.8L669.1 1994.1L669.7 2114.0L670.3 1946.5L670.9 2110.0L671.5 2011.2L672.1 2114.8L672.7 2004.8L673.3 2092.0L673.9 2012.3L674.5 2123.4L675.1 2010.2L675.7 2107.7L676.3 2046.4L676.9 2109.2L677.5 1942.2L678.1 2116.8L678.7 1981.2L679.3 2084.8L679.9 1993.4L680.5 2091.7L681.1 2003.6L681.6 2088.2L682.2 2003.6L682.8 2083.7L683.4 2026.0L684.0 2113.1L684.6 2024.8L685.2 2081.2L685.8 1986.4L686.4 2077.8L687.0 1916.0L687.6 2089.2L688.2 1997.8L688.8 2096.6L689.4 1959.4L690.0 2087.6L690.6 1976.6L691.2 2071.2L691.8 1999.0L692.4 2104.7L693.0 2010.6L693.6 2103.9L694.2 1972.2L694.8 2103.9L695.4 2028.6L696.0 2103.7L696.6 2017.3L697.2 2093.8L697.8 1971.4L698.4 2107.3L699.0 2036.6L699.6 2114.3L700.2 2032.3L700.8 2096.8L701.4 2026.8L702.0 2099.2L702.6 2032.1L703.2 2096.6L703.8 2036.3L704.4 2115.4L705.0 2045.4L705.6 2096.5L706.2 2050.0L706.8 2113.7L707.4 2043.9L708.0 2109.2L708.6 2058.3L709.2 2125.4L709.8 2061.4L710.4 2094.7L711.0 2028.0L711.6 2130.1L712.2 2045.3L712.8 2102.6L713.4 2036.0L714.0 2090.3L714.6 2026.0L715.2 2100.8L715.8 2056.7L716.4 2106.3L717.0 2045.3L717.6 2084.2L718.2 2034.5L718.8 2096.9L719.4 2041.0L720.0 2130.1L720.6 2042.9L721.2 2110.9L721.8 2038.0L722.4 2094.5L723.0 2044.1L723.6 2097.7L724.2 2021.4L724.8 2105.8L725.4 2007.8L726.0 2098.6L726.6 2024.4L727.2 2116.8L727.8 1994.8L728.4 2101.5L729.0 2047.3L729.6 2126.8L730.2 2050.0L730.8 2112.8L731.4 2059.6L732.0 2162.0L732.6 2051.2L733.2 2103.6L733.8 2056.0L734.4 2103.4L735.0 2061.7L735.6 2102.1L736.2 2046.9L736.8 2097.8L737.4 2033.9L738.0 2111.4L738.6 2023.5L739.2 2108.3L739.8 2018.9L740.4 2103.5L741.0 2032.5L741.6 2107.8L742.2 2019.6L742.8 2108.7L743.3 2012.7L743.9 2122.9L744.5 2030.4L745.1 2078.8L745.7 2030.1L746.3 2088.0L746.9 2031.5L747.5 2079.5L748.1 2032.7L748.7 2103.3L749.3 2016.3L749.9 2097.5L750.5 2032.7L751.1 2123.7L751.7 2046.7L752.3 2097.2L752.9 2021.0L753.5 2093.1L754.1 2021.6L754.7 2131.8L755.3 2010.4L755.9 2112.8L756.5 2020.9L757.1 2097.0L757.7 2043.5L758.3 2103.5L758.9 2041.6L759.5 2095.5L760.1 2045.0L760.7 2099.1L761.3 2011.9L761.9 2099.5L762.5 2032.0L763.1 2099.6L763.7 2020.8L764.3 2107.5L764.9 2022.8L765.5 2094.3L766.1 1984.6L766.7 2109.4L767.3 2053.9L767.9 2101.8L768.5 2009.4L769.1 2086.0L769.7 2010.7L770.3 2094.4L770.9 2045.6L771.5 2086.2L772.1 2036.5L772.7 2085.4L773.3 2042.0L773.9 2097.2L774.5 2026.1L775.1 2087.0L775.7 2057.4L776.3 2095.3L776.9 2057.1L777.5 2100.0L778.1 2041.9L778.7 2102.5L779.3 2039.6L779.9 2087.5L780.5 2047.1L781.1 2092.2L781.7 2009.5L782.3 2097.2L782.9 2049.8L783.5 2092.7L784.1 2062.4L784.7 2110.7L785.3 1995.8L785.9 2113.7L786.5 2005.7L787.1 2106.2L787.7 1994.7L788.3 2108.2L788.9 1975.6L789.5 2104.1L790.1 2045.5L790.7 2106.3L791.3 2036.8L791.9 2113.1L792.5 2060.9L793.1 2121.0L793.7 2037.1L794.3 2105.9L794.9 2052.4L795.5 2107.3L796.1 2035.1L796.7 2105.9L797.3 2035.2L797.9 2088.1L798.5 2010.7L799.1 2109.2L799.7 1989.9L800.3 2117.7L800.9 2026.7L801.5 2110.1L802.1 2025.4L802.7 2080.7L803.3 2021.4L803.9 2081.4L804.4 2009.4L805.0 2090.7L805.6 2021.5L806.2 2082.8L806.8 2000.0L807.4 2086.0L808.0 2008.8L808.6 2102.4L809.2 2021.8L809.8 2104.0L810.4 2009.1L811.0 2083.1L811.6 2016.2L812.2 2102.9L812.8 1994.2L813.4 2084.1L814.0 2021.8L814.6 2094.3L815.2 1979.5L815.8 2100.4L816.4 1972.3L817.0 2113.8L817.6 2000.6L818.2 2106.1L818.8 1999.8L819.4 2079.6L820.0 2009.0L820.6 2113.7L821.2 1960.7L821.8 2075.0L822.4 1949.5L823.0 2080.3L823.6 1978.3L824.2 2082.9L824.8 1973.3L825.4 2107.1L826.0 2002.3L826.6 2081.6L827.2 1964.9L827.8 2108.8L828.4 1989.8L829.0 2098.3L829.6 1991.0L830.2 2105.6L830.8 2008.5L831.4 2089.2L832.0 1989.8L832.6 2084.6L833.2 1999.6L833.8 2070.4L834.4 1975.8L835.0 2109.5L835.6 1987.9M881.7 2088.9L882.3 2045.7L882.9 2104.4L883.5 2053.7L884.1 2096.0L884.7 2033.0L885.3 2118.7L885.9 2035.8L886.5 2132.9L887.1 2059.0L887.7 2098.5L888.3 2021.7L888.9 2126.6L889.5 2060.3L890.1 2108.0L890.7 2049.7L891.3 2109.2L891.9 2033.9L892.5 2111.6L893.1 2035.3L893.7 2093.9L894.3 2022.2L894.9 2118.3L895.5 2042.3L896.1 2111.7L896.7 2027.0L897.3 2099.2L897.9 2055.4L898.5 2104.3L899.1 2028.7L899.7 2094.8L900.3 2039.8L900.9 2105.7L901.5 2032.5L902.1 2115.9L902.7 2030.4L903.3 2097.6L903.9 2025.6L904.5 2118.9L905.1 1988.7L905.7 2099.3L906.3 2023.6L906.9 2094.6L907.5 2014.5L908.1 2088.4L908.7 2008.4L909.3 2080.9L909.9 2008.3L910.5 2112.2L911.1 2027.5L911.8 2082.3L912.4 2013.7L913.0 2092.2L913.6 2007.0L914.2 2087.0L914.8 1998.2L915.4 2068.5L916.0 2004.6L916.6 2098.7L917.2 1995.4L917.8 2100.3L918.4 2024.8L919.0 2078.2L919.6 2006.0L920.2 2072.0L920.8 1996.2L921.4 2087.0L922.0 1990.8L922.6 2110.0L923.2 2004.0L923.8 2075.8L924.4 1994.4L925.0 2096.9L925.6 2006.9L926.2 2093.2L926.8 2028.9L927.4 2105.5L928.0 2007.4L928.6 2107.1L929.2 2027.9L929.8 2110.8L930.4 2051.3L931.0 2127.8L931.6 2002.9L932.2 2099.5L932.8 2028.1L933.4 2091.4L934.0 2018.9L934.6 2106.9L935.2 2018.2L935.8 2087.6L936.4 2002.7L937.0 2081.6L937.6 2039.1L938.2 2106.9L938.8 2024.3L939.4 2078.0L940.0 2030.7L940.6 2081.8L941.2 2017.4L941.8 2082.5L942.4 2014.9M1053.7 2114.1L1054.3 2029.3L1054.9 2113.8L1055.5 1992.3L1056.1 2159.3L1056.7 1998.7L1057.3 2131.9L1057.9 1995.6L1058.5 2098.2L1059.1 2008.8L1059.7 2075.5L1060.3 2024.7L1060.9 2106.8L1061.5 1986.4L1062.1 2115.5L1062.7 1983.3L1063.3 2076.7L1063.9 1998.4L1064.5 2098.5L1065.1 2001.0L1065.7 2099.8L1066.2 1990.8L1066.8 2106.6L1067.4 1997.5L1068.0 2078.1L1068.6 1981.6L1069.2 2084.3L1069.8 2004.0L1070.4 2111.3L1071.0 2013.0L1071.6 2097.8L1072.2 1974.7L1072.8 2114.9L1073.4 2002.9L1074.0 2112.1L1074.6 2016.3L1075.2 2107.3L1075.8 1978.9L1076.4 2143.3L1077.0 2012.7L1077.6 2137.1L1078.2 2029.6L1078.8 2094.8L1079.4 2037.1L1080.0 2101.8L1080.6 2001.1L1081.2 2130.9L1081.8 1993.1L1082.4 2085.6L1083.0 1986.8L1083.6 2135.0L1084.2 1999.5L1084.8 2099.8L1085.4 2015.6L1086.0 2079.3L1086.6 2010.8L1087.2 2138.1L1087.8 2011.2L1088.4 2079.6L1089.0 2009.1L1089.6 2147.1L1090.2 2007.3L1090.8 2105.6L1091.3 2031.0L1091.9 2081.4L1092.5 2025.5L1093.1 2120.0L1093.7 2028.1L1094.3 2087.6L1094.9 2029.1L1095.5 2127.5L1096.1 2014.6L1096.7 2113.9L1097.3 2027.5L1097.9 2110.7L1098.5 2035.4L1099.1 2107.3L1099.7 2056.6L1100.3 2148.7L1100.9 2018.3L1101.5 2134.2L1102.1 2050.5L1102.7 2102.2L1103.3 2027.3L1103.9 2120.5L1104.5 1979.8L1105.1 2107.9L1105.7 2027.5L1106.3 2123.7L1106.9 2023.5L1107.5 2110.2L1108.1 1996.1L1108.7 2108.0L1109.3 2039.9L1109.9 2121.2L1110.5 2027.9L1111.1 2105.4L1111.7 1966.0L1112.3 2120.8L1112.9 2016.7L1113.5 2089.4L1114.1 1985.7L1114.7 2100.6L1115.3 2009.6L1115.8 2103.4L1116.4 2008.3L1117.0 2099.8L1117.6 2020.7L1118.2 2098.3L1118.8 2035.7L1119.4 2098.1L1120.0 2028.2L1120.6 2108.8L1121.2 2027.5L1121.8 2091.4L1122.4 2017.7L1123.0 2114.7L1123.6 2030.2L1124.2 2110.8L1124.8 2015.8L1125.4 2116.6L1126.0 2009.2L1126.6 2115.1L1127.2 2051.8L1127.8 2108.1L1128.4 2041.2M1139.7 2096.2L1140.3 2069.7L1140.9 2086.2L1141.5 2065.6L1142.1 2097.9L1142.7 2059.1L1143.3 2090.8L1143.9 2053.1L1144.5 2087.9L1145.1 2066.0L1145.7 2086.5L1146.3 2051.9L1146.9 2089.5L1147.5 2052.2L1148.1 2093.2L1148.7 2054.6L1149.3 2087.5L1149.9 2053.2L1150.5 2087.7L1151.1 2054.9L1151.7 2089.9L1152.3 2055.1L1152.9 2085.3L1153.5 2057.6L1154.1 2078.1L1154.7 2057.9L1155.3 2090.7L1155.9 2037.4L1156.5 2090.7L1157.1 2048.6L1157.7 2070.1L1158.3 2035.7L1158.9 2065.8L1159.5 1993.0L1160.1 2082.9L1160.7 2019.3L1161.3 2079.6L1161.9 1974.1L1162.4 2072.9L1163.0 1988.7L1163.6 2066.9L1164.2 1997.3L1164.8 2056.1L1165.4 1984.9L1166.0 2045.2L1166.6 1947.1L1167.2 2043.4L1167.8 1976.0L1168.4 2048.2L1169.0 1976.0L1169.6 2063.6L1170.2 1983.2L1170.8 2053.1L1171.4 1977.4L1172.0 2064.0L1172.6 1983.1L1173.2 2075.5L1173.8 1970.8L1174.4 2058.7L1175.0 1966.4L1175.6 2071.8L1176.2 1958.2L1176.8 2057.6L1177.4 1971.8L1178.0 2064.7L1178.6 2015.7L1179.2 2072.5L1179.8 2006.1L1180.4 2080.8L1181.0 1986.5L1181.6 2069.1L1182.2 2003.8L1182.8 2054.1L1183.4 1988.3L1184.0 2069.1L1184.6 1944.1L1185.2 2045.4L1185.8 1950.3L1186.4 2044.6L1187.0 1947.7L1187.6 2043.2L1188.2 1971.6L1188.8 2045.6L1189.4 1969.4L1190.0 2023.3L1190.6 1968.6L1191.2 2030.4L1191.8 1975.6L1192.4 2037.9L1193.0 1956.4L1193.6 2055.2L1194.2 1962.0L1194.8 2035.1L1195.4 1960.2L1196.0 2049.3L1196.6 1951.1L1197.2 2046.7L1197.8 1920.6L1198.4 2030.1L1199.0 1944.3L1199.6 2043.2L1200.2 1940.1L1200.8 2037.5L1201.4 1951.7L1202.0 2029.8L1202.6 1969.3L1203.2 2051.3L1203.8 1948.8L1204.4 2044.5L1205.0 1982.6L1205.6 2052.4L1206.2 1971.6L1206.8 2038.6L1207.3 1940.7L1207.9 2033.6L1208.5 1971.4L1209.1 2046.5L1209.7 1978.4L1210.3 2051.2L1210.9 1966.5L1211.5 2056.4L1212.1 1992.0L1212.7 2057.9L1213.3 2008.0L1213.9 2062.2L1214.5 2001.4L1215.1 2055.6L1215.7 1987.3L1216.3 2055.0L1216.9 2022.0L1217.5 2057.0L1218.1 2021.7L1218.7 2060.7L1219.3 2023.7L1219.9 2048.5L1220.5 2022.7L1221.1 2062.7L1221.7 2021.3L1222.3 2066.3L1222.9 1993.2L1223.5 2052.4L1224.1 2019.9L1224.7 2070.3L1225.3 2010.2L1225.9 2058.9L1226.5 2007.6L1227.1 2062.6L1227.7 2036.6L1228.3 2055.8L1228.9 2008.1L1229.5 2057.4L1230.1 2014.7L1230.7 2063.5L1231.3 2045.4L1231.9 2077.3L1232.5 2032.7L1233.1 2077.0L1233.7 2048.1L1234.3 2069.2L1234.9 2026.7L1235.5 2068.8L1236.1 2039.8L1236.7 2058.3L1237.3 2027.1L1237.9 2065.6L1238.5 2014.8L1239.1 2065.0L1239.7 2022.1L1240.3 2057.4L1240.9 2019.7L1241.5 2042.8L1242.1 2026.0L1242.7 2040.9L1243.3 2013.1L1243.9 2045.7L1244.5 1992.2L1245.1 2044.6L1245.7 1993.1L1246.3 2051.7L1246.9 2010.6L1247.5 2049.8L1248.1 1999.1L1248.7 2035.3L1249.3 1989.5L1249.9 2036.0L1250.5 2001.9L1251.1 2040.1L1251.6 2010.2L1252.2 2052.5L1252.8 2003.5L1253.4 2039.1L1254.0 2005.1L1254.6 2055.4L1255.2 1998.3L1255.8 2040.6L1256.4 1991.4L1257.0 2048.8L1257.6 1996.6L1258.2 2039.9L1258.8 1985.5L1259.4 2050.7L1260.0 2003.9L1260.6 2041.4L1261.2 2015.5L1261.8 2050.9L1262.4 2010.2L1263.0 2040.5L1263.6 2017.8L1264.2 2044.9L1264.8 2009.9L1265.4 2045.3L1266.0 1984.5L1266.6 2039.7L1267.2 2012.6L1267.8 2043.3L1268.4 1998.7L1269.0 2043.7L1269.6 2020.4L1270.2 2046.5L1270.8 1995.7L1271.4 2049.9L1272.0 2017.3L1272.6 2045.9L1273.2 2015.9L1273.8 2051.4L1274.4 2013.0" fill="none" stroke="#d80000" stroke-width="3.3" stroke-linejoin="round" stroke-linecap="round"/><path d="M235.7 2105.2L236.3 2056.0L237.0 2119.5L237.6 2047.8L238.3 2108.8L238.9 2058.1L239.6 2125.9L240.2 2068.6L240.9 2092.6L241.5 2057.6L242.2 2112.0L242.8 2065.8L243.5 2093.8L244.1 2054.8L244.8 2133.8L245.4 2053.1L246.1 2121.4L246.7 2067.2L247.4 2114.6L248.0 2075.2L248.7 2113.0L249.3 2080.6L250.0 2097.9L250.6 2058.5L251.3 2113.9L251.9 2075.6L252.6 2115.4L253.2 2071.4L253.9 2117.4L254.5 2038.7L255.2 2108.3L255.8 2037.2L256.5 2126.2L257.1 2076.8L257.8 2103.8L258.4 2056.4L259.1 2096.8L259.7 2065.1L260.4 2125.9L261.0 2070.3L261.7 2104.1L262.3 2029.6L263.0 2099.3L263.6 2078.9L264.3 2152.6L264.9 2049.7L265.6 2134.4L266.2 2056.3L266.9 2118.6L267.5 2064.8L268.2 2104.9L268.8 2074.5L269.5 2099.7L270.1 2052.7L270.8 2111.3L271.4 2058.3L272.0 2130.7L272.7 2050.1L273.3 2097.8L274.0 2071.4L274.6 2106.8L275.3 2049.9L275.9 2126.8L276.6 2034.8L277.2 2093.1L277.9 2036.3L278.5 2093.2L279.2 2064.1L279.8 2120.9L280.5 2033.3L281.1 2103.5L281.8 2052.6L282.4 2115.8L283.1 2066.5L283.7 2107.8L284.4 2062.6L285.0 2125.9L285.7 2065.0L286.3 2114.4L287.0 2027.3L287.6 2110.8L288.3 2067.8L288.9 2115.8L289.6 2032.0L290.2 2090.4L290.9 2059.8L291.5 2095.5L292.2 2055.6L292.8 2083.5L293.5 2013.9L294.1 2107.4L294.8 2035.8L295.4 2087.1L296.1 2063.5L296.7 2117.7L297.4 2049.2L298.0 2090.2L298.7 2068.2L299.3 2113.8L300.0 2044.0L300.6 2099.2L301.3 2073.5L301.9 2095.3L302.6 2021.3L303.2 2110.3L303.9 2073.1L304.5 2102.0L305.2 2015.4L305.8 2108.9L306.5 2071.1L307.1 2120.1L307.8 2026.8L308.4 2106.9L309.0 2064.3L309.7 2096.6L310.3 2067.9L311.0 2098.0L311.6 2024.1L312.3 2096.9L312.9 2034.5L313.6 2093.0L314.2 2037.7L314.9 2100.8L315.5 2045.5L316.2 2100.6L316.8 1993.1L317.5 2097.7L318.1 2020.9L318.8 2111.4L319.4 2043.0L320.1 2110.8L320.7 2038.3L321.4 2105.5L322.0 2058.3L322.7 2099.5L323.3 2022.5L324.0 2106.3L324.6 2074.3L325.3 2116.9L325.9 2028.3L326.6 2110.8L327.2 2050.4L327.9 2107.9L328.5 2043.2L329.2 2095.3L329.8 2059.3L330.5 2104.9L331.1 2067.6L331.8 2122.4L332.4 2065.1L333.1 2089.4L333.7 2065.2L334.4 2095.4L335.0 2052.7L335.7 2104.3L336.3 2041.8L337.0 2084.3L337.6 2062.9L338.3 2086.6L338.9 2061.3L339.6 2109.1L340.2 2049.5L340.9 2075.9L341.5 2056.6L342.2 2101.2L342.8 2039.0L343.5 2097.5L344.1 2047.1L344.7 2101.5L345.4 1985.5L346.0 2114.3L346.7 2032.9L347.3 2104.1L348.0 2041.9L348.6 2100.0L349.3 2043.1L349.9 2093.4L350.6 2032.3L351.2 2104.1L351.9 2042.5L352.5 2077.2L353.2 2050.0L353.8 2079.9L354.5 2047.4L355.1 2093.3L355.8 2041.7L356.4 2085.5L357.1 2061.4L357.7 2091.4L358.4 2057.5L359.0 2089.9L359.7 2062.4L360.3 2093.8L361.0 2056.3L361.6 2087.5L362.3 2010.1L362.9 2091.1L363.6 2041.4L364.2 2091.9L364.9 2041.6L365.5 2102.6L366.2 2044.3L366.8 2088.9L367.5 2033.5L368.1 2098.5L368.8 2054.9L369.4 2086.5L370.1 2064.4L370.7 2125.0L371.4 1989.8L372.0 2086.7L372.7 2059.1L373.3 2086.2L374.0 2051.9L374.6 2093.1L375.3 2058.6L375.9 2094.1L376.6 2062.3L377.2 2111.7L377.9 2067.6L378.5 2086.6L379.2 2047.8L379.8 2087.0L380.4 2061.0M409.7 2096.0L410.4 2070.0L411.0 2111.6L411.7 2066.7L412.3 2098.6L413.0 2069.0L413.6 2096.0L414.3 2036.4L414.9 2085.1L415.6 2043.4L416.2 2092.4L416.9 2056.1L417.5 2085.6L418.2 2061.0L418.8 2101.0L419.5 2045.7L420.1 2099.1L420.8 2030.4L421.4 2108.8L422.1 2076.1L422.7 2103.5L423.4 2043.6L424.0 2102.0L424.7 2070.1L425.3 2109.2L426.0 2074.9L426.6 2112.2L427.3 2031.3L427.9 2104.9L428.6 2066.1L429.2 2129.2L429.9 2046.8L430.5 2100.6L431.2 2047.1L431.8 2095.3L432.5 1998.1L433.1 2109.4L433.8 2065.5L434.4 2120.2L435.1 2076.2L435.7 2109.0L436.4 2079.0L437.1 2119.6L437.7 2085.4L438.4 2110.3L439.0 2044.6L439.7 2104.9L440.3 2075.3L441.0 2105.0L441.6 2078.6L442.3 2111.0L442.9 2045.3L443.6 2104.0L444.2 2040.5L444.9 2121.3L445.5 2077.7L446.2 2121.7L446.8 2075.7L447.5 2114.2L448.1 2058.6L448.8 2105.9L449.4 2082.8L450.1 2133.2L450.7 2067.4L451.4 2108.4L452.0 2033.2L452.7 2098.4L453.3 2067.1L454.0 2148.4L454.6 2074.4L455.3 2163.3L455.9 2064.2L456.6 2165.3L457.2 2067.6L457.9 2119.6L458.5 2080.5L459.2 2104.4L459.8 2071.5L460.5 2102.5L461.1 2077.8L461.8 2106.6L462.4 2065.8L463.1 2093.9L463.7 2075.5L464.4 2119.7L465.1 2047.9L465.7 2120.3L466.4 2068.3L467.0 2104.3L467.7 2059.1L468.3 2098.1L469.0 2065.8L469.6 2153.0L470.3 2059.0L470.9 2138.0L471.6 2072.7L472.2 2107.2L472.9 2079.7L473.5 2108.5L474.2 2067.1L474.8 2108.0L475.5 2036.8L476.1 2129.4L476.8 2044.5L477.4 2115.2L478.1 2044.9L478.7 2103.1L479.4 2061.6L480.0 2102.5L480.7 2077.1L481.3 2107.0L482.0 2086.9L482.6 2100.8L483.3 2036.9L483.9 2109.0L484.6 2065.4L485.2 2130.6L485.9 2018.6L486.5 2130.6L487.2 2074.7L487.8 2090.0L488.5 2051.3L489.1 2109.1L489.8 2071.8L490.4 2106.4L491.1 2037.0L491.8 2104.6L492.4 2079.0L493.1 2100.9L493.7 2068.5L494.4 2130.8L495.0 2047.7L495.7 2127.3L496.3 2082.4L497.0 2130.1L497.6 2067.6L498.3 2103.6L498.9 2077.0L499.6 2111.4L500.2 2059.3L500.9 2112.7L501.5 2082.1L502.2 2133.8L502.8 2081.4L503.5 2133.2L504.1 2066.6L504.8 2105.8L505.4 2078.0L506.1 2099.4L506.7 2048.1L507.4 2102.8L508.0 2090.0L508.7 2107.4L509.3 2083.5L510.0 2104.5L510.6 2087.1L511.3 2106.0L511.9 2081.5L512.6 2121.2L513.2 2076.6L513.9 2123.3L514.5 2088.1L515.2 2109.9L515.8 2080.7L516.5 2113.0L517.1 2096.3L517.8 2111.9L518.5 2082.9M595.7 2120.2L596.3 2018.6L597.0 2092.7L597.6 2065.6L598.3 2089.7L598.9 2064.2L599.5 2101.3L600.2 2053.7L600.8 2090.0L601.5 2058.7L602.1 2106.6L602.8 2054.1L603.4 2120.1L604.0 2047.4L604.7 2104.8L605.3 2056.0L606.0 2125.8L606.6 2071.6L607.2 2101.8L607.9 2035.7L608.5 2086.7L609.2 2060.7L609.8 2123.5L610.4 2064.1M807.7 2101.5L808.3 2083.0L809.0 2096.8L809.6 2074.9L810.3 2093.5L810.9 2079.1L811.5 2105.6L812.2 2070.7L812.8 2093.0L813.4 2038.4L814.1 2090.0L814.7 2072.6L815.4 2086.8L816.0 2029.1L816.6 2095.6L817.3 2044.5L817.9 2089.5L818.6 2019.1L819.2 2094.7L819.8 2032.4L820.5 2097.6L821.1 2060.0L821.8 2090.5L822.4 2048.0L823.0 2086.9L823.7 2038.4L824.3 2095.9L824.9 2002.8L825.6 2096.4L826.2 2046.9L826.9 2098.6L827.5 2041.5L828.1 2097.7L828.8 2032.8L829.4 2092.6L830.1 2002.4L830.7 2090.7L831.3 2037.6L832.0 2075.3L832.6 1994.6L833.2 2076.1L833.9 2042.6L834.5 2082.7L835.2 2057.0L835.8 2079.5L836.4 2030.6M871.7 2107.8L872.4 2074.5L873.1 2130.0L873.7 2034.8L874.4 2126.8L875.1 2073.9L875.8 2115.3L876.4 2030.6L877.1 2107.8L877.8 2071.2L878.4 2119.4L879.1 2073.3L879.8 2134.2L880.5 2043.6M1143.7 2093.6L1144.3 2046.2L1145.0 2087.9L1145.6 2052.2L1146.3 2095.0L1146.9 2024.3L1147.6 2092.7L1148.2 2061.1L1148.9 2099.1L1149.5 2059.4L1150.2 2113.1L1150.8 2072.3L1151.5 2093.9L1152.1 2076.7L1152.8 2106.9L1153.4 2058.7L1154.1 2112.4L1154.7 2074.7L1155.4 2123.5L1156.0 2087.8L1156.7 2110.7L1157.3 2033.8L1158.0 2113.4L1158.6 2081.8L1159.3 2112.3L1159.9 2064.5L1160.6 2126.1L1161.2 2085.9L1161.9 2110.5L1162.5 2054.0L1163.2 2126.8L1163.8 2085.8L1164.5 2103.4L1165.1 2068.1L1165.8 2115.4L1166.4 2070.6L1167.1 2105.0L1167.7 2042.1L1168.4 2115.1L1169.0 2060.7L1169.7 2108.1L1170.3 2086.0L1170.9 2115.2L1171.6 2066.4L1172.2 2100.0L1172.9 2080.0L1173.5 2129.7L1174.2 2078.7L1174.8 2094.9L1175.5 2060.4L1176.1 2093.9L1176.8 2060.3L1177.4 2106.7L1178.1 2036.5L1178.7 2119.3L1179.4 2055.5L1180.0 2095.1L1180.7 2074.4L1181.3 2109.8L1182.0 2071.4L1182.6 2110.7L1183.3 2077.6L1183.9 2108.2L1184.6 2033.7L1185.2 2100.7L1185.9 2054.4L1186.5 2090.0L1187.2 2062.8L1187.8 2111.7L1188.5 2070.4L1189.1 2099.3L1189.8 2034.1L1190.4 2099.0L1191.1 2052.3L1191.7 2106.3L1192.4 2063.6L1193.0 2108.9L1193.7 2078.7L1194.3 2109.4L1195.0 2073.1L1195.6 2134.0L1196.3 2075.5L1196.9 2103.4L1197.5 2022.6L1198.2 2115.0L1198.8 2047.4L1199.5 2104.5L1200.1 2064.5L1200.8 2113.6L1201.4 2079.8L1202.1 2116.6L1202.7 2015.3L1203.4 2119.3L1204.0 2084.0L1204.7 2109.2L1205.3 2093.0L1206.0 2113.5L1206.6 2072.7L1207.3 2130.6L1207.9 2013.5L1208.6 2116.2L1209.2 2026.9L1209.9 2111.3L1210.5 2072.5L1211.2 2108.8L1211.8 2067.5L1212.5 2122.4L1213.1 2060.3L1213.8 2134.1L1214.4 2045.6L1215.1 2138.5L1215.7 2046.6L1216.4 2123.0L1217.0 1999.4L1217.7 2111.5L1218.3 2083.0L1219.0 2113.6L1219.6 2068.2L1220.3 2101.3L1220.9 2079.4L1221.6 2105.2L1222.2 2055.1L1222.9 2117.2L1223.5 2015.7L1224.1 2115.3L1224.8 2068.7L1225.4 2131.0L1226.1 2038.0L1226.7 2113.6L1227.4 2075.4L1228.0 2106.6L1228.7 2043.2L1229.3 2118.7L1230.0 2080.7L1230.6 2125.8L1231.3 2085.0L1231.9 2130.8L1232.6 2053.3L1233.2 2122.5L1233.9 2077.2L1234.5 2115.2L1235.2 2081.6L1235.8 2104.1L1236.5 2082.8L1237.1 2110.1L1237.8 2051.7L1238.4 2115.7L1239.1 2087.9L1239.7 2099.8L1240.4 2030.9L1241.0 2104.1L1241.7 2026.9L1242.3 2114.1L1243.0 2059.8L1243.6 2103.4L1244.3 2074.5L1244.9 2114.7L1245.6 2083.7L1246.2 2111.7L1246.9 2068.8L1247.5 2117.8L1248.2 2044.2L1248.8 2122.0L1249.5 2088.7L1250.1 2128.6L1250.8 2081.8L1251.4 2127.2L1252.0 2081.4L1252.7 2151.0L1253.3 2069.4L1254.0 2146.9L1254.6 2063.7L1255.3 2108.4L1255.9 2079.2L1256.6 2109.7L1257.2 2064.1L1257.9 2106.5L1258.5 2077.3L1259.2 2104.5L1259.8 2072.8L1260.5 2139.1L1261.1 2030.0L1261.8 2153.7L1262.4 2047.7L1263.1 2133.8L1263.7 2064.9L1264.4 2101.2L1265.0 2064.6L1265.7 2158.0L1266.3 2040.5L1267.0 2100.9L1267.6 2066.9L1268.3 2099.4L1268.9 2073.6L1269.6 2123.0L1270.2 2083.5L1270.9 2112.0L1271.5 2064.3L1272.2 2105.9L1272.8 2080.9L1273.5 2117.7L1274.1 2081.6L1274.8 2105.1L1275.4 2078.6L1276.1 2111.4L1276.7 2087.3L1277.4 2140.6L1278.0 2077.5L1278.6 2103.2L1279.3 2079.9L1279.9 2110.7L1280.6 2089.3L1281.2 2110.5L1281.9 2070.1L1282.5 2102.9L1283.2 2081.0L1283.8 2130.0L1284.5 2093.2L1285.1 2108.3L1285.8 2087.3L1286.4 2118.7L1287.1 2045.9L1287.7 2106.1L1288.4 2070.1L1289.0 2106.0L1289.7 2058.9L1290.3 2123.5L1291.0 2090.0L1291.6 2118.3L1292.3 2071.8L1292.9 2101.8L1293.6 2073.7L1294.2 2125.4L1294.9 2079.4L1295.5 2112.0L1296.2 2086.2L1296.8 2107.5L1297.5 2089.4L1298.1 2117.1L1298.8 2097.0L1299.4 2115.8L1300.1 2084.5L1300.7 2109.9L1301.4 2084.6L1302.0 2107.9L1302.7 2092.5L1303.3 2112.2L1304.0 2087.4L1304.6 2104.9L1305.2 2081.9L1305.9 2114.2L1306.5 2079.6L1307.2 2107.4L1307.8 2050.2L1308.5 2105.4L1309.1 2055.8L1309.8 2096.1L1310.4 2064.3L1311.1 2105.4L1311.7 2079.8L1312.4 2102.7L1313.0 2074.0L1313.7 2102.0L1314.3 2057.2L1315.0 2097.9L1315.6 2055.6L1316.3 2096.0L1316.9 2067.7L1317.6 2089.4L1318.2 2063.8L1318.9 2092.1L1319.5 2073.2L1320.2 2092.3L1320.8 2078.9L1321.5 2093.2L1322.1 2076.1L1322.8 2094.4L1323.4 2081.8L1324.1 2094.7L1324.7 2073.8L1325.4 2110.8L1326.0 2070.2L1326.7 2100.2L1327.3 2080.5L1328.0 2100.1L1328.6 2081.4L1329.3 2104.1L1329.9 2082.7L1330.6 2096.5L1331.2 2067.7L1331.8 2097.1L1332.5 2066.7L1333.1 2100.2L1333.8 2078.1L1334.4 2090.0L1335.1 2076.1L1335.7 2095.2L1336.4 2043.6L1337.0 2084.3L1337.7 2054.1L1338.3 2084.8L1339.0 2075.9L1339.6 2090.0L1340.3 2073.2L1340.9 2099.7L1341.6 2074.3L1342.2 2086.3L1342.9 2057.7L1343.5 2089.5L1344.2 2074.5L1344.8 2097.5L1345.5 2048.3L1346.1 2088.0L1346.8 2069.7L1347.4 2088.4L1348.1 2027.7L1348.7 2077.6L1349.4 2063.7L1350.0 2079.7L1350.7 2053.4L1351.3 2071.8L1352.0 2022.2L1352.6 2081.8L1353.3 2026.1L1353.9 2083.5L1354.6 2019.0L1355.2 2079.8L1355.9 2059.3L1356.5 2073.6L1357.2 2014.8L1357.8 2080.4L1358.4 2055.8M1395.7 2116.3L1396.3 2079.0L1397.0 2108.0L1397.6 2067.5L1398.3 2099.0L1398.9 2085.2L1399.6 2115.7L1400.2 2086.8L1400.9 2104.5L1401.5 2080.9L1402.1 2097.5L1402.8 2084.8L1403.4 2110.1L1404.1 2072.2L1404.7 2102.9L1405.4 2066.6L1406.0 2113.6L1406.6 2080.1L1407.3 2089.5L1407.9 2043.2L1408.6 2098.0L1409.2 2053.9L1409.9 2114.1L1410.5 2027.5L1411.2 2098.4L1411.8 2055.5L1412.4 2103.1L1413.1 2071.5L1413.7 2094.0L1414.4 2062.7L1415.0 2094.8L1415.7 2049.9L1416.3 2103.7L1417.0 2048.6L1417.6 2115.5L1418.2 2069.2L1418.9 2089.5L1419.5 2051.5L1420.2 2086.4L1420.8 2032.9L1421.5 2106.5L1422.1 2036.3L1422.8 2100.5L1423.4 2030.1L1424.0 2104.6L1424.7 1999.7L1425.3 2099.5L1426.0 2050.6L1426.6 2105.7L1427.3 2038.5L1427.9 2130.7L1428.5 2068.5L1429.2 2094.9L1429.8 2054.3L1430.5 2103.6L1431.1 2047.9L1431.8 2125.6L1432.4 2041.4L1433.1 2080.2L1433.7 2005.5L1434.3 2078.5L1435.0 1995.0L1435.6 2088.7L1436.3 1995.8L1436.9 2078.9L1437.6 2045.6L1438.2 2098.3L1438.9 2045.1L1439.5 2089.4L1440.1 2057.5L1440.8 2127.1L1441.4 2061.4L1442.1 2103.3L1442.7 2055.3L1443.4 2094.3L1444.0 2037.7L1444.6 2092.8L1445.3 2008.2L1445.9 2094.5L1446.6 1991.5L1447.2 2060.5L1447.9 1987.7L1448.5 2096.3L1449.2 2022.9L1449.8 2080.9L1450.4 2025.2M1500.7 2115.3L1501.4 2108.3L1502.1 2118.0L1502.8 2112.1L1503.4 2120.9L1504.1 2109.3L1504.8 2118.5L1505.5 2104.9M1524.7 2102.5L1525.4 2085.8L1526.0 2105.8L1526.7 2087.1L1527.3 2095.1L1528.0 2074.2L1528.6 2097.1L1529.3 2068.2L1529.9 2092.1L1530.6 2067.4L1531.2 2089.2L1531.9 2079.4L1532.5 2098.6L1533.2 2039.7L1533.8 2095.8L1534.5 2066.3L1535.1 2103.7L1535.8 2027.6L1536.4 2101.1L1537.1 2074.1L1537.7 2090.7L1538.4 2052.8L1539.0 2101.1L1539.7 2067.2L1540.3 2109.1L1541.0 2061.8L1541.6 2104.7L1542.3 2054.2L1542.9 2093.2L1543.6 2045.9L1544.2 2092.9L1544.9 2068.8L1545.5 2098.0L1546.2 2084.0L1546.8 2102.1L1547.5 2078.7L1548.2 2103.2L1548.8 2053.6L1549.5 2105.6L1550.1 2062.4L1550.8 2098.0L1551.4 2074.7L1552.1 2104.8L1552.7 2070.8L1553.4 2111.1L1554.0 2083.7L1554.7 2093.1L1555.3 2083.2L1556.0 2097.4L1556.6 2063.7L1557.3 2095.1L1557.9 2065.1L1558.6 2091.9L1559.2 2058.1L1559.9 2088.8L1560.5 2059.2L1561.2 2104.2L1561.8 2069.3L1562.5 2091.3L1563.1 2050.7L1563.8 2098.9L1564.4 2039.2L1565.1 2088.3L1565.7 2046.9L1566.4 2109.7L1567.0 2074.0L1567.7 2103.2L1568.3 2063.0L1569.0 2099.0L1569.6 2080.3L1570.3 2113.9L1571.0 2083.7L1571.6 2099.6L1572.3 2034.8L1572.9 2104.9L1573.6 2080.4L1574.2 2097.9L1574.9 2051.8L1575.5 2090.7L1576.2 2052.9L1576.8 2107.0L1577.5 2056.6L1578.1 2095.4L1578.8 2076.7L1579.4 2088.3L1580.1 2056.6L1580.7 2108.0L1581.4 2058.7L1582.0 2095.2L1582.7 2063.4L1583.3 2094.8L1584.0 2036.9L1584.6 2093.3L1585.3 2051.4L1585.9 2093.9L1586.6 2036.9L1587.2 2085.4L1587.9 2049.1L1588.5 2094.1L1589.2 2029.9L1589.8 2074.0L1590.5 2050.8L1591.1 2081.8L1591.8 2042.3L1592.4 2081.5L1593.1 2051.4L1593.8 2084.4L1594.4 2046.2L1595.1 2074.4L1595.7 1987.7L1596.4 2092.5L1597.0 2053.7L1597.7 2088.8L1598.3 2055.9L1599.0 2094.0L1599.6 2048.1L1600.3 2104.4L1600.9 2031.1L1601.6 2103.3L1602.2 2063.6L1602.9 2104.1L1603.5 2046.6L1604.2 2095.7L1604.8 2050.8L1605.5 2108.3L1606.1 2061.9L1606.8 2095.9L1607.4 2035.0L1608.1 2092.3L1608.7 2046.0L1609.4 2084.3L1610.0 2049.0L1610.7 2085.6L1611.3 2050.1L1612.0 2086.8L1612.6 2048.6L1613.3 2118.3L1613.9 2058.2L1614.6 2086.3L1615.2 2028.8L1615.9 2095.7L1616.5 2012.8L1617.2 2083.5L1617.9 2062.0L1618.5 2080.8L1619.2 2018.9L1619.8 2088.6L1620.5 2055.6L1621.1 2088.8L1621.8 2024.9L1622.4 2097.9L1623.1 2060.4L1623.7 2086.8L1624.4 2057.0L1625.0 2114.7L1625.7 2033.8L1626.3 2102.6L1627.0 2063.1L1627.6 2102.9L1628.3 2071.0L1628.9 2105.6L1629.6 2078.8L1630.2 2115.4L1630.9 2058.3L1631.5 2114.0L1632.2 2076.0L1632.8 2105.6L1633.5 2054.8L1634.1 2124.4L1634.8 2073.3L1635.4 2132.8L1636.1 2079.4L1636.7 2131.2L1637.4 2069.7L1638.0 2106.8L1638.7 2050.3L1639.3 2105.8L1640.0 2054.0L1640.7 2102.3L1641.3 2053.3L1642.0 2110.1L1642.6 2059.4L1643.3 2098.0L1643.9 2066.6L1644.6 2103.8L1645.2 2070.9L1645.9 2097.4L1646.5 2072.9L1647.2 2100.7L1647.8 2064.2L1648.5 2107.8L1649.1 2053.0L1649.8 2104.9L1650.4 2070.4L1651.1 2121.1L1651.7 2075.7L1652.4 2095.0L1653.0 2081.2L1653.7 2105.3L1654.3 2075.0L1655.0 2104.6L1655.6 2071.4L1656.3 2121.1L1656.9 2089.6L1657.6 2106.2L1658.2 2089.2L1658.9 2101.9L1659.5 2095.4L1660.2 2106.9L1660.8 2090.7L1661.5 2117.0L1662.1 2092.7L1662.8 2111.8L1663.5 2097.4M1685.9 2084.2L1686.6 2045.3L1687.3 2085.5L1687.9 2050.8L1688.6 2067.7L1689.3 1964.1L1690.0 2088.6L1690.7 1964.2L1691.3 2068.4L1692.0 2021.5L1692.7 2060.5L1693.4 1992.5L1694.1 2098.9L1694.8 2012.0L1695.4 2080.1L1696.1 2038.2L1696.8 2073.8L1697.5 2017.1" fill="none" stroke="#f3d42c" stroke-width="3.3" stroke-linejoin="round" stroke-linecap="round"/><path d="M204.0 2101.6L204.7 2104.4L205.4 2101.2L206.1 2106.4L206.8 2094.3L207.5 2100.0L208.2 2098.4L208.9 2103.0L209.6 2102.2L210.3 2102.5L211.0 2096.8L211.7 2090.3L212.4 2095.7L213.1 2097.7L213.8 2095.5L214.5 2103.6L215.2 2101.5L215.9 2086.0L216.6 2099.0L217.3 2097.8L218.0 2103.0L218.7 2098.0L219.4 2104.0L220.1 2098.8L220.8 2095.7L221.5 2090.2L222.2 2095.8L222.9 2088.9L223.6 2099.8L224.4 2087.0L225.1 2096.9L225.8 2103.3L226.5 2096.0L227.2 2103.3L227.9 2094.0L228.6 2093.6L229.3 2093.7L230.0 2090.0L230.7 2097.7L231.4 2097.9L232.1 2096.4L232.8 2104.7L233.5 2099.1L234.2 2093.0L234.9 2092.3L235.6 2099.1L236.3 2093.8L237.0 2103.4L237.7 2101.0L238.4 2100.2L239.1 2098.3L239.8 2108.9L240.5 2098.6L241.2 2101.6L241.9 2097.7L242.6 2101.4L243.3 2097.6L244.0 2107.9L244.7 2104.6L245.4 2101.4L246.1 2111.5L246.8 2110.9L247.5 2104.3L248.2 2122.0L248.9 2108.2L249.6 2104.0L250.3 2107.4L251.0 2104.9L251.7 2109.5L252.4 2112.2L253.1 2104.6L253.8 2105.6L254.5 2115.2L255.2 2106.5L255.9 2112.5L256.6 2104.7L257.3 2103.4L258.0 2110.0L258.7 2112.3L259.4 2111.5L260.1 2107.9L260.8 2103.3L261.5 2108.7L262.2 2108.8L262.9 2108.6L263.6 2115.6L264.4 2106.3L265.1 2108.9L265.8 2107.7L266.5 2108.8L267.2 2105.0L267.9 2104.4L268.6 2108.1L269.3 2105.9L270.0 2106.2L270.7 2107.7L271.4 2108.9L272.1 2107.5L272.8 2112.7L273.5 2114.1L274.2 2104.1L274.9 2104.0L275.6 2102.5L276.3 2103.5L277.0 2101.1L277.7 2105.7L278.4 2097.3L279.1 2097.5L279.8 2106.5L280.5 2104.2L281.2 2100.9L281.9 2111.0L282.6 2107.2L283.3 2102.5L284.0 2100.9L284.7 2094.8L285.4 2097.0L286.1 2094.7L286.8 2091.1L287.5 2092.8L288.2 2099.0L288.9 2098.4L289.6 2103.4L290.3 2104.9L291.0 2094.1L291.7 2097.2L292.4 2097.3L293.1 2095.9L293.8 2096.1L294.5 2085.2L295.2 2083.5L295.9 2092.0L296.6 2093.2L297.3 2093.2L298.0 2092.7L298.7 2090.1L299.4 2088.8L300.1 2083.9L300.8 2086.5L301.5 2088.9L302.2 2085.1L302.9 2078.5L303.6 2079.6L304.4 2080.0L305.1 2078.3L305.8 2089.7L306.5 2089.0L307.2 2092.9L307.9 2090.8L308.6 2090.4L309.3 2087.0L310.0 2090.8L310.7 2085.3L311.4 2081.0L312.1 2084.6L312.8 2078.1L313.5 2081.1L314.2 2074.4L314.9 2077.2L315.6 2076.4L316.3 2072.3L317.0 2078.0L317.7 2086.4L318.4 2082.7L319.1 2083.2L319.8 2082.6L320.5 2078.3L321.2 2076.5L321.9 2078.8L322.6 2080.5L323.3 2077.3L324.0 2071.4M396.0 2094.4L396.7 2090.6L397.4 2088.9L398.1 2096.2L398.8 2087.5L399.5 2094.0L400.2 2099.5L400.9 2090.4L401.6 2096.3L402.3 2091.7L403.0 2095.6L403.7 2093.9L404.4 2096.0L405.1 2096.1L405.8 2093.7L406.5 2100.7L407.2 2093.9L407.9 2099.2L408.6 2101.2L409.3 2099.0L410.0 2097.1L410.7 2096.0L411.4 2102.9L412.1 2106.0L412.8 2109.4L413.5 2107.1L414.2 2098.8L414.9 2100.4L415.6 2100.3L416.3 2099.1L417.0 2094.3L417.7 2097.4L418.4 2092.4L419.1 2095.6L419.8 2104.5L420.5 2110.4L421.2 2105.3L421.9 2101.2L422.6 2102.2L423.3 2101.3L424.0 2101.3L424.7 2111.2L425.4 2114.4L426.1 2107.9L426.8 2101.0L427.5 2115.7L428.2 2108.9L428.9 2107.7L429.6 2096.1L430.3 2100.1L431.0 2102.8L431.7 2102.5L432.4 2107.0L433.1 2111.8L433.8 2103.5L434.5 2103.7L435.2 2111.9L435.9 2105.1L436.6 2103.9L437.3 2097.1L438.0 2096.2L438.7 2097.8L439.4 2092.2L440.1 2096.1L440.8 2095.3L441.5 2103.7L442.2 2102.0L442.9 2100.3L443.6 2104.8L444.3 2105.3L445.0 2103.3L445.7 2101.9L446.4 2104.5L447.1 2100.1L447.8 2100.9L448.5 2102.6L449.2 2070.0L449.9 2097.8L450.6 2102.6L451.3 2100.9L452.0 2094.1L452.7 2094.1L453.4 2088.1L454.1 2097.3L454.8 2091.7L455.5 2101.3L456.2 2104.2L456.9 2105.1L457.6 2101.0L458.3 2106.0L459.0 2097.5L459.7 2095.4L460.4 2090.5L461.1 2089.7L461.8 2088.5L462.5 2097.3L463.2 2092.6L463.9 2089.7L464.6 2094.1L465.3 2089.4L466.0 2091.5L466.7 2094.6L467.4 2099.2L468.1 2092.2L468.8 2089.3L469.5 2085.9L470.2 2086.4L470.9 2092.2L471.6 2087.1L472.3 2087.8L473.0 2087.1L473.7 2090.6L474.4 2095.5L475.1 2104.1L475.8 2097.4L476.5 2089.0L477.2 2084.0L477.9 2084.4L478.6 2087.5L479.3 2081.4L480.0 2090.9L480.7 2086.6L481.4 2083.1L482.1 2097.6L482.8 2083.8L483.5 2088.5L484.2 2088.9L484.9 2090.9L485.6 2087.1L486.3 2087.8L487.0 2092.0L487.7 2084.6L488.4 2092.9L489.1 2091.2L489.8 2092.5L490.5 2092.1L491.2 2085.7L491.9 2094.5L492.6 2098.3L493.3 2095.6L494.0 2096.1L494.7 2096.1L495.4 2090.0L496.1 2090.3L496.8 2093.8L497.5 2090.4L498.2 2091.2L498.9 2094.5L499.6 2091.2L500.3 2084.9L501.0 2083.2L501.7 2086.7L502.4 2079.9L503.1 2090.3L503.8 2088.5L504.5 2078.6L505.2 2084.9L505.9 2082.0L506.6 2074.2L507.3 2081.9L508.0 2083.6L508.7 2083.6L509.4 2082.6L510.1 2083.8L510.8 2088.8L511.5 2089.4L512.2 2091.6L512.9 2085.2L513.6 2079.0L514.3 2074.8L515.0 2076.0L515.7 2073.4L516.4 2077.1L517.1 2076.0L517.8 2080.3L518.5 2077.4L519.2 2082.9L519.9 2073.3L520.6 2081.1L521.3 2080.0L522.0 2075.3L522.7 2076.8L523.4 2079.0L524.1 2084.8L524.8 2081.8L525.5 2077.1L526.2 2073.5L526.9 2080.9L527.6 2080.2L528.3 2071.8L529.0 2077.1L529.7 2076.9L530.4 2080.0L531.1 2077.7L531.8 2077.7L532.5 2078.5L533.2 2077.6L533.9 2071.8L534.6 2066.7L535.3 2067.7L536.0 2072.6L536.7 2081.0L537.4 2080.6L538.1 2083.6L538.8 2088.4L539.5 2072.0L540.2 2082.0L540.9 2088.8L541.6 2086.9L542.3 2086.7L543.0 2079.7L543.7 2079.8L544.4 2085.1L545.1 2080.2L545.8 2076.6L546.5 2087.2L547.2 2078.1L547.9 2078.7L548.6 2076.5L549.3 2078.8L550.0 2077.6L550.7 2076.3L551.4 2078.8L552.1 2085.6L552.8 2090.2L553.5 2094.7L554.2 2082.2L554.9 2084.1L555.6 2086.0L556.3 2082.4L557.0 2087.3L557.7 2092.3L558.4 2100.5L559.1 2070.0L559.8 2099.3L560.5 2092.1L561.2 2097.9L561.9 2099.4L562.6 2093.9L563.3 2106.4L564.0 2113.5L564.7 2101.6L565.4 2102.6L566.1 2103.1L566.8 2112.2L567.5 2108.6L568.2 2118.0L568.9 2098.8L569.6 2104.0L570.4 2099.4L571.1 2101.0L571.8 2112.5L572.5 2106.1L573.2 2110.5L573.9 2105.5L574.6 2106.7L575.3 2099.7L576.0 2109.0L576.7 2100.4L577.4 2108.1L578.1 2109.2L578.8 2100.0L579.5 2105.6L580.2 2104.6L580.9 2110.5L581.6 2098.8L582.3 2093.8L583.0 2100.9L583.7 2093.7L584.4 2101.9L585.1 2101.3L585.8 2099.7L586.5 2104.0L587.2 2103.1L587.9 2102.4L588.6 2108.5L589.3 2101.8L590.0 2102.6L590.7 2105.4L591.4 2111.7L592.1 2109.3L592.8 2111.3L593.5 2098.3L594.2 2103.1L594.9 2102.8L595.6 2104.0L596.3 2112.5L597.0 2111.1L597.7 2102.5L598.4 2102.2L599.1 2108.3L599.8 2109.3L600.5 2110.2L601.2 2108.4L601.9 2105.6L602.6 2109.9L603.3 2109.4L604.0 2097.8L604.7 2099.7L605.4 2111.3L606.1 2110.8L606.8 2112.3L607.5 2110.3L608.2 2106.4L608.9 2109.0L609.6 2106.4L610.3 2112.4L611.0 2103.8L611.7 2107.8L612.4 2108.9L613.1 2110.5L613.8 2106.2L614.5 2105.4L615.2 2102.1L615.9 2115.1L616.6 2113.7L617.3 2109.4L618.0 2108.0L618.7 2108.0L619.4 2113.9L620.1 2106.7L620.8 2111.2L621.5 2102.6L622.2 2107.8L622.9 2108.6L623.6 2113.9L624.3 2101.4L625.0 2099.5L625.7 2111.9L626.4 2100.4L627.1 2097.0L627.8 2098.7L628.5 2099.2L629.2 2111.9L629.9 2107.8L630.6 2098.6L631.3 2106.1L632.0 2102.2L632.7 2104.8L633.4 2112.5L634.1 2112.2L634.8 2108.8L635.5 2106.4L636.2 2102.2L636.9 2108.4L637.6 2108.6L638.3 2107.7L639.0 2101.9L639.7 2106.0L640.4 2091.8L641.1 2094.2L641.8 2118.0L642.5 2097.5L643.2 2090.1L643.9 2100.2L644.6 2097.3L645.3 2101.1L646.0 2101.8L646.7 2103.8L647.4 2095.2L648.1 2097.5L648.8 2096.2L649.5 2101.8L650.2 2097.4L650.9 2096.9L651.6 2093.7L652.3 2090.9L653.0 2094.2L653.7 2090.0L654.4 2096.7L655.1 2092.7L655.8 2088.8L656.5 2100.4L657.2 2089.6L657.9 2095.1L658.6 2085.5L659.3 2089.8L660.0 2089.3L660.7 2091.6L661.4 2096.1L662.1 2092.4L662.8 2092.1L663.5 2091.1L664.2 2095.4L664.9 2089.6L665.6 2096.3L666.3 2085.5L667.0 2089.0L667.7 2088.2L668.4 2094.6L669.1 2095.6L669.8 2088.3L670.5 2095.7L671.2 2089.0L671.9 2091.4L672.6 2084.4L673.3 2085.0L674.0 2092.1L674.7 2099.9L675.4 2090.5L676.1 2086.8L676.8 2088.5L677.5 2096.7L678.2 2085.4L678.9 2091.1L679.6 2092.0L680.3 2091.6L681.0 2092.5L681.7 2094.9L682.4 2096.0L683.1 2087.5L683.8 2088.5L684.5 2088.3L685.2 2084.9L685.9 2091.1L686.6 2087.0L687.3 2087.1L688.0 2085.0L688.7 2094.2L689.4 2093.6L690.1 2087.4L690.8 2084.5L691.5 2087.5L692.2 2091.6L692.9 2090.3L693.6 2088.6L694.3 2088.8L695.0 2087.9L695.7 2083.6L696.4 2087.0L697.1 2083.3L697.8 2085.3L698.5 2085.4L699.2 2085.0L699.9 2082.2L700.6 2081.0L701.3 2079.4L702.0 2084.4L702.7 2085.6L703.4 2093.3L704.1 2089.2L704.8 2085.7L705.5 2086.5L706.2 2089.8L706.9 2080.3L707.6 2082.3L708.3 2077.7L709.0 2078.1L709.7 2082.9L710.4 2077.6L711.1 2087.4L711.8 2088.3L712.5 2087.7L713.2 2088.6L713.9 2085.5L714.6 2089.9L715.3 2086.2L716.0 2082.4L716.7 2081.4L717.4 2089.3L718.1 2091.2L718.8 2092.6L719.5 2089.9L720.2 2094.2L720.9 2087.8L721.6 2083.2L722.3 2087.4L723.0 2085.3L723.7 2087.2L724.4 2081.4L725.1 2085.4L725.8 2082.9L726.5 2084.7L727.2 2080.7L727.9 2075.8L728.6 2075.0L729.3 2074.6L730.0 2077.5L730.7 2079.4L731.4 2077.6L732.1 2075.8L732.8 2072.3L733.5 2079.1L734.2 2083.0L734.9 2080.5L735.6 2083.3L736.3 2086.0L737.0 2081.6L737.7 2086.2L738.4 2083.7L739.1 2077.0L739.8 2080.9L740.5 2090.7L741.2 2091.3L741.9 2087.4L742.6 2077.0L743.3 2087.1L744.0 2092.0M906.0 2084.2L906.7 2084.6L907.4 2085.8L908.1 2076.8L908.8 2075.9L909.5 2078.0L910.2 2086.4L910.9 2092.3L911.6 2093.1L912.3 2086.3L913.0 2087.5L913.7 2090.2L914.4 2085.7L915.1 2083.2L915.8 2082.0L916.5 2081.0L917.2 2085.8L917.9 2087.8L918.6 2081.3L919.3 2083.4L920.0 2078.4L920.7 2066.9L921.4 2071.0L922.1 2074.8L922.8 2069.3L923.5 2077.1L924.2 2078.5L924.8 2076.2L925.5 2084.7L926.2 2079.8L926.9 2081.6L927.6 2085.9L928.3 2081.5L929.0 2083.4L929.7 2089.9L930.4 2085.3L931.1 2090.5L931.8 2088.4L932.5 2092.8L933.2 2086.5L933.9 2081.7L934.6 2091.2L935.3 2087.1L936.0 2080.1L936.7 2082.9L937.4 2082.9L938.1 2085.8L938.8 2081.6L939.5 2080.9L940.2 2088.0L940.9 2087.8L941.6 2084.3L942.3 2084.7L943.0 2095.5L943.7 2091.6L944.4 2088.2L945.1 2094.2L945.8 2080.5L946.5 2084.1L947.2 2080.1L947.9 2079.9L948.6 2079.9L949.3 2079.1L950.0 2077.9L950.7 2083.2L951.4 2080.6L952.1 2093.7L952.8 2085.5L953.5 2081.7L954.2 2073.6L954.9 2083.1L955.6 2084.1L956.3 2085.1L957.0 2090.6L957.7 2087.9L958.4 2083.3L959.1 2088.7L959.8 2090.6L960.5 2083.2L961.2 2081.7L961.8 2087.7L962.5 2085.6L963.2 2084.1L963.9 2089.9L964.6 2096.2L965.3 2085.3L966.0 2086.0L966.7 2084.2L967.4 2080.2L968.1 2082.1L968.8 2085.5L969.5 2083.3L970.2 2085.9L970.9 2078.6L971.6 2080.6L972.3 2082.2L973.0 2088.9L973.7 2076.3L974.4 2081.3L975.1 2079.6L975.8 2076.4L976.5 2081.6L977.2 2092.1L977.9 2093.7L978.6 2091.9L979.3 2084.9L980.0 2092.4M1094.0 2087.6L1094.7 2089.7L1095.4 2088.2L1096.1 2072.0L1096.8 2094.5L1097.5 2095.8L1098.2 2089.4L1098.9 2090.5L1099.6 2090.3L1100.3 2084.8L1101.0 2095.6L1101.7 2093.2L1102.4 2096.8L1103.1 2092.6L1103.8 2085.7L1104.5 2089.9L1105.2 2097.5L1105.9 2098.3L1106.6 2089.1L1107.3 2092.9L1108.0 2088.4L1108.7 2092.1L1109.4 2100.0L1110.1 2092.0L1110.8 2096.1L1111.5 2098.0L1112.2 2091.6L1112.9 2093.4L1113.6 2100.5L1114.3 2103.6L1115.0 2098.5L1115.7 2089.2L1116.4 2101.5L1117.1 2100.9L1117.8 2099.1L1118.5 2098.4L1119.2 2099.4L1119.9 2099.5L1120.6 2103.1L1121.3 2107.1L1122.0 2112.0L1122.7 2106.3L1123.5 2100.6L1124.2 2106.7L1124.9 2102.6L1125.6 2106.9L1126.3 2114.0L1127.0 2110.5L1127.7 2108.3L1128.4 2106.3L1129.1 2122.0L1129.8 2109.7L1130.5 2113.9L1131.2 2107.2L1131.9 2107.5L1132.6 2113.1L1133.3 2107.7L1134.0 2107.9L1134.7 2104.2L1135.4 2102.3L1136.1 2097.0L1136.8 2090.5L1137.5 2096.6L1138.2 2090.8L1138.9 2095.1L1139.6 2105.3L1140.3 2104.5L1141.0 2100.8L1141.7 2093.2L1142.4 2094.8L1143.1 2091.3L1143.8 2096.3L1144.5 2100.9L1145.2 2099.2L1145.9 2093.7L1146.6 2088.7L1147.3 2089.2L1148.0 2093.9L1148.7 2104.3L1149.4 2102.6L1150.1 2094.4L1150.8 2085.9L1151.5 2084.8L1152.2 2090.6L1152.9 2090.7L1153.6 2088.9L1154.3 2096.5L1155.0 2097.6L1155.7 2097.1L1156.4 2095.6L1157.1 2092.1L1157.8 2095.8L1158.5 2086.7L1159.2 2103.4L1159.9 2095.0L1160.6 2088.2L1161.3 2082.0L1162.0 2089.3L1162.7 2085.0L1163.4 2089.1L1164.1 2087.7L1164.8 2096.3L1165.5 2088.4L1166.2 2086.8L1166.9 2081.0L1167.6 2088.5L1168.3 2087.4L1169.0 2084.8L1169.7 2090.9L1170.4 2081.4L1171.1 2081.5L1171.8 2085.3L1172.5 2088.9L1173.2 2087.2L1173.9 2086.1L1174.6 2086.2L1175.3 2090.5L1176.0 2084.2L1176.7 2086.1L1177.4 2077.9L1178.1 2079.7L1178.8 2084.2L1179.5 2079.0L1180.2 2076.4L1180.9 2078.4L1181.6 2085.7L1182.4 2079.9L1183.1 2074.1L1183.8 2070.1L1184.5 2070.3L1185.2 2076.5L1185.9 2071.3L1186.6 2068.3L1187.3 2078.5L1188.0 2073.8L1188.7 2070.4L1189.4 2068.6L1190.1 2072.6L1190.8 2077.2L1191.5 2070.3L1192.2 2068.5L1192.9 2062.5L1193.6 2073.6L1194.3 2080.1L1195.0 2080.4L1195.7 2068.6L1196.4 2069.5L1197.1 2074.6L1197.8 2069.5L1198.5 2073.1L1199.2 2075.7L1199.9 2076.8L1200.6 2077.7L1201.3 2077.1L1202.0 2076.2L1202.7 2080.4L1203.4 2071.8L1204.1 2065.1L1204.8 2062.3L1205.5 2067.7L1206.2 2071.2L1206.9 2079.0L1207.6 2073.9L1208.3 2075.2L1209.0 2077.4L1209.7 2072.6L1210.4 2088.4L1211.1 2083.0L1211.8 2074.7L1212.5 2076.4L1213.2 2074.0L1213.9 2087.8L1214.6 2084.2L1215.3 2080.5L1216.0 2080.4L1216.7 2088.8L1217.4 2081.4L1218.1 2082.5L1218.8 2087.8L1219.5 2080.3L1220.2 2078.3L1220.9 2070.0L1221.6 2076.5L1222.3 2068.3L1223.0 2073.3L1223.7 2068.5L1224.4 2069.1L1225.1 2071.6L1225.8 2073.0L1226.5 2068.6L1227.2 2069.8L1227.9 2065.9L1228.6 2069.2L1229.3 2077.0L1230.0 2078.7L1230.7 2074.3L1231.4 2079.9L1232.1 2080.1L1232.8 2077.2L1233.5 2075.2L1234.2 2071.6L1234.9 2077.7L1235.6 2081.2L1236.3 2076.1L1237.0 2080.6L1237.7 2082.9L1238.4 2073.1L1239.1 2072.4L1239.8 2074.1L1240.5 2080.6L1241.3 2082.6L1242.0 2082.2L1242.7 2077.5L1243.4 2082.3L1244.1 2077.0L1244.8 2076.9L1245.5 2078.1L1246.2 2057.2L1246.9 2076.3L1247.6 2081.0L1248.3 2073.0L1249.0 2075.3L1249.7 2078.3L1250.4 2071.8L1251.1 2077.6L1251.8 2079.0L1252.5 2076.5L1253.2 2070.7L1253.9 2073.3L1254.6 2076.8L1255.3 2083.9L1256.0 2084.7L1256.7 2079.1L1257.4 2086.6L1258.1 2088.9L1258.8 2084.7L1259.5 2083.9L1260.2 2087.1L1260.9 2090.7L1261.6 2081.0L1262.3 2087.1L1263.0 2087.4L1263.7 2081.4L1264.4 2086.6L1265.1 2084.2L1265.8 2093.0L1266.5 2089.8L1267.2 2085.2L1267.9 2087.1L1268.6 2083.0L1269.3 2086.9L1270.0 2078.5M1278.0 2099.9L1278.7 2098.3L1279.4 2104.0L1280.1 2095.7L1280.8 2097.7L1281.5 2091.3L1282.2 2092.6L1282.9 2100.9L1283.6 2093.5L1284.3 2095.5L1285.0 2101.4L1285.7 2100.6L1286.4 2098.1L1287.1 2108.0L1287.8 2107.3L1288.5 2096.1L1289.2 2099.1L1289.9 2103.2L1290.6 2109.2L1291.3 2106.4L1292.0 2110.1L1292.7 2107.2L1293.4 2107.0L1294.1 2101.0L1294.8 2108.5L1295.5 2111.7L1296.2 2103.1L1296.9 2104.8L1297.6 2103.5L1298.3 2104.1L1299.0 2101.9L1299.7 2107.6L1300.4 2117.0L1301.1 2113.0L1301.8 2105.6L1302.5 2108.3L1303.2 2106.2L1303.9 2108.5L1304.6 2105.2L1305.3 2098.5L1306.0 2106.2L1306.7 2109.6L1307.4 2113.2L1308.1 2104.2L1308.8 2138.0L1309.5 2105.0L1310.2 2115.2L1310.9 2114.4L1311.6 2110.4L1312.3 2112.8L1313.0 2109.5L1313.7 2103.0L1314.4 2101.0L1315.1 2106.2L1315.8 2111.7L1316.5 2107.3L1317.2 2110.5L1317.9 2112.0L1318.6 2109.2L1319.3 2113.7L1320.0 2108.4L1320.7 2111.9L1321.4 2108.2L1322.1 2111.8L1322.8 2106.2L1323.5 2112.8L1324.2 2105.9L1324.9 2108.3L1325.6 2106.9L1326.3 2109.0L1327.0 2114.1L1327.7 2116.4L1328.4 2103.9L1329.1 2110.9L1329.8 2107.9L1330.5 2114.9L1331.2 2115.3L1331.9 2103.4L1332.6 2102.8L1333.3 2107.1L1334.0 2109.5L1334.7 2101.3L1335.4 2096.9L1336.1 2101.8L1336.8 2089.5L1337.5 2091.7L1338.2 2092.0L1338.9 2086.9L1339.6 2087.5L1340.3 2092.3L1341.0 2090.3L1341.7 2080.8L1342.4 2081.3L1343.1 2077.1L1343.8 2071.8L1344.5 2074.1L1345.2 2072.6L1345.9 2069.9L1346.6 2073.2L1347.3 2071.2L1348.0 2068.3L1348.7 2062.1L1349.4 2060.6L1350.1 2064.6L1350.8 2059.4L1351.5 2055.6L1352.2 2048.3L1352.9 2056.3L1353.6 2056.3L1354.3 2056.1L1355.0 2060.8L1355.7 2055.5L1356.4 2058.1L1357.1 2055.7L1357.8 2057.4L1358.5 2055.1L1359.2 2045.6L1359.9 2051.2L1360.6 2049.5L1361.3 2036.0L1362.0 2051.0L1362.7 2047.7L1363.4 2048.8L1364.1 2048.7L1364.8 2047.3L1365.5 2051.1L1366.2 2056.6L1366.9 2062.9L1367.6 2062.0L1368.3 2063.9L1369.0 2054.8L1369.7 2057.3L1370.4 2057.3L1371.1 2059.0L1371.8 2064.0L1372.5 2061.3L1373.2 2061.3L1373.9 2064.0L1374.6 2056.3L1375.3 2058.6L1376.0 2056.2L1376.7 2062.9L1377.4 2059.3L1378.1 2056.8L1378.8 2054.6L1379.5 2054.6L1380.2 2058.9L1380.9 2057.1L1381.6 2055.7L1382.3 2059.5L1383.0 2061.2L1383.7 2059.7L1384.4 2062.8L1385.1 2057.8L1385.8 2064.1L1386.5 2047.4L1387.2 2051.3L1387.9 2053.8L1388.6 2054.5L1389.3 2042.0L1390.0 2060.4L1390.7 2051.2L1391.4 2061.9L1392.1 2060.3L1392.8 2056.7L1393.5 2057.3L1394.2 2058.6L1394.9 2062.4L1395.6 2057.3L1396.3 2068.0L1397.0 2070.4L1397.7 2055.1L1398.4 2053.7L1399.1 2062.8L1399.8 2061.2L1400.5 2060.7L1401.2 2066.8L1401.9 2073.0L1402.6 2067.0L1403.3 2064.9L1404.0 2066.3L1404.7 2061.4L1405.4 2077.0L1406.1 2071.6L1406.8 2072.0L1407.5 2073.0L1408.2 2071.3L1408.9 2064.3L1409.6 2070.1L1410.3 2065.6L1411.0 2063.5L1411.7 2073.4L1412.4 2071.9L1413.1 2071.7L1413.8 2071.1L1414.5 2070.6L1415.2 2074.9L1415.9 2071.3L1416.6 2065.0L1417.3 2077.4L1418.0 2081.0L1418.7 2072.1L1419.4 2076.8L1420.1 2072.7L1420.8 2076.5L1421.5 2076.4L1422.2 2075.6L1422.9 2076.1L1423.6 2085.9L1424.3 2074.4L1425.0 2068.4L1425.7 2084.0L1426.4 2080.4L1427.1 2077.1L1427.8 2084.7L1428.5 2084.4L1429.2 2083.6L1429.9 2083.1L1430.6 2092.0L1431.3 2090.9L1432.0 2087.5" fill="none" stroke="#000080" stroke-width="3.1" stroke-linejoin="round" stroke-linecap="round"/><path d="M215.1 2099.6L221.1 2101.1L227.1 2102.6L233.1 2104.0L239.1 2105.1L245.0 2106.2L251.0 2107.2L257.0 2107.2L263.0 2107.2L268.9 2106.4L274.9 2104.3L280.9 2102.1L286.9 2100.7L292.9 2099.3L298.8 2098.0L304.8 2097.1L310.8 2096.1L316.8 2095.5L322.8 2095.0M334.3 2092.7L340.2 2092.7L346.1 2092.7L352.1 2092.7L358.0 2091.7L363.9 2091.0L369.8 2092.4L375.8 2093.8L381.7 2095.3M422.1 2108.0L427.9 2108.0L433.6 2108.0L439.4 2107.2L445.2 2103.0L450.9 2101.4L456.7 2100.5L462.5 2099.6M474.6 2094.5L480.5 2094.1L486.4 2093.6L492.2 2092.8L498.1 2091.0L504.0 2089.2L509.9 2089.6L515.8 2090.3L521.7 2090.8L527.6 2090.9L533.5 2091.1L539.3 2091.3L545.2 2091.5M564.4 2092.0L570.5 2094.9L576.6 2097.7L582.7 2099.9L588.8 2100.9L594.9 2101.9L601.0 2102.8L607.0 2103.1L613.1 2102.1L619.2 2101.2L625.3 2099.8L631.4 2098.2L637.5 2096.7L643.6 2095.0L649.7 2093.1L655.8 2092.3L661.8 2093.2L667.9 2093.5L674.0 2092.8L680.1 2092.1L686.2 2092.2L692.3 2092.4L698.4 2092.6L704.5 2092.7L710.6 2092.7L716.7 2092.7L722.7 2092.7L728.8 2092.3L734.9 2092.3L741.0 2094.6L747.1 2097.0L753.2 2099.6M806.7 2093.2L812.7 2091.7L818.6 2090.2L824.6 2088.9L830.5 2087.8L836.5 2089.0L842.4 2090.1L848.4 2088.6L854.3 2087.1L860.3 2085.6L866.3 2085.4L872.2 2085.1L878.2 2084.9L884.1 2084.6L890.1 2084.4L896.0 2085.2L902.0 2086.2L907.9 2087.2L913.9 2088.4L919.9 2089.8L925.8 2091.2M1010.6 2085.1L1016.7 2084.3L1022.7 2083.5L1028.8 2082.7L1034.8 2082.0L1040.9 2081.2L1046.9 2081.4L1053.0 2081.9L1059.1 2082.3L1065.1 2083.0L1071.2 2084.0L1077.2 2084.9L1083.3 2086.6L1089.3 2088.5L1095.4 2090.4L1101.5 2092.4L1107.5 2094.3L1113.6 2095.5L1119.6 2096.0L1125.7 2096.6M1151.9 2092.0L1157.9 2090.6L1163.9 2089.2L1169.8 2087.9L1175.8 2086.4L1181.8 2084.5L1187.8 2082.6L1193.7 2081.8L1199.7 2081.8L1205.7 2081.8L1211.7 2081.9L1217.6 2082.5L1223.6 2083.1M1267.0 2078.0L1272.9 2079.5L1278.7 2080.9L1284.6 2082.4L1290.5 2083.6L1296.3 2084.7L1302.2 2085.5L1308.1 2084.9L1313.9 2084.2L1319.8 2082.1L1325.7 2080.1L1331.6 2078.0L1337.4 2076.5L1343.3 2075.0L1349.2 2073.6L1355.0 2072.8L1360.9 2072.1M1482.9 2091.2L1489.0 2088.1L1495.0 2085.0L1501.1 2081.8L1507.1 2078.9L1513.2 2077.0L1519.3 2075.1L1525.3 2073.2L1531.4 2069.4L1537.4 2066.1L1543.5 2067.9L1549.5 2070.1L1555.6 2069.4L1561.7 2067.4L1567.7 2065.8L1573.8 2066.2L1579.8 2066.6L1585.9 2067.2L1591.9 2067.3L1598.0 2067.3L1604.1 2067.3L1610.1 2067.3" fill="none" stroke="#000000" stroke-width="4.0" stroke-linejoin="round" stroke-linecap="butt"/></g>
<path d="M304.53 2328.85v14.58M478.80 2328.85v14.58M653.07 2328.85v14.58M827.34 2328.85v14.58M1002.09 2328.85v14.58M1176.36 2328.85v14.58M1350.63 2328.85v14.58M1524.90 2328.85v14.58M202.40 2306.06h-14.58M202.40 2187.06h-14.58M202.40 2068.06h-14.58M202.40 1949.06h-14.58M202.40 1830.05h-14.58M202.40 1711.05h-14.58M202.40 1592.05h-14.58M202.40 1473.05h-14.58M202.40 1354.05h-14.58" stroke="#000" stroke-width="3.33" fill="none"/>
<rect x="202.4" y="1342.8" width="1497.30" height="986.05" fill="none" stroke="#000" stroke-width="3.33" stroke-linejoin="miter"/>
<text x="173.20" y="2321.26" text-anchor="end" font-size="41.67">200</text>
<text x="173.20" y="2202.26" text-anchor="end" font-size="41.67">300</text>
<text x="173.20" y="2083.26" text-anchor="end" font-size="41.67">400</text>
<text x="173.20" y="1964.26" text-anchor="end" font-size="41.67">500</text>
<text x="173.20" y="1845.25" text-anchor="end" font-size="41.67">600</text>
<text x="173.20" y="1726.25" text-anchor="end" font-size="41.67">700</text>
<text x="173.20" y="1607.25" text-anchor="end" font-size="41.67">800</text>
<text x="173.20" y="1488.25" text-anchor="end" font-size="41.67">900</text>
<text x="173.20" y="1369.25" text-anchor="end" font-size="41.67">1000</text>
<text transform="translate(300.33 2385.65) rotate(-30)" text-anchor="end" font-size="41.67">2009</text>
<text transform="translate(474.60 2385.65) rotate(-30)" text-anchor="end" font-size="41.67">2010</text>
<text transform="translate(648.87 2385.65) rotate(-30)" text-anchor="end" font-size="41.67">2011</text>
<text transform="translate(823.14 2385.65) rotate(-30)" text-anchor="end" font-size="41.67">2012</text>
<text transform="translate(997.89 2385.65) rotate(-30)" text-anchor="end" font-size="41.67">2013</text>
<text transform="translate(1172.16 2385.65) rotate(-30)" text-anchor="end" font-size="41.67">2014</text>
<text transform="translate(1346.43 2385.65) rotate(-30)" text-anchor="end" font-size="41.67">2015</text>
<text transform="translate(1520.70 2385.65) rotate(-30)" text-anchor="end" font-size="41.67">2016</text>
<text x="951.05" y="2495.05" text-anchor="middle" font-size="41.67">Time</text>
<text transform="translate(35.60 1835.82) rotate(-90)" text-anchor="middle" font-size="41.67">pCO<tspan font-size="29.17" dy="6.9" dx="1.1">2</tspan><tspan dy="-6.9" dx="1.7">sw (µatm)</tspan></text>
<text x="951.05" y="1316.60" dx="0.45" text-anchor="middle" font-size="50">pCO<tspan font-size="35" dy="8.3" dx="0.6">2</tspan><tspan dy="-8.3" dx="2">sw at T</tspan><tspan font-size="35" font-style="italic" dy="8.3" dx="1.5" letter-spacing="2">mean</tspan></text>
<rect x="276.1" y="1359.80" width="1349.70" height="58.90" rx="6.7" ry="6.7" fill="#fff" fill-opacity="0.8" stroke="#ccc" stroke-opacity="0.8" stroke-width="4.17"/>
<path d="M287.32 1386.46h70.83" stroke="#558b2f" stroke-width="4.17" fill="none"/>
<text x="382.74" y="1398.36" font-size="33.33">CRIMP-2</text>
<path d="M587.12 1386.46h70.83" stroke="#d80000" stroke-width="4.17" fill="none"/>
<text x="682.54" y="1398.36" font-size="33.33">Ala Wai</text>
<path d="M874.52 1386.46h70.83" stroke="#f3d42c" stroke-width="4.17" fill="none"/>
<text x="969.94" y="1398.36" font-size="33.33">Kilo Nalu</text>
<path d="M1183.72 1386.46h70.83" stroke="#000080" stroke-width="4.17" fill="none"/>
<text x="1279.14" y="1398.36" font-size="33.33">WHOTS</text>
<path d="M1471.42 1386.46h70.83" stroke="#000000" stroke-width="4.17" fill="none"/>
<text x="1566.84" y="1398.36" font-size="33.33">Air</text>
</svg></body></html>
